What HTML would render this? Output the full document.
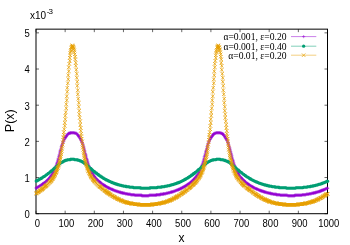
<!DOCTYPE html>
<html><head><meta charset="utf-8"><title>P(x)</title>
<style>html,body{margin:0;padding:0;background:#fff}body{width:350px;height:245px;overflow:hidden;font-family:"Liberation Sans",sans-serif}</style></head>
<body>
<svg width="350" height="245" viewBox="0 0 350 245" style="display:block;will-change:transform">
<rect width="350" height="245" fill="#fff"/>
<defs><clipPath id="c"><rect x="36.0" y="29.15" width="291.5" height="184.54999999999998"/></clipPath></defs>
<path d="M36 213.7v-3M36 29.15v3M65.15 213.7v-3M65.15 29.15v3M94.3 213.7v-3M94.3 29.15v3M123.45 213.7v-3M123.45 29.15v3M152.6 213.7v-3M152.6 29.15v3M181.75 213.7v-3M181.75 29.15v3M210.9 213.7v-3M210.9 29.15v3M240.05 213.7v-3M240.05 29.15v3M269.2 213.7v-3M269.2 29.15v3M298.35 213.7v-3M298.35 29.15v3M327.5 213.7v-3M327.5 29.15v3M36.0 213.7h3M327.5 213.7h-3M36.0 177.53h3M327.5 177.53h-3M36.0 141.36h3M327.5 141.36h-3M36.0 105.19h3M327.5 105.19h-3M36.0 69.02h3M327.5 69.02h-3M36.0 32.85h3M327.5 32.85h-3" stroke="#000" stroke-width="0.6" fill="none"/>
<rect x="36.0" y="29.15" width="291.5" height="184.54999999999998" fill="none" stroke="#000" stroke-width="1"/>
<g>
<path d="M36.25 188.25L36.25 187.75L36.75 187.75L37.25 187.25L37.75 187.25L38.25 186.75L38.75 186.75L39.25 186.25L39.75 185.75L40.25 185.75L40.75 185.25L41.25 185.25L41.75 184.75L42.25 184.25L42.75 184.25L42.75 183.75L43.25 183.75L43.75 183.25L44.25 183.25L44.25 182.75L44.75 182.75L45.25 182.25L45.75 181.75L46.25 181.25L46.75 180.75L47.25 180.75L47.25 180.25L47.75 179.75L48.25 179.25L48.75 179.25L48.75 178.75L49.25 178.25L49.75 177.75L49.75 177.25L50.25 177.25L50.75 176.75L50.75 176.25L51.25 175.75L51.25 175.25L51.75 175.25L52.25 174.75L52.25 174.25L52.75 173.75L52.75 173.25L53.25 172.75L53.25 172.25L53.75 171.75L54.25 170.75L54.25 170.25L54.75 169.75L54.75 168.75L55.25 168.25L55.75 167.25L55.75 166.75L56.25 165.75L56.25 165.25L56.75 164.25L56.75 163.25L57.25 162.25L57.75 161.25L57.75 160.25L58.25 159.25L58.25 158.25L58.75 156.75L59.25 155.75L59.25 154.75L59.75 153.75L59.75 152.25L60.25 151.25L60.25 150.25L60.75 149.25L61.25 148.25L61.25 146.75L61.75 146.25L61.75 145.25L62.25 144.25L62.75 143.25L62.75 142.75L63.25 141.75L63.25 141.25L63.75 140.75L63.75 139.75L64.25 139.25L64.75 138.75L64.75 138.25L65.25 137.75L65.25 137.25L65.75 136.75L66.25 136.75L66.25 136.25L66.75 135.75L66.75 135.25L67.25 134.75L67.75 134.25L68.25 133.75L68.75 133.75L68.75 133.25L69.25 133.25L69.75 133.25L70.25 133.25L70.25 132.75L70.75 132.75L71.25 132.75L71.75 132.75L72.25 132.75L72.75 132.75L73.25 132.75L73.75 132.75L74.25 132.75L74.75 133.25L75.25 133.25L75.75 133.25L76.25 133.25L76.75 133.75L77.25 134.25L77.75 134.75L77.75 135.25L78.25 135.75L78.75 135.75L78.75 136.25L79.25 136.75L79.25 137.25L79.75 137.75L80.25 138.25L80.25 138.75L80.75 139.25L80.75 139.75L81.25 140.25L81.25 140.75L81.75 141.75L82.25 142.25L82.25 143.25L82.75 143.75L82.75 144.75L83.25 145.75L83.75 146.75L83.75 147.75L84.25 148.75L84.25 149.75L84.75 150.75L84.75 151.75L85.25 153.25L85.75 154.25L85.75 155.25L86.25 156.25L86.25 157.75L86.75 158.75L87.25 159.75L87.25 160.75L87.75 161.75L87.75 162.75L88.25 163.75L88.25 164.75L88.75 165.75L89.25 166.25L89.25 167.25L89.75 167.75L89.75 168.75L90.25 169.25L90.75 170.25L90.75 170.75L91.25 171.25L91.25 171.75L91.75 172.25L91.75 172.75L92.25 173.25L92.75 173.75L92.75 174.25L93.25 174.75L93.25 175.25L93.75 175.75L94.25 176.25L94.25 176.75L94.75 176.75L94.75 177.25L95.25 177.75L95.75 178.25L96.25 178.75L96.75 179.25L96.75 179.75L97.25 179.75L97.75 180.25L98.25 180.75L98.75 181.25L99.25 181.75L99.75 181.75L99.75 182.25L100.25 182.25L100.25 182.75L100.75 182.75L101.25 183.25L101.75 183.75L102.25 184.25L102.75 184.25L103.25 184.75L103.75 184.75L103.75 185.25L104.25 185.25L104.75 185.75L105.25 185.75L105.25 186.25L105.75 186.25L106.25 186.75L106.75 186.75L107.25 187.25L107.75 187.25L108.25 187.75L108.75 187.75L108.75 188.25L109.25 188.25L109.75 188.25L110.25 188.75L110.75 188.75L111.25 189.25L111.75 189.25L112.25 189.25L112.25 189.75L112.75 189.75L113.25 189.75L113.75 190.25L114.25 190.25L114.75 190.75L115.25 190.75L115.75 190.75L116.25 191.25L116.75 191.25L117.25 191.25L117.75 191.75L118.25 191.75L118.75 191.75L119.25 192.25L119.75 192.25L120.25 192.25L120.75 192.25L120.75 192.75L121.25 192.75L121.75 192.75L122.25 192.75L122.75 192.75L122.75 193.25L123.25 193.25L123.75 193.25L124.25 193.25L124.75 193.25L125.25 193.75L125.75 193.75L126.25 193.75L126.75 193.75L127.25 193.75L127.75 194.25L128.25 194.25L128.75 194.25L129.25 194.25L129.75 194.25L130.25 194.25L130.75 194.75L131.25 194.75L131.75 194.75L132.25 194.75L132.75 194.75L133.25 194.75L133.75 194.75L134.25 194.75L134.75 195.25L135.25 195.25L135.75 195.25L136.25 195.25L136.75 195.25L137.25 195.25L137.75 195.25L138.25 195.25L138.75 195.25L139.25 195.25L139.75 195.25L140.25 195.25L140.75 195.25L141.25 195.25L141.75 195.25L141.75 195.75L142.25 195.75L142.75 195.75L143.25 195.75L143.75 195.75L144.25 195.75L144.75 195.75L145.25 195.75L145.75 195.75L146.25 195.75L146.75 195.75L147.25 195.75L147.75 195.75L148.25 195.75L148.75 195.75L149.25 195.25L149.75 195.25L150.25 195.25L150.75 195.25L151.25 195.25L151.75 195.25L152.25 195.25L152.75 195.25L153.25 195.25L153.75 195.25L154.25 195.25L154.75 195.25L155.25 195.25L155.75 195.25L156.25 195.25L156.25 194.75L156.75 194.75L157.25 194.75L157.75 194.75L158.25 194.75L158.75 194.75L159.25 194.75L159.75 194.75L160.25 194.75L160.25 194.25L160.75 194.25L161.25 194.25L161.75 194.25L162.25 194.25L162.75 194.25L163.25 194.25L163.25 193.75L163.75 193.75L164.25 193.75L164.75 193.75L165.25 193.75L165.75 193.75L166.25 193.25L166.75 193.25L167.25 193.25L167.75 193.25L168.25 192.75L168.75 192.75L169.25 192.75L169.75 192.75L170.25 192.25L170.75 192.25L171.25 192.25L171.75 192.25L171.75 191.75L172.25 191.75L172.75 191.75L173.25 191.75L173.75 191.25L174.25 191.25L174.75 191.25L175.25 190.75L175.75 190.75L176.25 190.25L176.75 190.25L177.25 190.25L177.75 189.75L178.25 189.75L178.75 189.75L178.75 189.25L179.25 189.25L179.75 189.25L180.25 188.75L180.75 188.75L180.75 188.25L181.25 188.25L181.75 188.25L182.25 187.75L182.75 187.75L182.75 187.25L183.25 187.25L183.75 186.75L184.25 186.75L184.75 186.75L184.75 186.25L185.25 186.25L185.75 185.75L186.25 185.75L186.25 185.25L186.75 185.25L187.25 184.75L187.75 184.75L187.75 184.25L188.25 184.25L188.75 183.75L189.25 183.75L189.25 183.25L189.75 183.25L190.25 182.75L190.75 182.25L191.25 182.25L191.25 181.75L191.75 181.75L191.75 181.25L192.25 181.25L192.75 180.75L193.25 180.25L193.25 179.75L193.75 179.75L193.75 179.25L194.25 179.25L194.75 178.75L194.75 178.25L195.25 178.25L195.25 177.75L195.75 177.25L196.25 177.25L196.25 176.75L196.75 176.25L196.75 175.75L197.25 175.25L197.75 174.75L198.25 174.25L198.25 173.75L198.75 173.25L198.75 172.75L199.25 172.25L199.75 171.75L199.75 170.75L200.25 170.25L200.25 169.75L200.75 168.75L200.75 168.25L201.25 167.25L201.75 166.75L201.75 165.75L202.25 165.25L202.25 164.25L202.75 163.25L203.25 162.25L203.25 161.25L203.75 160.25L203.75 159.25L204.25 158.25L204.25 156.75L204.75 155.75L205.25 154.75L205.25 153.75L205.75 152.25L205.75 151.25L206.25 150.25L206.75 149.25L206.75 148.25L207.25 146.75L207.25 146.25L207.75 145.25L207.75 144.25L208.25 143.25L208.75 142.75L208.75 141.75L209.25 141.25L209.25 140.75L209.75 139.75L210.25 139.25L210.25 138.75L210.75 138.25L210.75 137.75L211.25 137.25L211.25 136.75L211.75 136.75L212.25 136.25L212.25 135.75L212.75 135.25L212.75 134.75L213.25 134.75L213.75 134.25L213.75 133.75L214.25 133.75L214.75 133.25L215.25 133.25L215.75 133.25L216.25 132.75L216.75 132.75L217.25 132.75L217.75 132.75L218.25 132.75L218.75 132.75L219.25 132.75L219.75 132.75L220.25 132.75L220.75 133.25L221.25 133.25L221.75 133.25L222.25 133.75L222.75 133.75L222.75 134.25L223.25 134.25L223.25 134.75L223.75 135.25L224.25 135.75L224.75 136.25L224.75 136.75L225.25 137.25L225.25 137.75L225.75 138.25L226.25 138.75L226.25 139.25L226.75 139.75L226.75 140.25L227.25 140.75L227.75 141.75L227.75 142.25L228.25 143.25L228.25 143.75L228.75 144.75L228.75 145.75L229.25 146.75L229.75 147.75L229.75 148.75L230.25 149.75L230.25 150.75L230.75 151.75L231.25 153.25L231.25 154.25L231.75 155.25L231.75 156.25L232.25 157.75L232.25 158.75L232.75 159.75L233.25 160.75L233.25 161.75L233.75 162.75L233.75 163.75L234.25 164.75L234.75 165.75L234.75 166.25L235.25 167.25L235.25 167.75L235.75 168.75L235.75 169.25L236.25 170.25L236.75 170.75L236.75 171.25L237.25 171.75L237.25 172.25L237.75 172.75L238.25 173.25L238.25 173.75L238.75 174.25L238.75 174.75L239.25 175.25L239.25 175.75L239.75 176.25L240.25 176.75L240.75 177.25L240.75 177.75L241.25 177.75L241.75 178.25L241.75 178.75L242.25 178.75L242.25 179.25L242.75 179.75L243.25 180.25L243.75 180.25L243.75 180.75L244.25 180.75L244.25 181.25L244.75 181.25L245.25 181.75L245.75 182.25L246.25 182.75L246.75 183.25L247.25 183.25L247.25 183.75L247.75 183.75L247.75 184.25L248.25 184.25L248.75 184.25L248.75 184.75L249.25 184.75L249.75 185.25L250.25 185.75L250.75 185.75L251.25 186.25L251.75 186.25L252.25 186.75L252.75 186.75L252.75 187.25L253.25 187.25L253.75 187.75L254.25 187.75L254.75 188.25L255.25 188.25L255.75 188.75L256.25 188.75L256.75 188.75L256.75 189.25L257.25 189.25L257.75 189.25L258.25 189.75L258.75 189.75L259.25 190.25L259.75 190.25L260.25 190.25L260.25 190.75L260.75 190.75L261.25 190.75L261.75 190.75L261.75 191.25L262.25 191.25L262.75 191.25L263.25 191.25L263.25 191.75L263.75 191.75L264.25 191.75L264.75 191.75L264.75 192.25L265.25 192.25L265.75 192.25L266.25 192.25L266.75 192.75L267.25 192.75L267.75 192.75L268.25 192.75L268.75 193.25L269.25 193.25L269.75 193.25L270.25 193.25L270.75 193.25L270.75 193.75L271.25 193.75L271.75 193.75L272.25 193.75L272.75 193.75L273.25 194.25L273.75 194.25L274.25 194.25L274.75 194.25L275.25 194.25L275.75 194.25L276.25 194.25L276.25 194.75L276.75 194.75L277.25 194.75L277.75 194.75L278.25 194.75L278.75 194.75L279.25 194.75L279.75 194.75L280.25 195.25L280.75 195.25L281.25 195.25L281.75 195.25L282.25 195.25L282.75 195.25L283.25 195.25L283.75 195.25L284.25 195.25L284.75 195.25L285.25 195.25L285.75 195.25L286.25 195.25L286.75 195.25L287.25 195.25L287.75 195.75L288.25 195.75L288.75 195.75L289.25 195.75L289.75 195.75L290.25 195.75L290.75 195.75L291.25 195.75L291.75 195.75L292.25 195.75L292.75 195.75L293.25 195.75L293.75 195.75L294.25 195.75L294.75 195.75L294.75 195.25L295.25 195.25L295.75 195.25L296.25 195.25L296.75 195.25L297.25 195.25L297.75 195.25L298.25 195.25L298.75 195.25L299.25 195.25L299.75 195.25L300.25 195.25L300.75 195.25L301.25 195.25L301.75 195.25L302.25 194.75L302.75 194.75L303.25 194.75L303.75 194.75L304.25 194.75L304.75 194.75L305.25 194.75L305.75 194.75L306.25 194.25L306.75 194.25L307.25 194.25L307.75 194.25L308.25 194.25L308.75 194.25L309.25 193.75L309.75 193.75L310.25 193.75L310.75 193.75L311.25 193.75L311.75 193.25L312.25 193.25L312.75 193.25L313.25 193.25L313.75 193.25L313.75 192.75L314.25 192.75L314.75 192.75L315.25 192.75L315.75 192.75L315.75 192.25L316.25 192.25L316.75 192.25L317.25 192.25L317.75 191.75L318.25 191.75L318.75 191.75L319.25 191.75L319.25 191.25L319.75 191.25L320.25 191.25L320.75 191.25L320.75 190.75L321.25 190.75L321.75 190.75L321.75 190.25L322.25 190.25L322.75 190.25L323.25 190.25L323.25 189.75L323.75 189.75L324.25 189.75L324.75 189.25L325.25 189.25L325.75 188.75L326.25 188.75L326.75 188.25L327.25 188.25L327.75 188.25" stroke="#9400d3" stroke-width="0.5" fill="none"/>
<path d="M34.65 188.25h3.2M36.25 186.65v3.2M34.65 187.75h3.2M36.25 186.15v3.2M35.15 187.75h3.2M36.75 186.15v3.2M35.65 187.25h3.2M37.25 185.65v3.2M36.15 187.25h3.2M37.75 185.65v3.2M36.65 186.75h3.2M38.25 185.15v3.2M37.15 186.75h3.2M38.75 185.15v3.2M37.65 186.25h3.2M39.25 184.65v3.2M38.15 185.75h3.2M39.75 184.15v3.2M38.65 185.75h3.2M40.25 184.15v3.2M39.15 185.25h3.2M40.75 183.65v3.2M39.65 185.25h3.2M41.25 183.65v3.2M40.15 184.75h3.2M41.75 183.15v3.2M40.65 184.25h3.2M42.25 182.65v3.2M41.15 184.25h3.2M42.75 182.65v3.2M41.15 183.75h3.2M42.75 182.15v3.2M41.65 183.75h3.2M43.25 182.15v3.2M42.15 183.25h3.2M43.75 181.65v3.2M42.65 183.25h3.2M44.25 181.65v3.2M42.65 182.75h3.2M44.25 181.15v3.2M43.15 182.75h3.2M44.75 181.15v3.2M43.65 182.25h3.2M45.25 180.65v3.2M44.15 181.75h3.2M45.75 180.15v3.2M44.65 181.25h3.2M46.25 179.65v3.2M45.15 180.75h3.2M46.75 179.15v3.2M45.65 180.75h3.2M47.25 179.15v3.2M45.65 180.25h3.2M47.25 178.65v3.2M46.15 179.75h3.2M47.75 178.15v3.2M46.65 179.25h3.2M48.25 177.65v3.2M47.15 179.25h3.2M48.75 177.65v3.2M47.15 178.75h3.2M48.75 177.15v3.2M47.65 178.25h3.2M49.25 176.65v3.2M48.15 177.75h3.2M49.75 176.15v3.2M48.15 177.25h3.2M49.75 175.65v3.2M48.65 177.25h3.2M50.25 175.65v3.2M49.15 176.75h3.2M50.75 175.15v3.2M49.15 176.25h3.2M50.75 174.65v3.2M49.65 175.75h3.2M51.25 174.15v3.2M49.65 175.25h3.2M51.25 173.65v3.2M50.15 175.25h3.2M51.75 173.65v3.2M50.65 174.75h3.2M52.25 173.15v3.2M50.65 174.25h3.2M52.25 172.65v3.2M51.15 173.75h3.2M52.75 172.15v3.2M51.15 173.25h3.2M52.75 171.65v3.2M51.65 172.75h3.2M53.25 171.15v3.2M51.65 172.25h3.2M53.25 170.65v3.2M52.15 171.75h3.2M53.75 170.15v3.2M52.65 170.75h3.2M54.25 169.15v3.2M52.65 170.25h3.2M54.25 168.65v3.2M53.15 169.75h3.2M54.75 168.15v3.2M53.15 168.75h3.2M54.75 167.15v3.2M53.65 168.25h3.2M55.25 166.65v3.2M54.15 167.25h3.2M55.75 165.65v3.2M54.15 166.75h3.2M55.75 165.15v3.2M54.65 165.75h3.2M56.25 164.15v3.2M54.65 165.25h3.2M56.25 163.65v3.2M55.15 164.25h3.2M56.75 162.65v3.2M55.15 163.25h3.2M56.75 161.65v3.2M55.65 162.25h3.2M57.25 160.65v3.2M56.15 161.25h3.2M57.75 159.65v3.2M56.15 160.25h3.2M57.75 158.65v3.2M56.65 159.25h3.2M58.25 157.65v3.2M56.65 158.25h3.2M58.25 156.65v3.2M57.15 156.75h3.2M58.75 155.15v3.2M57.65 155.75h3.2M59.25 154.15v3.2M57.65 154.75h3.2M59.25 153.15v3.2M58.15 153.75h3.2M59.75 152.15v3.2M58.15 152.25h3.2M59.75 150.65v3.2M58.65 151.25h3.2M60.25 149.65v3.2M58.65 150.25h3.2M60.25 148.65v3.2M59.15 149.25h3.2M60.75 147.65v3.2M59.65 148.25h3.2M61.25 146.65v3.2M59.65 146.75h3.2M61.25 145.15v3.2M60.15 146.25h3.2M61.75 144.65v3.2M60.15 145.25h3.2M61.75 143.65v3.2M60.65 144.25h3.2M62.25 142.65v3.2M61.15 143.25h3.2M62.75 141.65v3.2M61.15 142.75h3.2M62.75 141.15v3.2M61.65 141.75h3.2M63.25 140.15v3.2M61.65 141.25h3.2M63.25 139.65v3.2M62.15 140.75h3.2M63.75 139.15v3.2M62.15 139.75h3.2M63.75 138.15v3.2M62.65 139.25h3.2M64.25 137.65v3.2M63.15 138.75h3.2M64.75 137.15v3.2M63.15 138.25h3.2M64.75 136.65v3.2M63.65 137.75h3.2M65.25 136.15v3.2M63.65 137.25h3.2M65.25 135.65v3.2M64.15 136.75h3.2M65.75 135.15v3.2M64.65 136.75h3.2M66.25 135.15v3.2M64.65 136.25h3.2M66.25 134.65v3.2M65.15 135.75h3.2M66.75 134.15v3.2M65.15 135.25h3.2M66.75 133.65v3.2M65.65 134.75h3.2M67.25 133.15v3.2M66.15 134.25h3.2M67.75 132.65v3.2M66.65 133.75h3.2M68.25 132.15v3.2M67.15 133.75h3.2M68.75 132.15v3.2M67.15 133.25h3.2M68.75 131.65v3.2M67.65 133.25h3.2M69.25 131.65v3.2M68.15 133.25h3.2M69.75 131.65v3.2M68.65 133.25h3.2M70.25 131.65v3.2M68.65 132.75h3.2M70.25 131.15v3.2M69.15 132.75h3.2M70.75 131.15v3.2M69.65 132.75h3.2M71.25 131.15v3.2M70.15 132.75h3.2M71.75 131.15v3.2M70.65 132.75h3.2M72.25 131.15v3.2M71.15 132.75h3.2M72.75 131.15v3.2M71.65 132.75h3.2M73.25 131.15v3.2M72.15 132.75h3.2M73.75 131.15v3.2M72.65 132.75h3.2M74.25 131.15v3.2M73.15 133.25h3.2M74.75 131.65v3.2M73.65 133.25h3.2M75.25 131.65v3.2M74.15 133.25h3.2M75.75 131.65v3.2M74.65 133.25h3.2M76.25 131.65v3.2M75.15 133.75h3.2M76.75 132.15v3.2M75.65 134.25h3.2M77.25 132.65v3.2M76.15 134.75h3.2M77.75 133.15v3.2M76.15 135.25h3.2M77.75 133.65v3.2M76.65 135.75h3.2M78.25 134.15v3.2M77.15 135.75h3.2M78.75 134.15v3.2M77.15 136.25h3.2M78.75 134.65v3.2M77.65 136.75h3.2M79.25 135.15v3.2M77.65 137.25h3.2M79.25 135.65v3.2M78.15 137.75h3.2M79.75 136.15v3.2M78.65 138.25h3.2M80.25 136.65v3.2M78.65 138.75h3.2M80.25 137.15v3.2M79.15 139.25h3.2M80.75 137.65v3.2M79.15 139.75h3.2M80.75 138.15v3.2M79.65 140.25h3.2M81.25 138.65v3.2M79.65 140.75h3.2M81.25 139.15v3.2M80.15 141.75h3.2M81.75 140.15v3.2M80.65 142.25h3.2M82.25 140.65v3.2M80.65 143.25h3.2M82.25 141.65v3.2M81.15 143.75h3.2M82.75 142.15v3.2M81.15 144.75h3.2M82.75 143.15v3.2M81.65 145.75h3.2M83.25 144.15v3.2M82.15 146.75h3.2M83.75 145.15v3.2M82.15 147.75h3.2M83.75 146.15v3.2M82.65 148.75h3.2M84.25 147.15v3.2M82.65 149.75h3.2M84.25 148.15v3.2M83.15 150.75h3.2M84.75 149.15v3.2M83.15 151.75h3.2M84.75 150.15v3.2M83.65 153.25h3.2M85.25 151.65v3.2M84.15 154.25h3.2M85.75 152.65v3.2M84.15 155.25h3.2M85.75 153.65v3.2M84.65 156.25h3.2M86.25 154.65v3.2M84.65 157.75h3.2M86.25 156.15v3.2M85.15 158.75h3.2M86.75 157.15v3.2M85.65 159.75h3.2M87.25 158.15v3.2M85.65 160.75h3.2M87.25 159.15v3.2M86.15 161.75h3.2M87.75 160.15v3.2M86.15 162.75h3.2M87.75 161.15v3.2M86.65 163.75h3.2M88.25 162.15v3.2M86.65 164.75h3.2M88.25 163.15v3.2M87.15 165.75h3.2M88.75 164.15v3.2M87.65 166.25h3.2M89.25 164.65v3.2M87.65 167.25h3.2M89.25 165.65v3.2M88.15 167.75h3.2M89.75 166.15v3.2M88.15 168.75h3.2M89.75 167.15v3.2M88.65 169.25h3.2M90.25 167.65v3.2M89.15 170.25h3.2M90.75 168.65v3.2M89.15 170.75h3.2M90.75 169.15v3.2M89.65 171.25h3.2M91.25 169.65v3.2M89.65 171.75h3.2M91.25 170.15v3.2M90.15 172.25h3.2M91.75 170.65v3.2M90.15 172.75h3.2M91.75 171.15v3.2M90.65 173.25h3.2M92.25 171.65v3.2M91.15 173.75h3.2M92.75 172.15v3.2M91.15 174.25h3.2M92.75 172.65v3.2M91.65 174.75h3.2M93.25 173.15v3.2M91.65 175.25h3.2M93.25 173.65v3.2M92.15 175.75h3.2M93.75 174.15v3.2M92.65 176.25h3.2M94.25 174.65v3.2M92.65 176.75h3.2M94.25 175.15v3.2M93.15 176.75h3.2M94.75 175.15v3.2M93.15 177.25h3.2M94.75 175.65v3.2M93.65 177.75h3.2M95.25 176.15v3.2M94.15 178.25h3.2M95.75 176.65v3.2M94.65 178.75h3.2M96.25 177.15v3.2M95.15 179.25h3.2M96.75 177.65v3.2M95.15 179.75h3.2M96.75 178.15v3.2M95.65 179.75h3.2M97.25 178.15v3.2M96.15 180.25h3.2M97.75 178.65v3.2M96.65 180.75h3.2M98.25 179.15v3.2M97.15 181.25h3.2M98.75 179.65v3.2M97.65 181.75h3.2M99.25 180.15v3.2M98.15 181.75h3.2M99.75 180.15v3.2M98.15 182.25h3.2M99.75 180.65v3.2M98.65 182.25h3.2M100.25 180.65v3.2M98.65 182.75h3.2M100.25 181.15v3.2M99.15 182.75h3.2M100.75 181.15v3.2M99.65 183.25h3.2M101.25 181.65v3.2M100.15 183.75h3.2M101.75 182.15v3.2M100.65 184.25h3.2M102.25 182.65v3.2M101.15 184.25h3.2M102.75 182.65v3.2M101.65 184.75h3.2M103.25 183.15v3.2M102.15 184.75h3.2M103.75 183.15v3.2M102.15 185.25h3.2M103.75 183.65v3.2M102.65 185.25h3.2M104.25 183.65v3.2M103.15 185.75h3.2M104.75 184.15v3.2M103.65 185.75h3.2M105.25 184.15v3.2M103.65 186.25h3.2M105.25 184.65v3.2M104.15 186.25h3.2M105.75 184.65v3.2M104.65 186.75h3.2M106.25 185.15v3.2M105.15 186.75h3.2M106.75 185.15v3.2M105.65 187.25h3.2M107.25 185.65v3.2M106.15 187.25h3.2M107.75 185.65v3.2M106.65 187.75h3.2M108.25 186.15v3.2M107.15 187.75h3.2M108.75 186.15v3.2M107.15 188.25h3.2M108.75 186.65v3.2M107.65 188.25h3.2M109.25 186.65v3.2M108.15 188.25h3.2M109.75 186.65v3.2M108.65 188.75h3.2M110.25 187.15v3.2M109.15 188.75h3.2M110.75 187.15v3.2M109.65 189.25h3.2M111.25 187.65v3.2M110.15 189.25h3.2M111.75 187.65v3.2M110.65 189.25h3.2M112.25 187.65v3.2M110.65 189.75h3.2M112.25 188.15v3.2M111.15 189.75h3.2M112.75 188.15v3.2M111.65 189.75h3.2M113.25 188.15v3.2M112.15 190.25h3.2M113.75 188.65v3.2M112.65 190.25h3.2M114.25 188.65v3.2M113.15 190.75h3.2M114.75 189.15v3.2M113.65 190.75h3.2M115.25 189.15v3.2M114.15 190.75h3.2M115.75 189.15v3.2M114.65 191.25h3.2M116.25 189.65v3.2M115.15 191.25h3.2M116.75 189.65v3.2M115.65 191.25h3.2M117.25 189.65v3.2M116.15 191.75h3.2M117.75 190.15v3.2M116.65 191.75h3.2M118.25 190.15v3.2M117.15 191.75h3.2M118.75 190.15v3.2M117.65 192.25h3.2M119.25 190.65v3.2M118.15 192.25h3.2M119.75 190.65v3.2M118.65 192.25h3.2M120.25 190.65v3.2M119.15 192.25h3.2M120.75 190.65v3.2M119.15 192.75h3.2M120.75 191.15v3.2M119.65 192.75h3.2M121.25 191.15v3.2M120.15 192.75h3.2M121.75 191.15v3.2M120.65 192.75h3.2M122.25 191.15v3.2M121.15 192.75h3.2M122.75 191.15v3.2M121.15 193.25h3.2M122.75 191.65v3.2M121.65 193.25h3.2M123.25 191.65v3.2M122.15 193.25h3.2M123.75 191.65v3.2M122.65 193.25h3.2M124.25 191.65v3.2M123.15 193.25h3.2M124.75 191.65v3.2M123.65 193.75h3.2M125.25 192.15v3.2M124.15 193.75h3.2M125.75 192.15v3.2M124.65 193.75h3.2M126.25 192.15v3.2M125.15 193.75h3.2M126.75 192.15v3.2M125.65 193.75h3.2M127.25 192.15v3.2M126.15 194.25h3.2M127.75 192.65v3.2M126.65 194.25h3.2M128.25 192.65v3.2M127.15 194.25h3.2M128.75 192.65v3.2M127.65 194.25h3.2M129.25 192.65v3.2M128.15 194.25h3.2M129.75 192.65v3.2M128.65 194.25h3.2M130.25 192.65v3.2M129.15 194.75h3.2M130.75 193.15v3.2M129.65 194.75h3.2M131.25 193.15v3.2M130.15 194.75h3.2M131.75 193.15v3.2M130.65 194.75h3.2M132.25 193.15v3.2M131.15 194.75h3.2M132.75 193.15v3.2M131.65 194.75h3.2M133.25 193.15v3.2M132.15 194.75h3.2M133.75 193.15v3.2M132.65 194.75h3.2M134.25 193.15v3.2M133.15 195.25h3.2M134.75 193.65v3.2M133.65 195.25h3.2M135.25 193.65v3.2M134.15 195.25h3.2M135.75 193.65v3.2M134.65 195.25h3.2M136.25 193.65v3.2M135.15 195.25h3.2M136.75 193.65v3.2M135.65 195.25h3.2M137.25 193.65v3.2M136.15 195.25h3.2M137.75 193.65v3.2M136.65 195.25h3.2M138.25 193.65v3.2M137.15 195.25h3.2M138.75 193.65v3.2M137.65 195.25h3.2M139.25 193.65v3.2M138.15 195.25h3.2M139.75 193.65v3.2M138.65 195.25h3.2M140.25 193.65v3.2M139.15 195.25h3.2M140.75 193.65v3.2M139.65 195.25h3.2M141.25 193.65v3.2M140.15 195.25h3.2M141.75 193.65v3.2M140.15 195.75h3.2M141.75 194.15v3.2M140.65 195.75h3.2M142.25 194.15v3.2M141.15 195.75h3.2M142.75 194.15v3.2M141.65 195.75h3.2M143.25 194.15v3.2M142.15 195.75h3.2M143.75 194.15v3.2M142.65 195.75h3.2M144.25 194.15v3.2M143.15 195.75h3.2M144.75 194.15v3.2M143.65 195.75h3.2M145.25 194.15v3.2M144.15 195.75h3.2M145.75 194.15v3.2M144.65 195.75h3.2M146.25 194.15v3.2M145.15 195.75h3.2M146.75 194.15v3.2M145.65 195.75h3.2M147.25 194.15v3.2M146.15 195.75h3.2M147.75 194.15v3.2M146.65 195.75h3.2M148.25 194.15v3.2M147.15 195.75h3.2M148.75 194.15v3.2M147.65 195.25h3.2M149.25 193.65v3.2M148.15 195.25h3.2M149.75 193.65v3.2M148.65 195.25h3.2M150.25 193.65v3.2M149.15 195.25h3.2M150.75 193.65v3.2M149.65 195.25h3.2M151.25 193.65v3.2M150.15 195.25h3.2M151.75 193.65v3.2M150.65 195.25h3.2M152.25 193.65v3.2M151.15 195.25h3.2M152.75 193.65v3.2M151.65 195.25h3.2M153.25 193.65v3.2M152.15 195.25h3.2M153.75 193.65v3.2M152.65 195.25h3.2M154.25 193.65v3.2M153.15 195.25h3.2M154.75 193.65v3.2M153.65 195.25h3.2M155.25 193.65v3.2M154.15 195.25h3.2M155.75 193.65v3.2M154.65 195.25h3.2M156.25 193.65v3.2M154.65 194.75h3.2M156.25 193.15v3.2M155.15 194.75h3.2M156.75 193.15v3.2M155.65 194.75h3.2M157.25 193.15v3.2M156.15 194.75h3.2M157.75 193.15v3.2M156.65 194.75h3.2M158.25 193.15v3.2M157.15 194.75h3.2M158.75 193.15v3.2M157.65 194.75h3.2M159.25 193.15v3.2M158.15 194.75h3.2M159.75 193.15v3.2M158.65 194.75h3.2M160.25 193.15v3.2M158.65 194.25h3.2M160.25 192.65v3.2M159.15 194.25h3.2M160.75 192.65v3.2M159.65 194.25h3.2M161.25 192.65v3.2M160.15 194.25h3.2M161.75 192.65v3.2M160.65 194.25h3.2M162.25 192.65v3.2M161.15 194.25h3.2M162.75 192.65v3.2M161.65 194.25h3.2M163.25 192.65v3.2M161.65 193.75h3.2M163.25 192.15v3.2M162.15 193.75h3.2M163.75 192.15v3.2M162.65 193.75h3.2M164.25 192.15v3.2M163.15 193.75h3.2M164.75 192.15v3.2M163.65 193.75h3.2M165.25 192.15v3.2M164.15 193.75h3.2M165.75 192.15v3.2M164.65 193.25h3.2M166.25 191.65v3.2M165.15 193.25h3.2M166.75 191.65v3.2M165.65 193.25h3.2M167.25 191.65v3.2M166.15 193.25h3.2M167.75 191.65v3.2M166.65 192.75h3.2M168.25 191.15v3.2M167.15 192.75h3.2M168.75 191.15v3.2M167.65 192.75h3.2M169.25 191.15v3.2M168.15 192.75h3.2M169.75 191.15v3.2M168.65 192.25h3.2M170.25 190.65v3.2M169.15 192.25h3.2M170.75 190.65v3.2M169.65 192.25h3.2M171.25 190.65v3.2M170.15 192.25h3.2M171.75 190.65v3.2M170.15 191.75h3.2M171.75 190.15v3.2M170.65 191.75h3.2M172.25 190.15v3.2M171.15 191.75h3.2M172.75 190.15v3.2M171.65 191.75h3.2M173.25 190.15v3.2M172.15 191.25h3.2M173.75 189.65v3.2M172.65 191.25h3.2M174.25 189.65v3.2M173.15 191.25h3.2M174.75 189.65v3.2M173.65 190.75h3.2M175.25 189.15v3.2M174.15 190.75h3.2M175.75 189.15v3.2M174.65 190.25h3.2M176.25 188.65v3.2M175.15 190.25h3.2M176.75 188.65v3.2M175.65 190.25h3.2M177.25 188.65v3.2M176.15 189.75h3.2M177.75 188.15v3.2M176.65 189.75h3.2M178.25 188.15v3.2M177.15 189.75h3.2M178.75 188.15v3.2M177.15 189.25h3.2M178.75 187.65v3.2M177.65 189.25h3.2M179.25 187.65v3.2M178.15 189.25h3.2M179.75 187.65v3.2M178.65 188.75h3.2M180.25 187.15v3.2M179.15 188.75h3.2M180.75 187.15v3.2M179.15 188.25h3.2M180.75 186.65v3.2M179.65 188.25h3.2M181.25 186.65v3.2M180.15 188.25h3.2M181.75 186.65v3.2M180.65 187.75h3.2M182.25 186.15v3.2M181.15 187.75h3.2M182.75 186.15v3.2M181.15 187.25h3.2M182.75 185.65v3.2M181.65 187.25h3.2M183.25 185.65v3.2M182.15 186.75h3.2M183.75 185.15v3.2M182.65 186.75h3.2M184.25 185.15v3.2M183.15 186.75h3.2M184.75 185.15v3.2M183.15 186.25h3.2M184.75 184.65v3.2M183.65 186.25h3.2M185.25 184.65v3.2M184.15 185.75h3.2M185.75 184.15v3.2M184.65 185.75h3.2M186.25 184.15v3.2M184.65 185.25h3.2M186.25 183.65v3.2M185.15 185.25h3.2M186.75 183.65v3.2M185.65 184.75h3.2M187.25 183.15v3.2M186.15 184.75h3.2M187.75 183.15v3.2M186.15 184.25h3.2M187.75 182.65v3.2M186.65 184.25h3.2M188.25 182.65v3.2M187.15 183.75h3.2M188.75 182.15v3.2M187.65 183.75h3.2M189.25 182.15v3.2M187.65 183.25h3.2M189.25 181.65v3.2M188.15 183.25h3.2M189.75 181.65v3.2M188.65 182.75h3.2M190.25 181.15v3.2M189.15 182.25h3.2M190.75 180.65v3.2M189.65 182.25h3.2M191.25 180.65v3.2M189.65 181.75h3.2M191.25 180.15v3.2M190.15 181.75h3.2M191.75 180.15v3.2M190.15 181.25h3.2M191.75 179.65v3.2M190.65 181.25h3.2M192.25 179.65v3.2M191.15 180.75h3.2M192.75 179.15v3.2M191.65 180.25h3.2M193.25 178.65v3.2M191.65 179.75h3.2M193.25 178.15v3.2M192.15 179.75h3.2M193.75 178.15v3.2M192.15 179.25h3.2M193.75 177.65v3.2M192.65 179.25h3.2M194.25 177.65v3.2M193.15 178.75h3.2M194.75 177.15v3.2M193.15 178.25h3.2M194.75 176.65v3.2M193.65 178.25h3.2M195.25 176.65v3.2M193.65 177.75h3.2M195.25 176.15v3.2M194.15 177.25h3.2M195.75 175.65v3.2M194.65 177.25h3.2M196.25 175.65v3.2M194.65 176.75h3.2M196.25 175.15v3.2M195.15 176.25h3.2M196.75 174.65v3.2M195.15 175.75h3.2M196.75 174.15v3.2M195.65 175.25h3.2M197.25 173.65v3.2M196.15 174.75h3.2M197.75 173.15v3.2M196.65 174.25h3.2M198.25 172.65v3.2M196.65 173.75h3.2M198.25 172.15v3.2M197.15 173.25h3.2M198.75 171.65v3.2M197.15 172.75h3.2M198.75 171.15v3.2M197.65 172.25h3.2M199.25 170.65v3.2M198.15 171.75h3.2M199.75 170.15v3.2M198.15 170.75h3.2M199.75 169.15v3.2M198.65 170.25h3.2M200.25 168.65v3.2M198.65 169.75h3.2M200.25 168.15v3.2M199.15 168.75h3.2M200.75 167.15v3.2M199.15 168.25h3.2M200.75 166.65v3.2M199.65 167.25h3.2M201.25 165.65v3.2M200.15 166.75h3.2M201.75 165.15v3.2M200.15 165.75h3.2M201.75 164.15v3.2M200.65 165.25h3.2M202.25 163.65v3.2M200.65 164.25h3.2M202.25 162.65v3.2M201.15 163.25h3.2M202.75 161.65v3.2M201.65 162.25h3.2M203.25 160.65v3.2M201.65 161.25h3.2M203.25 159.65v3.2M202.15 160.25h3.2M203.75 158.65v3.2M202.15 159.25h3.2M203.75 157.65v3.2M202.65 158.25h3.2M204.25 156.65v3.2M202.65 156.75h3.2M204.25 155.15v3.2M203.15 155.75h3.2M204.75 154.15v3.2M203.65 154.75h3.2M205.25 153.15v3.2M203.65 153.75h3.2M205.25 152.15v3.2M204.15 152.25h3.2M205.75 150.65v3.2M204.15 151.25h3.2M205.75 149.65v3.2M204.65 150.25h3.2M206.25 148.65v3.2M205.15 149.25h3.2M206.75 147.65v3.2M205.15 148.25h3.2M206.75 146.65v3.2M205.65 146.75h3.2M207.25 145.15v3.2M205.65 146.25h3.2M207.25 144.65v3.2M206.15 145.25h3.2M207.75 143.65v3.2M206.15 144.25h3.2M207.75 142.65v3.2M206.65 143.25h3.2M208.25 141.65v3.2M207.15 142.75h3.2M208.75 141.15v3.2M207.15 141.75h3.2M208.75 140.15v3.2M207.65 141.25h3.2M209.25 139.65v3.2M207.65 140.75h3.2M209.25 139.15v3.2M208.15 139.75h3.2M209.75 138.15v3.2M208.65 139.25h3.2M210.25 137.65v3.2M208.65 138.75h3.2M210.25 137.15v3.2M209.15 138.25h3.2M210.75 136.65v3.2M209.15 137.75h3.2M210.75 136.15v3.2M209.65 137.25h3.2M211.25 135.65v3.2M209.65 136.75h3.2M211.25 135.15v3.2M210.15 136.75h3.2M211.75 135.15v3.2M210.65 136.25h3.2M212.25 134.65v3.2M210.65 135.75h3.2M212.25 134.15v3.2M211.15 135.25h3.2M212.75 133.65v3.2M211.15 134.75h3.2M212.75 133.15v3.2M211.65 134.75h3.2M213.25 133.15v3.2M212.15 134.25h3.2M213.75 132.65v3.2M212.15 133.75h3.2M213.75 132.15v3.2M212.65 133.75h3.2M214.25 132.15v3.2M213.15 133.25h3.2M214.75 131.65v3.2M213.65 133.25h3.2M215.25 131.65v3.2M214.15 133.25h3.2M215.75 131.65v3.2M214.65 132.75h3.2M216.25 131.15v3.2M215.15 132.75h3.2M216.75 131.15v3.2M215.65 132.75h3.2M217.25 131.15v3.2M216.15 132.75h3.2M217.75 131.15v3.2M216.65 132.75h3.2M218.25 131.15v3.2M217.15 132.75h3.2M218.75 131.15v3.2M217.65 132.75h3.2M219.25 131.15v3.2M218.15 132.75h3.2M219.75 131.15v3.2M218.65 132.75h3.2M220.25 131.15v3.2M219.15 133.25h3.2M220.75 131.65v3.2M219.65 133.25h3.2M221.25 131.65v3.2M220.15 133.25h3.2M221.75 131.65v3.2M220.65 133.75h3.2M222.25 132.15v3.2M221.15 133.75h3.2M222.75 132.15v3.2M221.15 134.25h3.2M222.75 132.65v3.2M221.65 134.25h3.2M223.25 132.65v3.2M221.65 134.75h3.2M223.25 133.15v3.2M222.15 135.25h3.2M223.75 133.65v3.2M222.65 135.75h3.2M224.25 134.15v3.2M223.15 136.25h3.2M224.75 134.65v3.2M223.15 136.75h3.2M224.75 135.15v3.2M223.65 137.25h3.2M225.25 135.65v3.2M223.65 137.75h3.2M225.25 136.15v3.2M224.15 138.25h3.2M225.75 136.65v3.2M224.65 138.75h3.2M226.25 137.15v3.2M224.65 139.25h3.2M226.25 137.65v3.2M225.15 139.75h3.2M226.75 138.15v3.2M225.15 140.25h3.2M226.75 138.65v3.2M225.65 140.75h3.2M227.25 139.15v3.2M226.15 141.75h3.2M227.75 140.15v3.2M226.15 142.25h3.2M227.75 140.65v3.2M226.65 143.25h3.2M228.25 141.65v3.2M226.65 143.75h3.2M228.25 142.15v3.2M227.15 144.75h3.2M228.75 143.15v3.2M227.15 145.75h3.2M228.75 144.15v3.2M227.65 146.75h3.2M229.25 145.15v3.2M228.15 147.75h3.2M229.75 146.15v3.2M228.15 148.75h3.2M229.75 147.15v3.2M228.65 149.75h3.2M230.25 148.15v3.2M228.65 150.75h3.2M230.25 149.15v3.2M229.15 151.75h3.2M230.75 150.15v3.2M229.65 153.25h3.2M231.25 151.65v3.2M229.65 154.25h3.2M231.25 152.65v3.2M230.15 155.25h3.2M231.75 153.65v3.2M230.15 156.25h3.2M231.75 154.65v3.2M230.65 157.75h3.2M232.25 156.15v3.2M230.65 158.75h3.2M232.25 157.15v3.2M231.15 159.75h3.2M232.75 158.15v3.2M231.65 160.75h3.2M233.25 159.15v3.2M231.65 161.75h3.2M233.25 160.15v3.2M232.15 162.75h3.2M233.75 161.15v3.2M232.15 163.75h3.2M233.75 162.15v3.2M232.65 164.75h3.2M234.25 163.15v3.2M233.15 165.75h3.2M234.75 164.15v3.2M233.15 166.25h3.2M234.75 164.65v3.2M233.65 167.25h3.2M235.25 165.65v3.2M233.65 167.75h3.2M235.25 166.15v3.2M234.15 168.75h3.2M235.75 167.15v3.2M234.15 169.25h3.2M235.75 167.65v3.2M234.65 170.25h3.2M236.25 168.65v3.2M235.15 170.75h3.2M236.75 169.15v3.2M235.15 171.25h3.2M236.75 169.65v3.2M235.65 171.75h3.2M237.25 170.15v3.2M235.65 172.25h3.2M237.25 170.65v3.2M236.15 172.75h3.2M237.75 171.15v3.2M236.65 173.25h3.2M238.25 171.65v3.2M236.65 173.75h3.2M238.25 172.15v3.2M237.15 174.25h3.2M238.75 172.65v3.2M237.15 174.75h3.2M238.75 173.15v3.2M237.65 175.25h3.2M239.25 173.65v3.2M237.65 175.75h3.2M239.25 174.15v3.2M238.15 176.25h3.2M239.75 174.65v3.2M238.65 176.75h3.2M240.25 175.15v3.2M239.15 177.25h3.2M240.75 175.65v3.2M239.15 177.75h3.2M240.75 176.15v3.2M239.65 177.75h3.2M241.25 176.15v3.2M240.15 178.25h3.2M241.75 176.65v3.2M240.15 178.75h3.2M241.75 177.15v3.2M240.65 178.75h3.2M242.25 177.15v3.2M240.65 179.25h3.2M242.25 177.65v3.2M241.15 179.75h3.2M242.75 178.15v3.2M241.65 180.25h3.2M243.25 178.65v3.2M242.15 180.25h3.2M243.75 178.65v3.2M242.15 180.75h3.2M243.75 179.15v3.2M242.65 180.75h3.2M244.25 179.15v3.2M242.65 181.25h3.2M244.25 179.65v3.2M243.15 181.25h3.2M244.75 179.65v3.2M243.65 181.75h3.2M245.25 180.15v3.2M244.15 182.25h3.2M245.75 180.65v3.2M244.65 182.75h3.2M246.25 181.15v3.2M245.15 183.25h3.2M246.75 181.65v3.2M245.65 183.25h3.2M247.25 181.65v3.2M245.65 183.75h3.2M247.25 182.15v3.2M246.15 183.75h3.2M247.75 182.15v3.2M246.15 184.25h3.2M247.75 182.65v3.2M246.65 184.25h3.2M248.25 182.65v3.2M247.15 184.25h3.2M248.75 182.65v3.2M247.15 184.75h3.2M248.75 183.15v3.2M247.65 184.75h3.2M249.25 183.15v3.2M248.15 185.25h3.2M249.75 183.65v3.2M248.65 185.75h3.2M250.25 184.15v3.2M249.15 185.75h3.2M250.75 184.15v3.2M249.65 186.25h3.2M251.25 184.65v3.2M250.15 186.25h3.2M251.75 184.65v3.2M250.65 186.75h3.2M252.25 185.15v3.2M251.15 186.75h3.2M252.75 185.15v3.2M251.15 187.25h3.2M252.75 185.65v3.2M251.65 187.25h3.2M253.25 185.65v3.2M252.15 187.75h3.2M253.75 186.15v3.2M252.65 187.75h3.2M254.25 186.15v3.2M253.15 188.25h3.2M254.75 186.65v3.2M253.65 188.25h3.2M255.25 186.65v3.2M254.15 188.75h3.2M255.75 187.15v3.2M254.65 188.75h3.2M256.25 187.15v3.2M255.15 188.75h3.2M256.75 187.15v3.2M255.15 189.25h3.2M256.75 187.65v3.2M255.65 189.25h3.2M257.25 187.65v3.2M256.15 189.25h3.2M257.75 187.65v3.2M256.65 189.75h3.2M258.25 188.15v3.2M257.15 189.75h3.2M258.75 188.15v3.2M257.65 190.25h3.2M259.25 188.65v3.2M258.15 190.25h3.2M259.75 188.65v3.2M258.65 190.25h3.2M260.25 188.65v3.2M258.65 190.75h3.2M260.25 189.15v3.2M259.15 190.75h3.2M260.75 189.15v3.2M259.65 190.75h3.2M261.25 189.15v3.2M260.15 190.75h3.2M261.75 189.15v3.2M260.15 191.25h3.2M261.75 189.65v3.2M260.65 191.25h3.2M262.25 189.65v3.2M261.15 191.25h3.2M262.75 189.65v3.2M261.65 191.25h3.2M263.25 189.65v3.2M261.65 191.75h3.2M263.25 190.15v3.2M262.15 191.75h3.2M263.75 190.15v3.2M262.65 191.75h3.2M264.25 190.15v3.2M263.15 191.75h3.2M264.75 190.15v3.2M263.15 192.25h3.2M264.75 190.65v3.2M263.65 192.25h3.2M265.25 190.65v3.2M264.15 192.25h3.2M265.75 190.65v3.2M264.65 192.25h3.2M266.25 190.65v3.2M265.15 192.75h3.2M266.75 191.15v3.2M265.65 192.75h3.2M267.25 191.15v3.2M266.15 192.75h3.2M267.75 191.15v3.2M266.65 192.75h3.2M268.25 191.15v3.2M267.15 193.25h3.2M268.75 191.65v3.2M267.65 193.25h3.2M269.25 191.65v3.2M268.15 193.25h3.2M269.75 191.65v3.2M268.65 193.25h3.2M270.25 191.65v3.2M269.15 193.25h3.2M270.75 191.65v3.2M269.15 193.75h3.2M270.75 192.15v3.2M269.65 193.75h3.2M271.25 192.15v3.2M270.15 193.75h3.2M271.75 192.15v3.2M270.65 193.75h3.2M272.25 192.15v3.2M271.15 193.75h3.2M272.75 192.15v3.2M271.65 194.25h3.2M273.25 192.65v3.2M272.15 194.25h3.2M273.75 192.65v3.2M272.65 194.25h3.2M274.25 192.65v3.2M273.15 194.25h3.2M274.75 192.65v3.2M273.65 194.25h3.2M275.25 192.65v3.2M274.15 194.25h3.2M275.75 192.65v3.2M274.65 194.25h3.2M276.25 192.65v3.2M274.65 194.75h3.2M276.25 193.15v3.2M275.15 194.75h3.2M276.75 193.15v3.2M275.65 194.75h3.2M277.25 193.15v3.2M276.15 194.75h3.2M277.75 193.15v3.2M276.65 194.75h3.2M278.25 193.15v3.2M277.15 194.75h3.2M278.75 193.15v3.2M277.65 194.75h3.2M279.25 193.15v3.2M278.15 194.75h3.2M279.75 193.15v3.2M278.65 195.25h3.2M280.25 193.65v3.2M279.15 195.25h3.2M280.75 193.65v3.2M279.65 195.25h3.2M281.25 193.65v3.2M280.15 195.25h3.2M281.75 193.65v3.2M280.65 195.25h3.2M282.25 193.65v3.2M281.15 195.25h3.2M282.75 193.65v3.2M281.65 195.25h3.2M283.25 193.65v3.2M282.15 195.25h3.2M283.75 193.65v3.2M282.65 195.25h3.2M284.25 193.65v3.2M283.15 195.25h3.2M284.75 193.65v3.2M283.65 195.25h3.2M285.25 193.65v3.2M284.15 195.25h3.2M285.75 193.65v3.2M284.65 195.25h3.2M286.25 193.65v3.2M285.15 195.25h3.2M286.75 193.65v3.2M285.65 195.25h3.2M287.25 193.65v3.2M286.15 195.75h3.2M287.75 194.15v3.2M286.65 195.75h3.2M288.25 194.15v3.2M287.15 195.75h3.2M288.75 194.15v3.2M287.65 195.75h3.2M289.25 194.15v3.2M288.15 195.75h3.2M289.75 194.15v3.2M288.65 195.75h3.2M290.25 194.15v3.2M289.15 195.75h3.2M290.75 194.15v3.2M289.65 195.75h3.2M291.25 194.15v3.2M290.15 195.75h3.2M291.75 194.15v3.2M290.65 195.75h3.2M292.25 194.15v3.2M291.15 195.75h3.2M292.75 194.15v3.2M291.65 195.75h3.2M293.25 194.15v3.2M292.15 195.75h3.2M293.75 194.15v3.2M292.65 195.75h3.2M294.25 194.15v3.2M293.15 195.75h3.2M294.75 194.15v3.2M293.15 195.25h3.2M294.75 193.65v3.2M293.65 195.25h3.2M295.25 193.65v3.2M294.15 195.25h3.2M295.75 193.65v3.2M294.65 195.25h3.2M296.25 193.65v3.2M295.15 195.25h3.2M296.75 193.65v3.2M295.65 195.25h3.2M297.25 193.65v3.2M296.15 195.25h3.2M297.75 193.65v3.2M296.65 195.25h3.2M298.25 193.65v3.2M297.15 195.25h3.2M298.75 193.65v3.2M297.65 195.25h3.2M299.25 193.65v3.2M298.15 195.25h3.2M299.75 193.65v3.2M298.65 195.25h3.2M300.25 193.65v3.2M299.15 195.25h3.2M300.75 193.65v3.2M299.65 195.25h3.2M301.25 193.65v3.2M300.15 195.25h3.2M301.75 193.65v3.2M300.65 194.75h3.2M302.25 193.15v3.2M301.15 194.75h3.2M302.75 193.15v3.2M301.65 194.75h3.2M303.25 193.15v3.2M302.15 194.75h3.2M303.75 193.15v3.2M302.65 194.75h3.2M304.25 193.15v3.2M303.15 194.75h3.2M304.75 193.15v3.2M303.65 194.75h3.2M305.25 193.15v3.2M304.15 194.75h3.2M305.75 193.15v3.2M304.65 194.25h3.2M306.25 192.65v3.2M305.15 194.25h3.2M306.75 192.65v3.2M305.65 194.25h3.2M307.25 192.65v3.2M306.15 194.25h3.2M307.75 192.65v3.2M306.65 194.25h3.2M308.25 192.65v3.2M307.15 194.25h3.2M308.75 192.65v3.2M307.65 193.75h3.2M309.25 192.15v3.2M308.15 193.75h3.2M309.75 192.15v3.2M308.65 193.75h3.2M310.25 192.15v3.2M309.15 193.75h3.2M310.75 192.15v3.2M309.65 193.75h3.2M311.25 192.15v3.2M310.15 193.25h3.2M311.75 191.65v3.2M310.65 193.25h3.2M312.25 191.65v3.2M311.15 193.25h3.2M312.75 191.65v3.2M311.65 193.25h3.2M313.25 191.65v3.2M312.15 193.25h3.2M313.75 191.65v3.2M312.15 192.75h3.2M313.75 191.15v3.2M312.65 192.75h3.2M314.25 191.15v3.2M313.15 192.75h3.2M314.75 191.15v3.2M313.65 192.75h3.2M315.25 191.15v3.2M314.15 192.75h3.2M315.75 191.15v3.2M314.15 192.25h3.2M315.75 190.65v3.2M314.65 192.25h3.2M316.25 190.65v3.2M315.15 192.25h3.2M316.75 190.65v3.2M315.65 192.25h3.2M317.25 190.65v3.2M316.15 191.75h3.2M317.75 190.15v3.2M316.65 191.75h3.2M318.25 190.15v3.2M317.15 191.75h3.2M318.75 190.15v3.2M317.65 191.75h3.2M319.25 190.15v3.2M317.65 191.25h3.2M319.25 189.65v3.2M318.15 191.25h3.2M319.75 189.65v3.2M318.65 191.25h3.2M320.25 189.65v3.2M319.15 191.25h3.2M320.75 189.65v3.2M319.15 190.75h3.2M320.75 189.15v3.2M319.65 190.75h3.2M321.25 189.15v3.2M320.15 190.75h3.2M321.75 189.15v3.2M320.15 190.25h3.2M321.75 188.65v3.2M320.65 190.25h3.2M322.25 188.65v3.2M321.15 190.25h3.2M322.75 188.65v3.2M321.65 190.25h3.2M323.25 188.65v3.2M321.65 189.75h3.2M323.25 188.15v3.2M322.15 189.75h3.2M323.75 188.15v3.2M322.65 189.75h3.2M324.25 188.15v3.2M323.15 189.25h3.2M324.75 187.65v3.2M323.65 189.25h3.2M325.25 187.65v3.2M324.15 188.75h3.2M325.75 187.15v3.2M324.65 188.75h3.2M326.25 187.15v3.2M325.15 188.25h3.2M326.75 186.65v3.2M325.65 188.25h3.2M327.25 186.65v3.2M326.15 188.25h3.2M327.75 186.65v3.2" stroke="#9400d3" stroke-width="0.5" fill="none"/>
<path d="M36.25 181.25L36.25 180.75L36.75 180.75L37.25 180.75L37.25 180.25L37.75 180.25L38.25 180.25L38.25 179.75L38.75 179.75L39.25 179.25L39.75 179.25L40.25 178.75L40.75 178.75L40.75 178.25L41.25 178.25L41.75 178.25L41.75 177.75L42.25 177.75L42.75 177.25L43.25 176.75L43.75 176.75L44.25 176.25L44.75 176.25L45.25 175.75L45.75 175.25L46.25 174.75L46.75 174.75L47.25 174.25L47.75 173.75L48.25 173.25L48.75 173.25L49.25 172.75L49.75 172.25L50.25 171.75L50.75 171.75L50.75 171.25L51.25 171.25L51.25 170.75L51.75 170.75L52.25 170.25L52.75 169.75L53.25 169.25L53.75 168.75L54.25 168.75L54.25 168.25L54.75 168.25L54.75 167.75L55.25 167.75L55.75 167.25L56.25 166.75L56.75 166.25L57.25 165.75L57.75 165.75L57.75 165.25L58.25 165.25L58.25 164.75L58.75 164.75L59.25 164.25L59.75 163.75L60.25 163.25L60.75 162.75L61.25 162.75L61.75 162.25L62.25 162.25L62.75 161.75L63.25 161.75L63.25 161.25L63.75 161.25L64.25 160.75L64.75 160.75L65.25 160.75L65.25 160.25L65.75 160.25L66.25 160.25L66.75 160.25L67.25 159.75L67.75 159.75L68.25 159.75L68.75 159.75L69.25 159.75L69.75 159.75L70.25 159.75L70.25 159.25L70.75 159.25L71.25 159.25L71.75 159.25L72.25 159.25L72.75 159.25L73.25 159.25L73.75 159.25L74.25 159.25L74.75 159.75L75.25 159.75L75.75 159.75L76.25 159.75L76.75 159.75L77.25 159.75L77.75 159.75L77.75 160.25L78.25 160.25L78.75 160.25L79.25 160.25L79.75 160.75L80.25 160.75L80.75 160.75L80.75 161.25L81.25 161.25L81.75 161.25L82.25 161.75L82.75 161.75L82.75 162.25L83.25 162.25L83.75 162.25L83.75 162.75L84.25 162.75L84.25 163.25L84.75 163.25L84.75 163.75L85.25 163.75L85.75 164.25L86.25 164.75L86.75 165.25L87.25 165.25L87.25 165.75L87.75 165.75L87.75 166.25L88.25 166.25L88.25 166.75L88.75 166.75L89.25 167.25L89.75 167.75L90.25 168.25L90.75 168.25L90.75 168.75L91.25 168.75L91.25 169.25L91.75 169.25L91.75 169.75L92.25 169.75L92.75 170.25L93.25 170.75L93.75 171.25L94.25 171.25L94.25 171.75L94.75 171.75L94.75 172.25L95.25 172.25L95.75 172.75L96.25 172.75L96.25 173.25L96.75 173.25L96.75 173.75L97.25 173.75L97.75 174.25L98.25 174.25L98.25 174.75L98.75 174.75L98.75 175.25L99.25 175.25L99.75 175.75L100.25 175.75L100.25 176.25L100.75 176.25L101.25 176.75L101.75 176.75L101.75 177.25L102.25 177.25L102.75 177.75L103.25 177.75L103.25 178.25L103.75 178.25L104.25 178.75L104.75 178.75L105.25 179.25L105.75 179.25L105.75 179.75L106.25 179.75L106.75 179.75L106.75 180.25L107.25 180.25L107.75 180.25L108.25 180.75L108.75 180.75L108.75 181.25L109.25 181.25L109.75 181.25L110.25 181.75L110.75 181.75L111.25 182.25L111.75 182.25L112.25 182.25L112.25 182.75L112.75 182.75L113.25 182.75L113.75 183.25L114.25 183.25L114.75 183.25L114.75 183.75L115.25 183.75L115.75 183.75L116.25 183.75L116.25 184.25L116.75 184.25L117.25 184.25L117.75 184.25L117.75 184.75L118.25 184.75L118.75 184.75L119.25 184.75L119.75 185.25L120.25 185.25L120.75 185.25L121.25 185.25L121.75 185.75L122.25 185.75L122.75 185.75L123.25 185.75L123.75 186.25L124.25 186.25L124.75 186.25L125.25 186.25L125.75 186.25L126.25 186.25L126.25 186.75L126.75 186.75L127.25 186.75L127.75 186.75L128.25 186.75L128.75 186.75L129.25 186.75L129.75 187.25L130.25 187.25L130.75 187.25L131.25 187.25L131.75 187.25L132.25 187.25L132.75 187.25L133.25 187.25L133.75 187.75L134.25 187.75L134.75 187.75L135.25 187.75L135.75 187.75L136.25 187.75L136.75 187.75L137.25 187.75L137.75 187.75L138.25 187.75L138.75 187.75L139.25 187.75L139.75 187.75L140.25 187.75L140.75 187.75L140.75 188.25L141.25 188.25L141.75 188.25L142.25 188.25L142.75 188.25L143.25 188.25L143.75 188.25L144.25 188.25L144.75 188.25L145.25 188.25L145.75 188.25L146.25 188.25L146.75 188.25L147.25 188.25L147.75 188.25L148.25 188.25L148.75 188.25L149.25 188.25L149.75 188.25L149.75 187.75L150.25 187.75L150.75 187.75L151.25 187.75L151.75 187.75L152.25 187.75L152.75 187.75L153.25 187.75L153.75 187.75L154.25 187.75L154.75 187.75L155.25 187.75L155.75 187.75L156.25 187.75L156.75 187.75L157.25 187.25L157.75 187.25L158.25 187.25L158.75 187.25L159.25 187.25L159.75 187.25L160.25 187.25L160.75 187.25L161.25 187.25L161.25 186.75L161.75 186.75L162.25 186.75L162.75 186.75L163.25 186.75L163.75 186.75L164.25 186.75L164.75 186.25L165.25 186.25L165.75 186.25L166.25 186.25L166.75 186.25L167.25 185.75L167.75 185.75L168.25 185.75L168.75 185.75L169.25 185.75L169.75 185.25L170.25 185.25L170.75 185.25L171.25 184.75L171.75 184.75L172.25 184.75L172.75 184.75L173.25 184.25L173.75 184.25L174.25 184.25L174.75 183.75L175.25 183.75L175.75 183.75L176.25 183.25L176.75 183.25L177.25 183.25L177.25 182.75L177.75 182.75L178.25 182.75L178.75 182.75L178.75 182.25L179.25 182.25L179.75 182.25L180.25 181.75L180.75 181.75L181.25 181.25L181.75 181.25L182.25 180.75L182.75 180.75L183.25 180.25L183.75 180.25L184.25 179.75L184.75 179.75L184.75 179.25L185.25 179.25L185.75 179.25L185.75 178.75L186.25 178.75L186.75 178.25L187.25 178.25L187.75 177.75L188.25 177.75L188.25 177.25L188.75 177.25L189.25 176.75L189.75 176.75L189.75 176.25L190.25 176.25L190.75 175.75L191.25 175.75L191.25 175.25L191.75 175.25L191.75 174.75L192.25 174.75L192.75 174.75L192.75 174.25L193.25 174.25L193.25 173.75L193.75 173.75L193.75 173.25L194.25 173.25L194.75 173.25L194.75 172.75L195.25 172.75L195.25 172.25L195.75 172.25L196.25 171.75L196.75 171.25L197.25 170.75L197.75 170.25L198.25 170.25L198.25 169.75L198.75 169.75L198.75 169.25L199.25 169.25L199.75 168.75L200.25 168.25L200.75 167.75L201.25 167.25L201.75 167.25L201.75 166.75L202.25 166.75L202.25 166.25L202.75 166.25L203.25 165.75L203.75 165.25L204.25 164.75L204.75 164.25L205.25 164.25L205.25 163.75L205.75 163.75L205.75 163.25L206.25 163.25L206.75 162.75L207.25 162.75L207.25 162.25L207.75 162.25L208.25 161.75L208.75 161.75L209.25 161.25L209.75 161.25L210.25 160.75L210.75 160.75L211.25 160.25L211.75 160.25L212.25 160.25L212.75 160.25L212.75 159.75L213.25 159.75L213.75 159.75L214.25 159.75L214.75 159.75L215.25 159.75L215.75 159.75L216.25 159.25L216.75 159.25L217.25 159.25L217.75 159.25L218.25 159.25L218.75 159.25L219.25 159.25L219.75 159.25L220.25 159.25L220.75 159.75L221.25 159.75L221.75 159.75L222.25 159.75L222.75 159.75L223.25 159.75L223.75 160.25L224.25 160.25L224.75 160.25L225.25 160.25L225.25 160.75L225.75 160.75L226.25 160.75L226.75 161.25L227.25 161.25L227.75 161.25L227.75 161.75L228.25 161.75L228.75 162.25L229.25 162.25L229.75 162.75L230.25 163.25L230.75 163.75L231.25 163.75L231.25 164.25L231.75 164.25L231.75 164.75L232.25 164.75L232.25 165.25L232.75 165.25L233.25 165.75L233.75 166.25L234.25 166.75L234.75 166.75L234.75 167.25L235.25 167.25L235.25 167.75L235.75 167.75L235.75 168.25L236.25 168.25L236.75 168.75L237.25 169.25L237.75 169.75L238.25 169.75L238.25 170.25L238.75 170.25L238.75 170.75L239.25 170.75L239.25 171.25L239.75 171.25L240.25 171.75L240.75 172.25L241.25 172.25L241.75 172.75L242.25 173.25L242.75 173.75L243.25 174.25L243.75 174.25L244.25 174.75L244.75 175.25L245.25 175.25L245.25 175.75L245.75 175.75L246.25 176.25L246.75 176.75L247.25 176.75L247.75 177.25L248.25 177.25L248.75 177.75L249.25 178.25L249.75 178.25L249.75 178.75L250.25 178.75L250.75 178.75L250.75 179.25L251.25 179.25L251.75 179.75L252.25 179.75L252.75 180.25L253.25 180.25L253.75 180.75L254.25 180.75L254.75 181.25L255.25 181.25L255.75 181.75L256.25 181.75L256.75 181.75L256.75 182.25L257.25 182.25L257.75 182.25L258.25 182.75L258.75 182.75L259.25 183.25L259.75 183.25L260.25 183.25L260.75 183.75L261.25 183.75L261.75 183.75L262.25 184.25L262.75 184.25L263.25 184.25L263.75 184.75L264.25 184.75L264.75 184.75L265.25 184.75L265.25 185.25L265.75 185.25L266.25 185.25L266.75 185.25L267.25 185.25L267.25 185.75L267.75 185.75L268.25 185.75L268.75 185.75L269.25 185.75L269.25 186.25L269.75 186.25L270.25 186.25L270.75 186.25L271.25 186.25L271.75 186.25L272.25 186.75L272.75 186.75L273.25 186.75L273.75 186.75L274.25 186.75L274.75 186.75L275.25 186.75L275.25 187.25L275.75 187.25L276.25 187.25L276.75 187.25L277.25 187.25L277.75 187.25L278.25 187.25L278.75 187.25L279.25 187.25L279.25 187.75L279.75 187.75L280.25 187.75L280.75 187.75L281.25 187.75L281.75 187.75L282.25 187.75L282.75 187.75L283.25 187.75L283.75 187.75L284.25 187.75L284.75 187.75L285.25 187.75L285.75 187.75L286.25 187.75L286.75 188.25L287.25 188.25L287.75 188.25L288.25 188.25L288.75 188.25L289.25 188.25L289.75 188.25L290.25 188.25L290.75 188.25L291.25 188.25L291.75 188.25L292.25 188.25L292.75 188.25L293.25 188.25L293.75 188.25L294.25 188.25L294.75 188.25L295.25 188.25L295.75 187.75L296.25 187.75L296.75 187.75L297.25 187.75L297.75 187.75L298.25 187.75L298.75 187.75L299.25 187.75L299.75 187.75L300.25 187.75L300.75 187.75L301.25 187.75L301.75 187.75L302.25 187.75L302.75 187.75L303.25 187.25L303.75 187.25L304.25 187.25L304.75 187.25L305.25 187.25L305.75 187.25L306.25 187.25L306.75 187.25L307.25 186.75L307.75 186.75L308.25 186.75L308.75 186.75L309.25 186.75L309.75 186.75L310.25 186.75L310.25 186.25L310.75 186.25L311.25 186.25L311.75 186.25L312.25 186.25L312.75 186.25L312.75 185.75L313.25 185.75L313.75 185.75L314.25 185.75L314.75 185.75L315.25 185.25L315.75 185.25L316.25 185.25L316.75 185.25L317.25 184.75L317.75 184.75L318.25 184.75L318.75 184.25L319.25 184.25L319.75 184.25L320.25 184.25L320.75 183.75L321.25 183.75L321.75 183.75L321.75 183.25L322.25 183.25L322.75 183.25L323.25 182.75L323.75 182.75L324.25 182.75L324.75 182.25L325.25 182.25L325.75 181.75L326.25 181.75L326.75 181.75L326.75 181.25L327.25 181.25L327.75 181.25" stroke="#009e73" stroke-width="0.5" fill="none"/>
<path d="M34.65 181.25a1.6 1.6 0 1 0 3.2 0a1.6 1.6 0 1 0 -3.2 0zM34.65 180.75a1.6 1.6 0 1 0 3.2 0a1.6 1.6 0 1 0 -3.2 0zM35.15 180.75a1.6 1.6 0 1 0 3.2 0a1.6 1.6 0 1 0 -3.2 0zM35.65 180.75a1.6 1.6 0 1 0 3.2 0a1.6 1.6 0 1 0 -3.2 0zM35.65 180.25a1.6 1.6 0 1 0 3.2 0a1.6 1.6 0 1 0 -3.2 0zM36.15 180.25a1.6 1.6 0 1 0 3.2 0a1.6 1.6 0 1 0 -3.2 0zM36.65 180.25a1.6 1.6 0 1 0 3.2 0a1.6 1.6 0 1 0 -3.2 0zM36.65 179.75a1.6 1.6 0 1 0 3.2 0a1.6 1.6 0 1 0 -3.2 0zM37.15 179.75a1.6 1.6 0 1 0 3.2 0a1.6 1.6 0 1 0 -3.2 0zM37.65 179.25a1.6 1.6 0 1 0 3.2 0a1.6 1.6 0 1 0 -3.2 0zM38.15 179.25a1.6 1.6 0 1 0 3.2 0a1.6 1.6 0 1 0 -3.2 0zM38.65 178.75a1.6 1.6 0 1 0 3.2 0a1.6 1.6 0 1 0 -3.2 0zM39.15 178.75a1.6 1.6 0 1 0 3.2 0a1.6 1.6 0 1 0 -3.2 0zM39.15 178.25a1.6 1.6 0 1 0 3.2 0a1.6 1.6 0 1 0 -3.2 0zM39.65 178.25a1.6 1.6 0 1 0 3.2 0a1.6 1.6 0 1 0 -3.2 0zM40.15 178.25a1.6 1.6 0 1 0 3.2 0a1.6 1.6 0 1 0 -3.2 0zM40.15 177.75a1.6 1.6 0 1 0 3.2 0a1.6 1.6 0 1 0 -3.2 0zM40.65 177.75a1.6 1.6 0 1 0 3.2 0a1.6 1.6 0 1 0 -3.2 0zM41.15 177.25a1.6 1.6 0 1 0 3.2 0a1.6 1.6 0 1 0 -3.2 0zM41.65 176.75a1.6 1.6 0 1 0 3.2 0a1.6 1.6 0 1 0 -3.2 0zM42.15 176.75a1.6 1.6 0 1 0 3.2 0a1.6 1.6 0 1 0 -3.2 0zM42.65 176.25a1.6 1.6 0 1 0 3.2 0a1.6 1.6 0 1 0 -3.2 0zM43.15 176.25a1.6 1.6 0 1 0 3.2 0a1.6 1.6 0 1 0 -3.2 0zM43.65 175.75a1.6 1.6 0 1 0 3.2 0a1.6 1.6 0 1 0 -3.2 0zM44.15 175.25a1.6 1.6 0 1 0 3.2 0a1.6 1.6 0 1 0 -3.2 0zM44.65 174.75a1.6 1.6 0 1 0 3.2 0a1.6 1.6 0 1 0 -3.2 0zM45.15 174.75a1.6 1.6 0 1 0 3.2 0a1.6 1.6 0 1 0 -3.2 0zM45.65 174.25a1.6 1.6 0 1 0 3.2 0a1.6 1.6 0 1 0 -3.2 0zM46.15 173.75a1.6 1.6 0 1 0 3.2 0a1.6 1.6 0 1 0 -3.2 0zM46.65 173.25a1.6 1.6 0 1 0 3.2 0a1.6 1.6 0 1 0 -3.2 0zM47.15 173.25a1.6 1.6 0 1 0 3.2 0a1.6 1.6 0 1 0 -3.2 0zM47.65 172.75a1.6 1.6 0 1 0 3.2 0a1.6 1.6 0 1 0 -3.2 0zM48.15 172.25a1.6 1.6 0 1 0 3.2 0a1.6 1.6 0 1 0 -3.2 0zM48.65 171.75a1.6 1.6 0 1 0 3.2 0a1.6 1.6 0 1 0 -3.2 0zM49.15 171.75a1.6 1.6 0 1 0 3.2 0a1.6 1.6 0 1 0 -3.2 0zM49.15 171.25a1.6 1.6 0 1 0 3.2 0a1.6 1.6 0 1 0 -3.2 0zM49.65 171.25a1.6 1.6 0 1 0 3.2 0a1.6 1.6 0 1 0 -3.2 0zM49.65 170.75a1.6 1.6 0 1 0 3.2 0a1.6 1.6 0 1 0 -3.2 0zM50.15 170.75a1.6 1.6 0 1 0 3.2 0a1.6 1.6 0 1 0 -3.2 0zM50.65 170.25a1.6 1.6 0 1 0 3.2 0a1.6 1.6 0 1 0 -3.2 0zM51.15 169.75a1.6 1.6 0 1 0 3.2 0a1.6 1.6 0 1 0 -3.2 0zM51.65 169.25a1.6 1.6 0 1 0 3.2 0a1.6 1.6 0 1 0 -3.2 0zM52.15 168.75a1.6 1.6 0 1 0 3.2 0a1.6 1.6 0 1 0 -3.2 0zM52.65 168.75a1.6 1.6 0 1 0 3.2 0a1.6 1.6 0 1 0 -3.2 0zM52.65 168.25a1.6 1.6 0 1 0 3.2 0a1.6 1.6 0 1 0 -3.2 0zM53.15 168.25a1.6 1.6 0 1 0 3.2 0a1.6 1.6 0 1 0 -3.2 0zM53.15 167.75a1.6 1.6 0 1 0 3.2 0a1.6 1.6 0 1 0 -3.2 0zM53.65 167.75a1.6 1.6 0 1 0 3.2 0a1.6 1.6 0 1 0 -3.2 0zM54.15 167.25a1.6 1.6 0 1 0 3.2 0a1.6 1.6 0 1 0 -3.2 0zM54.65 166.75a1.6 1.6 0 1 0 3.2 0a1.6 1.6 0 1 0 -3.2 0zM55.15 166.25a1.6 1.6 0 1 0 3.2 0a1.6 1.6 0 1 0 -3.2 0zM55.65 165.75a1.6 1.6 0 1 0 3.2 0a1.6 1.6 0 1 0 -3.2 0zM56.15 165.75a1.6 1.6 0 1 0 3.2 0a1.6 1.6 0 1 0 -3.2 0zM56.15 165.25a1.6 1.6 0 1 0 3.2 0a1.6 1.6 0 1 0 -3.2 0zM56.65 165.25a1.6 1.6 0 1 0 3.2 0a1.6 1.6 0 1 0 -3.2 0zM56.65 164.75a1.6 1.6 0 1 0 3.2 0a1.6 1.6 0 1 0 -3.2 0zM57.15 164.75a1.6 1.6 0 1 0 3.2 0a1.6 1.6 0 1 0 -3.2 0zM57.65 164.25a1.6 1.6 0 1 0 3.2 0a1.6 1.6 0 1 0 -3.2 0zM58.15 163.75a1.6 1.6 0 1 0 3.2 0a1.6 1.6 0 1 0 -3.2 0zM58.65 163.25a1.6 1.6 0 1 0 3.2 0a1.6 1.6 0 1 0 -3.2 0zM59.15 162.75a1.6 1.6 0 1 0 3.2 0a1.6 1.6 0 1 0 -3.2 0zM59.65 162.75a1.6 1.6 0 1 0 3.2 0a1.6 1.6 0 1 0 -3.2 0zM60.15 162.25a1.6 1.6 0 1 0 3.2 0a1.6 1.6 0 1 0 -3.2 0zM60.65 162.25a1.6 1.6 0 1 0 3.2 0a1.6 1.6 0 1 0 -3.2 0zM61.15 161.75a1.6 1.6 0 1 0 3.2 0a1.6 1.6 0 1 0 -3.2 0zM61.65 161.75a1.6 1.6 0 1 0 3.2 0a1.6 1.6 0 1 0 -3.2 0zM61.65 161.25a1.6 1.6 0 1 0 3.2 0a1.6 1.6 0 1 0 -3.2 0zM62.15 161.25a1.6 1.6 0 1 0 3.2 0a1.6 1.6 0 1 0 -3.2 0zM62.65 160.75a1.6 1.6 0 1 0 3.2 0a1.6 1.6 0 1 0 -3.2 0zM63.15 160.75a1.6 1.6 0 1 0 3.2 0a1.6 1.6 0 1 0 -3.2 0zM63.65 160.75a1.6 1.6 0 1 0 3.2 0a1.6 1.6 0 1 0 -3.2 0zM63.65 160.25a1.6 1.6 0 1 0 3.2 0a1.6 1.6 0 1 0 -3.2 0zM64.15 160.25a1.6 1.6 0 1 0 3.2 0a1.6 1.6 0 1 0 -3.2 0zM64.65 160.25a1.6 1.6 0 1 0 3.2 0a1.6 1.6 0 1 0 -3.2 0zM65.15 160.25a1.6 1.6 0 1 0 3.2 0a1.6 1.6 0 1 0 -3.2 0zM65.65 159.75a1.6 1.6 0 1 0 3.2 0a1.6 1.6 0 1 0 -3.2 0zM66.15 159.75a1.6 1.6 0 1 0 3.2 0a1.6 1.6 0 1 0 -3.2 0zM66.65 159.75a1.6 1.6 0 1 0 3.2 0a1.6 1.6 0 1 0 -3.2 0zM67.15 159.75a1.6 1.6 0 1 0 3.2 0a1.6 1.6 0 1 0 -3.2 0zM67.65 159.75a1.6 1.6 0 1 0 3.2 0a1.6 1.6 0 1 0 -3.2 0zM68.15 159.75a1.6 1.6 0 1 0 3.2 0a1.6 1.6 0 1 0 -3.2 0zM68.65 159.75a1.6 1.6 0 1 0 3.2 0a1.6 1.6 0 1 0 -3.2 0zM68.65 159.25a1.6 1.6 0 1 0 3.2 0a1.6 1.6 0 1 0 -3.2 0zM69.15 159.25a1.6 1.6 0 1 0 3.2 0a1.6 1.6 0 1 0 -3.2 0zM69.65 159.25a1.6 1.6 0 1 0 3.2 0a1.6 1.6 0 1 0 -3.2 0zM70.15 159.25a1.6 1.6 0 1 0 3.2 0a1.6 1.6 0 1 0 -3.2 0zM70.65 159.25a1.6 1.6 0 1 0 3.2 0a1.6 1.6 0 1 0 -3.2 0zM71.15 159.25a1.6 1.6 0 1 0 3.2 0a1.6 1.6 0 1 0 -3.2 0zM71.65 159.25a1.6 1.6 0 1 0 3.2 0a1.6 1.6 0 1 0 -3.2 0zM72.15 159.25a1.6 1.6 0 1 0 3.2 0a1.6 1.6 0 1 0 -3.2 0zM72.65 159.25a1.6 1.6 0 1 0 3.2 0a1.6 1.6 0 1 0 -3.2 0zM73.15 159.75a1.6 1.6 0 1 0 3.2 0a1.6 1.6 0 1 0 -3.2 0zM73.65 159.75a1.6 1.6 0 1 0 3.2 0a1.6 1.6 0 1 0 -3.2 0zM74.15 159.75a1.6 1.6 0 1 0 3.2 0a1.6 1.6 0 1 0 -3.2 0zM74.65 159.75a1.6 1.6 0 1 0 3.2 0a1.6 1.6 0 1 0 -3.2 0zM75.15 159.75a1.6 1.6 0 1 0 3.2 0a1.6 1.6 0 1 0 -3.2 0zM75.65 159.75a1.6 1.6 0 1 0 3.2 0a1.6 1.6 0 1 0 -3.2 0zM76.15 159.75a1.6 1.6 0 1 0 3.2 0a1.6 1.6 0 1 0 -3.2 0zM76.15 160.25a1.6 1.6 0 1 0 3.2 0a1.6 1.6 0 1 0 -3.2 0zM76.65 160.25a1.6 1.6 0 1 0 3.2 0a1.6 1.6 0 1 0 -3.2 0zM77.15 160.25a1.6 1.6 0 1 0 3.2 0a1.6 1.6 0 1 0 -3.2 0zM77.65 160.25a1.6 1.6 0 1 0 3.2 0a1.6 1.6 0 1 0 -3.2 0zM78.15 160.75a1.6 1.6 0 1 0 3.2 0a1.6 1.6 0 1 0 -3.2 0zM78.65 160.75a1.6 1.6 0 1 0 3.2 0a1.6 1.6 0 1 0 -3.2 0zM79.15 160.75a1.6 1.6 0 1 0 3.2 0a1.6 1.6 0 1 0 -3.2 0zM79.15 161.25a1.6 1.6 0 1 0 3.2 0a1.6 1.6 0 1 0 -3.2 0zM79.65 161.25a1.6 1.6 0 1 0 3.2 0a1.6 1.6 0 1 0 -3.2 0zM80.15 161.25a1.6 1.6 0 1 0 3.2 0a1.6 1.6 0 1 0 -3.2 0zM80.65 161.75a1.6 1.6 0 1 0 3.2 0a1.6 1.6 0 1 0 -3.2 0zM81.15 161.75a1.6 1.6 0 1 0 3.2 0a1.6 1.6 0 1 0 -3.2 0zM81.15 162.25a1.6 1.6 0 1 0 3.2 0a1.6 1.6 0 1 0 -3.2 0zM81.65 162.25a1.6 1.6 0 1 0 3.2 0a1.6 1.6 0 1 0 -3.2 0zM82.15 162.25a1.6 1.6 0 1 0 3.2 0a1.6 1.6 0 1 0 -3.2 0zM82.15 162.75a1.6 1.6 0 1 0 3.2 0a1.6 1.6 0 1 0 -3.2 0zM82.65 162.75a1.6 1.6 0 1 0 3.2 0a1.6 1.6 0 1 0 -3.2 0zM82.65 163.25a1.6 1.6 0 1 0 3.2 0a1.6 1.6 0 1 0 -3.2 0zM83.15 163.25a1.6 1.6 0 1 0 3.2 0a1.6 1.6 0 1 0 -3.2 0zM83.15 163.75a1.6 1.6 0 1 0 3.2 0a1.6 1.6 0 1 0 -3.2 0zM83.65 163.75a1.6 1.6 0 1 0 3.2 0a1.6 1.6 0 1 0 -3.2 0zM84.15 164.25a1.6 1.6 0 1 0 3.2 0a1.6 1.6 0 1 0 -3.2 0zM84.65 164.75a1.6 1.6 0 1 0 3.2 0a1.6 1.6 0 1 0 -3.2 0zM85.15 165.25a1.6 1.6 0 1 0 3.2 0a1.6 1.6 0 1 0 -3.2 0zM85.65 165.25a1.6 1.6 0 1 0 3.2 0a1.6 1.6 0 1 0 -3.2 0zM85.65 165.75a1.6 1.6 0 1 0 3.2 0a1.6 1.6 0 1 0 -3.2 0zM86.15 165.75a1.6 1.6 0 1 0 3.2 0a1.6 1.6 0 1 0 -3.2 0zM86.15 166.25a1.6 1.6 0 1 0 3.2 0a1.6 1.6 0 1 0 -3.2 0zM86.65 166.25a1.6 1.6 0 1 0 3.2 0a1.6 1.6 0 1 0 -3.2 0zM86.65 166.75a1.6 1.6 0 1 0 3.2 0a1.6 1.6 0 1 0 -3.2 0zM87.15 166.75a1.6 1.6 0 1 0 3.2 0a1.6 1.6 0 1 0 -3.2 0zM87.65 167.25a1.6 1.6 0 1 0 3.2 0a1.6 1.6 0 1 0 -3.2 0zM88.15 167.75a1.6 1.6 0 1 0 3.2 0a1.6 1.6 0 1 0 -3.2 0zM88.65 168.25a1.6 1.6 0 1 0 3.2 0a1.6 1.6 0 1 0 -3.2 0zM89.15 168.25a1.6 1.6 0 1 0 3.2 0a1.6 1.6 0 1 0 -3.2 0zM89.15 168.75a1.6 1.6 0 1 0 3.2 0a1.6 1.6 0 1 0 -3.2 0zM89.65 168.75a1.6 1.6 0 1 0 3.2 0a1.6 1.6 0 1 0 -3.2 0zM89.65 169.25a1.6 1.6 0 1 0 3.2 0a1.6 1.6 0 1 0 -3.2 0zM90.15 169.25a1.6 1.6 0 1 0 3.2 0a1.6 1.6 0 1 0 -3.2 0zM90.15 169.75a1.6 1.6 0 1 0 3.2 0a1.6 1.6 0 1 0 -3.2 0zM90.65 169.75a1.6 1.6 0 1 0 3.2 0a1.6 1.6 0 1 0 -3.2 0zM91.15 170.25a1.6 1.6 0 1 0 3.2 0a1.6 1.6 0 1 0 -3.2 0zM91.65 170.75a1.6 1.6 0 1 0 3.2 0a1.6 1.6 0 1 0 -3.2 0zM92.15 171.25a1.6 1.6 0 1 0 3.2 0a1.6 1.6 0 1 0 -3.2 0zM92.65 171.25a1.6 1.6 0 1 0 3.2 0a1.6 1.6 0 1 0 -3.2 0zM92.65 171.75a1.6 1.6 0 1 0 3.2 0a1.6 1.6 0 1 0 -3.2 0zM93.15 171.75a1.6 1.6 0 1 0 3.2 0a1.6 1.6 0 1 0 -3.2 0zM93.15 172.25a1.6 1.6 0 1 0 3.2 0a1.6 1.6 0 1 0 -3.2 0zM93.65 172.25a1.6 1.6 0 1 0 3.2 0a1.6 1.6 0 1 0 -3.2 0zM94.15 172.75a1.6 1.6 0 1 0 3.2 0a1.6 1.6 0 1 0 -3.2 0zM94.65 172.75a1.6 1.6 0 1 0 3.2 0a1.6 1.6 0 1 0 -3.2 0zM94.65 173.25a1.6 1.6 0 1 0 3.2 0a1.6 1.6 0 1 0 -3.2 0zM95.15 173.25a1.6 1.6 0 1 0 3.2 0a1.6 1.6 0 1 0 -3.2 0zM95.15 173.75a1.6 1.6 0 1 0 3.2 0a1.6 1.6 0 1 0 -3.2 0zM95.65 173.75a1.6 1.6 0 1 0 3.2 0a1.6 1.6 0 1 0 -3.2 0zM96.15 174.25a1.6 1.6 0 1 0 3.2 0a1.6 1.6 0 1 0 -3.2 0zM96.65 174.25a1.6 1.6 0 1 0 3.2 0a1.6 1.6 0 1 0 -3.2 0zM96.65 174.75a1.6 1.6 0 1 0 3.2 0a1.6 1.6 0 1 0 -3.2 0zM97.15 174.75a1.6 1.6 0 1 0 3.2 0a1.6 1.6 0 1 0 -3.2 0zM97.15 175.25a1.6 1.6 0 1 0 3.2 0a1.6 1.6 0 1 0 -3.2 0zM97.65 175.25a1.6 1.6 0 1 0 3.2 0a1.6 1.6 0 1 0 -3.2 0zM98.15 175.75a1.6 1.6 0 1 0 3.2 0a1.6 1.6 0 1 0 -3.2 0zM98.65 175.75a1.6 1.6 0 1 0 3.2 0a1.6 1.6 0 1 0 -3.2 0zM98.65 176.25a1.6 1.6 0 1 0 3.2 0a1.6 1.6 0 1 0 -3.2 0zM99.15 176.25a1.6 1.6 0 1 0 3.2 0a1.6 1.6 0 1 0 -3.2 0zM99.65 176.75a1.6 1.6 0 1 0 3.2 0a1.6 1.6 0 1 0 -3.2 0zM100.15 176.75a1.6 1.6 0 1 0 3.2 0a1.6 1.6 0 1 0 -3.2 0zM100.15 177.25a1.6 1.6 0 1 0 3.2 0a1.6 1.6 0 1 0 -3.2 0zM100.65 177.25a1.6 1.6 0 1 0 3.2 0a1.6 1.6 0 1 0 -3.2 0zM101.15 177.75a1.6 1.6 0 1 0 3.2 0a1.6 1.6 0 1 0 -3.2 0zM101.65 177.75a1.6 1.6 0 1 0 3.2 0a1.6 1.6 0 1 0 -3.2 0zM101.65 178.25a1.6 1.6 0 1 0 3.2 0a1.6 1.6 0 1 0 -3.2 0zM102.15 178.25a1.6 1.6 0 1 0 3.2 0a1.6 1.6 0 1 0 -3.2 0zM102.65 178.75a1.6 1.6 0 1 0 3.2 0a1.6 1.6 0 1 0 -3.2 0zM103.15 178.75a1.6 1.6 0 1 0 3.2 0a1.6 1.6 0 1 0 -3.2 0zM103.65 179.25a1.6 1.6 0 1 0 3.2 0a1.6 1.6 0 1 0 -3.2 0zM104.15 179.25a1.6 1.6 0 1 0 3.2 0a1.6 1.6 0 1 0 -3.2 0zM104.15 179.75a1.6 1.6 0 1 0 3.2 0a1.6 1.6 0 1 0 -3.2 0zM104.65 179.75a1.6 1.6 0 1 0 3.2 0a1.6 1.6 0 1 0 -3.2 0zM105.15 179.75a1.6 1.6 0 1 0 3.2 0a1.6 1.6 0 1 0 -3.2 0zM105.15 180.25a1.6 1.6 0 1 0 3.2 0a1.6 1.6 0 1 0 -3.2 0zM105.65 180.25a1.6 1.6 0 1 0 3.2 0a1.6 1.6 0 1 0 -3.2 0zM106.15 180.25a1.6 1.6 0 1 0 3.2 0a1.6 1.6 0 1 0 -3.2 0zM106.65 180.75a1.6 1.6 0 1 0 3.2 0a1.6 1.6 0 1 0 -3.2 0zM107.15 180.75a1.6 1.6 0 1 0 3.2 0a1.6 1.6 0 1 0 -3.2 0zM107.15 181.25a1.6 1.6 0 1 0 3.2 0a1.6 1.6 0 1 0 -3.2 0zM107.65 181.25a1.6 1.6 0 1 0 3.2 0a1.6 1.6 0 1 0 -3.2 0zM108.15 181.25a1.6 1.6 0 1 0 3.2 0a1.6 1.6 0 1 0 -3.2 0zM108.65 181.75a1.6 1.6 0 1 0 3.2 0a1.6 1.6 0 1 0 -3.2 0zM109.15 181.75a1.6 1.6 0 1 0 3.2 0a1.6 1.6 0 1 0 -3.2 0zM109.65 182.25a1.6 1.6 0 1 0 3.2 0a1.6 1.6 0 1 0 -3.2 0zM110.15 182.25a1.6 1.6 0 1 0 3.2 0a1.6 1.6 0 1 0 -3.2 0zM110.65 182.25a1.6 1.6 0 1 0 3.2 0a1.6 1.6 0 1 0 -3.2 0zM110.65 182.75a1.6 1.6 0 1 0 3.2 0a1.6 1.6 0 1 0 -3.2 0zM111.15 182.75a1.6 1.6 0 1 0 3.2 0a1.6 1.6 0 1 0 -3.2 0zM111.65 182.75a1.6 1.6 0 1 0 3.2 0a1.6 1.6 0 1 0 -3.2 0zM112.15 183.25a1.6 1.6 0 1 0 3.2 0a1.6 1.6 0 1 0 -3.2 0zM112.65 183.25a1.6 1.6 0 1 0 3.2 0a1.6 1.6 0 1 0 -3.2 0zM113.15 183.25a1.6 1.6 0 1 0 3.2 0a1.6 1.6 0 1 0 -3.2 0zM113.15 183.75a1.6 1.6 0 1 0 3.2 0a1.6 1.6 0 1 0 -3.2 0zM113.65 183.75a1.6 1.6 0 1 0 3.2 0a1.6 1.6 0 1 0 -3.2 0zM114.15 183.75a1.6 1.6 0 1 0 3.2 0a1.6 1.6 0 1 0 -3.2 0zM114.65 183.75a1.6 1.6 0 1 0 3.2 0a1.6 1.6 0 1 0 -3.2 0zM114.65 184.25a1.6 1.6 0 1 0 3.2 0a1.6 1.6 0 1 0 -3.2 0zM115.15 184.25a1.6 1.6 0 1 0 3.2 0a1.6 1.6 0 1 0 -3.2 0zM115.65 184.25a1.6 1.6 0 1 0 3.2 0a1.6 1.6 0 1 0 -3.2 0zM116.15 184.25a1.6 1.6 0 1 0 3.2 0a1.6 1.6 0 1 0 -3.2 0zM116.15 184.75a1.6 1.6 0 1 0 3.2 0a1.6 1.6 0 1 0 -3.2 0zM116.65 184.75a1.6 1.6 0 1 0 3.2 0a1.6 1.6 0 1 0 -3.2 0zM117.15 184.75a1.6 1.6 0 1 0 3.2 0a1.6 1.6 0 1 0 -3.2 0zM117.65 184.75a1.6 1.6 0 1 0 3.2 0a1.6 1.6 0 1 0 -3.2 0zM118.15 185.25a1.6 1.6 0 1 0 3.2 0a1.6 1.6 0 1 0 -3.2 0zM118.65 185.25a1.6 1.6 0 1 0 3.2 0a1.6 1.6 0 1 0 -3.2 0zM119.15 185.25a1.6 1.6 0 1 0 3.2 0a1.6 1.6 0 1 0 -3.2 0zM119.65 185.25a1.6 1.6 0 1 0 3.2 0a1.6 1.6 0 1 0 -3.2 0zM120.15 185.75a1.6 1.6 0 1 0 3.2 0a1.6 1.6 0 1 0 -3.2 0zM120.65 185.75a1.6 1.6 0 1 0 3.2 0a1.6 1.6 0 1 0 -3.2 0zM121.15 185.75a1.6 1.6 0 1 0 3.2 0a1.6 1.6 0 1 0 -3.2 0zM121.65 185.75a1.6 1.6 0 1 0 3.2 0a1.6 1.6 0 1 0 -3.2 0zM122.15 186.25a1.6 1.6 0 1 0 3.2 0a1.6 1.6 0 1 0 -3.2 0zM122.65 186.25a1.6 1.6 0 1 0 3.2 0a1.6 1.6 0 1 0 -3.2 0zM123.15 186.25a1.6 1.6 0 1 0 3.2 0a1.6 1.6 0 1 0 -3.2 0zM123.65 186.25a1.6 1.6 0 1 0 3.2 0a1.6 1.6 0 1 0 -3.2 0zM124.15 186.25a1.6 1.6 0 1 0 3.2 0a1.6 1.6 0 1 0 -3.2 0zM124.65 186.25a1.6 1.6 0 1 0 3.2 0a1.6 1.6 0 1 0 -3.2 0zM124.65 186.75a1.6 1.6 0 1 0 3.2 0a1.6 1.6 0 1 0 -3.2 0zM125.15 186.75a1.6 1.6 0 1 0 3.2 0a1.6 1.6 0 1 0 -3.2 0zM125.65 186.75a1.6 1.6 0 1 0 3.2 0a1.6 1.6 0 1 0 -3.2 0zM126.15 186.75a1.6 1.6 0 1 0 3.2 0a1.6 1.6 0 1 0 -3.2 0zM126.65 186.75a1.6 1.6 0 1 0 3.2 0a1.6 1.6 0 1 0 -3.2 0zM127.15 186.75a1.6 1.6 0 1 0 3.2 0a1.6 1.6 0 1 0 -3.2 0zM127.65 186.75a1.6 1.6 0 1 0 3.2 0a1.6 1.6 0 1 0 -3.2 0zM128.15 187.25a1.6 1.6 0 1 0 3.2 0a1.6 1.6 0 1 0 -3.2 0zM128.65 187.25a1.6 1.6 0 1 0 3.2 0a1.6 1.6 0 1 0 -3.2 0zM129.15 187.25a1.6 1.6 0 1 0 3.2 0a1.6 1.6 0 1 0 -3.2 0zM129.65 187.25a1.6 1.6 0 1 0 3.2 0a1.6 1.6 0 1 0 -3.2 0zM130.15 187.25a1.6 1.6 0 1 0 3.2 0a1.6 1.6 0 1 0 -3.2 0zM130.65 187.25a1.6 1.6 0 1 0 3.2 0a1.6 1.6 0 1 0 -3.2 0zM131.15 187.25a1.6 1.6 0 1 0 3.2 0a1.6 1.6 0 1 0 -3.2 0zM131.65 187.25a1.6 1.6 0 1 0 3.2 0a1.6 1.6 0 1 0 -3.2 0zM132.15 187.75a1.6 1.6 0 1 0 3.2 0a1.6 1.6 0 1 0 -3.2 0zM132.65 187.75a1.6 1.6 0 1 0 3.2 0a1.6 1.6 0 1 0 -3.2 0zM133.15 187.75a1.6 1.6 0 1 0 3.2 0a1.6 1.6 0 1 0 -3.2 0zM133.65 187.75a1.6 1.6 0 1 0 3.2 0a1.6 1.6 0 1 0 -3.2 0zM134.15 187.75a1.6 1.6 0 1 0 3.2 0a1.6 1.6 0 1 0 -3.2 0zM134.65 187.75a1.6 1.6 0 1 0 3.2 0a1.6 1.6 0 1 0 -3.2 0zM135.15 187.75a1.6 1.6 0 1 0 3.2 0a1.6 1.6 0 1 0 -3.2 0zM135.65 187.75a1.6 1.6 0 1 0 3.2 0a1.6 1.6 0 1 0 -3.2 0zM136.15 187.75a1.6 1.6 0 1 0 3.2 0a1.6 1.6 0 1 0 -3.2 0zM136.65 187.75a1.6 1.6 0 1 0 3.2 0a1.6 1.6 0 1 0 -3.2 0zM137.15 187.75a1.6 1.6 0 1 0 3.2 0a1.6 1.6 0 1 0 -3.2 0zM137.65 187.75a1.6 1.6 0 1 0 3.2 0a1.6 1.6 0 1 0 -3.2 0zM138.15 187.75a1.6 1.6 0 1 0 3.2 0a1.6 1.6 0 1 0 -3.2 0zM138.65 187.75a1.6 1.6 0 1 0 3.2 0a1.6 1.6 0 1 0 -3.2 0zM139.15 187.75a1.6 1.6 0 1 0 3.2 0a1.6 1.6 0 1 0 -3.2 0zM139.15 188.25a1.6 1.6 0 1 0 3.2 0a1.6 1.6 0 1 0 -3.2 0zM139.65 188.25a1.6 1.6 0 1 0 3.2 0a1.6 1.6 0 1 0 -3.2 0zM140.15 188.25a1.6 1.6 0 1 0 3.2 0a1.6 1.6 0 1 0 -3.2 0zM140.65 188.25a1.6 1.6 0 1 0 3.2 0a1.6 1.6 0 1 0 -3.2 0zM141.15 188.25a1.6 1.6 0 1 0 3.2 0a1.6 1.6 0 1 0 -3.2 0zM141.65 188.25a1.6 1.6 0 1 0 3.2 0a1.6 1.6 0 1 0 -3.2 0zM142.15 188.25a1.6 1.6 0 1 0 3.2 0a1.6 1.6 0 1 0 -3.2 0zM142.65 188.25a1.6 1.6 0 1 0 3.2 0a1.6 1.6 0 1 0 -3.2 0zM143.15 188.25a1.6 1.6 0 1 0 3.2 0a1.6 1.6 0 1 0 -3.2 0zM143.65 188.25a1.6 1.6 0 1 0 3.2 0a1.6 1.6 0 1 0 -3.2 0zM144.15 188.25a1.6 1.6 0 1 0 3.2 0a1.6 1.6 0 1 0 -3.2 0zM144.65 188.25a1.6 1.6 0 1 0 3.2 0a1.6 1.6 0 1 0 -3.2 0zM145.15 188.25a1.6 1.6 0 1 0 3.2 0a1.6 1.6 0 1 0 -3.2 0zM145.65 188.25a1.6 1.6 0 1 0 3.2 0a1.6 1.6 0 1 0 -3.2 0zM146.15 188.25a1.6 1.6 0 1 0 3.2 0a1.6 1.6 0 1 0 -3.2 0zM146.65 188.25a1.6 1.6 0 1 0 3.2 0a1.6 1.6 0 1 0 -3.2 0zM147.15 188.25a1.6 1.6 0 1 0 3.2 0a1.6 1.6 0 1 0 -3.2 0zM147.65 188.25a1.6 1.6 0 1 0 3.2 0a1.6 1.6 0 1 0 -3.2 0zM148.15 188.25a1.6 1.6 0 1 0 3.2 0a1.6 1.6 0 1 0 -3.2 0zM148.15 187.75a1.6 1.6 0 1 0 3.2 0a1.6 1.6 0 1 0 -3.2 0zM148.65 187.75a1.6 1.6 0 1 0 3.2 0a1.6 1.6 0 1 0 -3.2 0zM149.15 187.75a1.6 1.6 0 1 0 3.2 0a1.6 1.6 0 1 0 -3.2 0zM149.65 187.75a1.6 1.6 0 1 0 3.2 0a1.6 1.6 0 1 0 -3.2 0zM150.15 187.75a1.6 1.6 0 1 0 3.2 0a1.6 1.6 0 1 0 -3.2 0zM150.65 187.75a1.6 1.6 0 1 0 3.2 0a1.6 1.6 0 1 0 -3.2 0zM151.15 187.75a1.6 1.6 0 1 0 3.2 0a1.6 1.6 0 1 0 -3.2 0zM151.65 187.75a1.6 1.6 0 1 0 3.2 0a1.6 1.6 0 1 0 -3.2 0zM152.15 187.75a1.6 1.6 0 1 0 3.2 0a1.6 1.6 0 1 0 -3.2 0zM152.65 187.75a1.6 1.6 0 1 0 3.2 0a1.6 1.6 0 1 0 -3.2 0zM153.15 187.75a1.6 1.6 0 1 0 3.2 0a1.6 1.6 0 1 0 -3.2 0zM153.65 187.75a1.6 1.6 0 1 0 3.2 0a1.6 1.6 0 1 0 -3.2 0zM154.15 187.75a1.6 1.6 0 1 0 3.2 0a1.6 1.6 0 1 0 -3.2 0zM154.65 187.75a1.6 1.6 0 1 0 3.2 0a1.6 1.6 0 1 0 -3.2 0zM155.15 187.75a1.6 1.6 0 1 0 3.2 0a1.6 1.6 0 1 0 -3.2 0zM155.65 187.25a1.6 1.6 0 1 0 3.2 0a1.6 1.6 0 1 0 -3.2 0zM156.15 187.25a1.6 1.6 0 1 0 3.2 0a1.6 1.6 0 1 0 -3.2 0zM156.65 187.25a1.6 1.6 0 1 0 3.2 0a1.6 1.6 0 1 0 -3.2 0zM157.15 187.25a1.6 1.6 0 1 0 3.2 0a1.6 1.6 0 1 0 -3.2 0zM157.65 187.25a1.6 1.6 0 1 0 3.2 0a1.6 1.6 0 1 0 -3.2 0zM158.15 187.25a1.6 1.6 0 1 0 3.2 0a1.6 1.6 0 1 0 -3.2 0zM158.65 187.25a1.6 1.6 0 1 0 3.2 0a1.6 1.6 0 1 0 -3.2 0zM159.15 187.25a1.6 1.6 0 1 0 3.2 0a1.6 1.6 0 1 0 -3.2 0zM159.65 187.25a1.6 1.6 0 1 0 3.2 0a1.6 1.6 0 1 0 -3.2 0zM159.65 186.75a1.6 1.6 0 1 0 3.2 0a1.6 1.6 0 1 0 -3.2 0zM160.15 186.75a1.6 1.6 0 1 0 3.2 0a1.6 1.6 0 1 0 -3.2 0zM160.65 186.75a1.6 1.6 0 1 0 3.2 0a1.6 1.6 0 1 0 -3.2 0zM161.15 186.75a1.6 1.6 0 1 0 3.2 0a1.6 1.6 0 1 0 -3.2 0zM161.65 186.75a1.6 1.6 0 1 0 3.2 0a1.6 1.6 0 1 0 -3.2 0zM162.15 186.75a1.6 1.6 0 1 0 3.2 0a1.6 1.6 0 1 0 -3.2 0zM162.65 186.75a1.6 1.6 0 1 0 3.2 0a1.6 1.6 0 1 0 -3.2 0zM163.15 186.25a1.6 1.6 0 1 0 3.2 0a1.6 1.6 0 1 0 -3.2 0zM163.65 186.25a1.6 1.6 0 1 0 3.2 0a1.6 1.6 0 1 0 -3.2 0zM164.15 186.25a1.6 1.6 0 1 0 3.2 0a1.6 1.6 0 1 0 -3.2 0zM164.65 186.25a1.6 1.6 0 1 0 3.2 0a1.6 1.6 0 1 0 -3.2 0zM165.15 186.25a1.6 1.6 0 1 0 3.2 0a1.6 1.6 0 1 0 -3.2 0zM165.65 185.75a1.6 1.6 0 1 0 3.2 0a1.6 1.6 0 1 0 -3.2 0zM166.15 185.75a1.6 1.6 0 1 0 3.2 0a1.6 1.6 0 1 0 -3.2 0zM166.65 185.75a1.6 1.6 0 1 0 3.2 0a1.6 1.6 0 1 0 -3.2 0zM167.15 185.75a1.6 1.6 0 1 0 3.2 0a1.6 1.6 0 1 0 -3.2 0zM167.65 185.75a1.6 1.6 0 1 0 3.2 0a1.6 1.6 0 1 0 -3.2 0zM168.15 185.25a1.6 1.6 0 1 0 3.2 0a1.6 1.6 0 1 0 -3.2 0zM168.65 185.25a1.6 1.6 0 1 0 3.2 0a1.6 1.6 0 1 0 -3.2 0zM169.15 185.25a1.6 1.6 0 1 0 3.2 0a1.6 1.6 0 1 0 -3.2 0zM169.65 184.75a1.6 1.6 0 1 0 3.2 0a1.6 1.6 0 1 0 -3.2 0zM170.15 184.75a1.6 1.6 0 1 0 3.2 0a1.6 1.6 0 1 0 -3.2 0zM170.65 184.75a1.6 1.6 0 1 0 3.2 0a1.6 1.6 0 1 0 -3.2 0zM171.15 184.75a1.6 1.6 0 1 0 3.2 0a1.6 1.6 0 1 0 -3.2 0zM171.65 184.25a1.6 1.6 0 1 0 3.2 0a1.6 1.6 0 1 0 -3.2 0zM172.15 184.25a1.6 1.6 0 1 0 3.2 0a1.6 1.6 0 1 0 -3.2 0zM172.65 184.25a1.6 1.6 0 1 0 3.2 0a1.6 1.6 0 1 0 -3.2 0zM173.15 183.75a1.6 1.6 0 1 0 3.2 0a1.6 1.6 0 1 0 -3.2 0zM173.65 183.75a1.6 1.6 0 1 0 3.2 0a1.6 1.6 0 1 0 -3.2 0zM174.15 183.75a1.6 1.6 0 1 0 3.2 0a1.6 1.6 0 1 0 -3.2 0zM174.65 183.25a1.6 1.6 0 1 0 3.2 0a1.6 1.6 0 1 0 -3.2 0zM175.15 183.25a1.6 1.6 0 1 0 3.2 0a1.6 1.6 0 1 0 -3.2 0zM175.65 183.25a1.6 1.6 0 1 0 3.2 0a1.6 1.6 0 1 0 -3.2 0zM175.65 182.75a1.6 1.6 0 1 0 3.2 0a1.6 1.6 0 1 0 -3.2 0zM176.15 182.75a1.6 1.6 0 1 0 3.2 0a1.6 1.6 0 1 0 -3.2 0zM176.65 182.75a1.6 1.6 0 1 0 3.2 0a1.6 1.6 0 1 0 -3.2 0zM177.15 182.75a1.6 1.6 0 1 0 3.2 0a1.6 1.6 0 1 0 -3.2 0zM177.15 182.25a1.6 1.6 0 1 0 3.2 0a1.6 1.6 0 1 0 -3.2 0zM177.65 182.25a1.6 1.6 0 1 0 3.2 0a1.6 1.6 0 1 0 -3.2 0zM178.15 182.25a1.6 1.6 0 1 0 3.2 0a1.6 1.6 0 1 0 -3.2 0zM178.65 181.75a1.6 1.6 0 1 0 3.2 0a1.6 1.6 0 1 0 -3.2 0zM179.15 181.75a1.6 1.6 0 1 0 3.2 0a1.6 1.6 0 1 0 -3.2 0zM179.65 181.25a1.6 1.6 0 1 0 3.2 0a1.6 1.6 0 1 0 -3.2 0zM180.15 181.25a1.6 1.6 0 1 0 3.2 0a1.6 1.6 0 1 0 -3.2 0zM180.65 180.75a1.6 1.6 0 1 0 3.2 0a1.6 1.6 0 1 0 -3.2 0zM181.15 180.75a1.6 1.6 0 1 0 3.2 0a1.6 1.6 0 1 0 -3.2 0zM181.65 180.25a1.6 1.6 0 1 0 3.2 0a1.6 1.6 0 1 0 -3.2 0zM182.15 180.25a1.6 1.6 0 1 0 3.2 0a1.6 1.6 0 1 0 -3.2 0zM182.65 179.75a1.6 1.6 0 1 0 3.2 0a1.6 1.6 0 1 0 -3.2 0zM183.15 179.75a1.6 1.6 0 1 0 3.2 0a1.6 1.6 0 1 0 -3.2 0zM183.15 179.25a1.6 1.6 0 1 0 3.2 0a1.6 1.6 0 1 0 -3.2 0zM183.65 179.25a1.6 1.6 0 1 0 3.2 0a1.6 1.6 0 1 0 -3.2 0zM184.15 179.25a1.6 1.6 0 1 0 3.2 0a1.6 1.6 0 1 0 -3.2 0zM184.15 178.75a1.6 1.6 0 1 0 3.2 0a1.6 1.6 0 1 0 -3.2 0zM184.65 178.75a1.6 1.6 0 1 0 3.2 0a1.6 1.6 0 1 0 -3.2 0zM185.15 178.25a1.6 1.6 0 1 0 3.2 0a1.6 1.6 0 1 0 -3.2 0zM185.65 178.25a1.6 1.6 0 1 0 3.2 0a1.6 1.6 0 1 0 -3.2 0zM186.15 177.75a1.6 1.6 0 1 0 3.2 0a1.6 1.6 0 1 0 -3.2 0zM186.65 177.75a1.6 1.6 0 1 0 3.2 0a1.6 1.6 0 1 0 -3.2 0zM186.65 177.25a1.6 1.6 0 1 0 3.2 0a1.6 1.6 0 1 0 -3.2 0zM187.15 177.25a1.6 1.6 0 1 0 3.2 0a1.6 1.6 0 1 0 -3.2 0zM187.65 176.75a1.6 1.6 0 1 0 3.2 0a1.6 1.6 0 1 0 -3.2 0zM188.15 176.75a1.6 1.6 0 1 0 3.2 0a1.6 1.6 0 1 0 -3.2 0zM188.15 176.25a1.6 1.6 0 1 0 3.2 0a1.6 1.6 0 1 0 -3.2 0zM188.65 176.25a1.6 1.6 0 1 0 3.2 0a1.6 1.6 0 1 0 -3.2 0zM189.15 175.75a1.6 1.6 0 1 0 3.2 0a1.6 1.6 0 1 0 -3.2 0zM189.65 175.75a1.6 1.6 0 1 0 3.2 0a1.6 1.6 0 1 0 -3.2 0zM189.65 175.25a1.6 1.6 0 1 0 3.2 0a1.6 1.6 0 1 0 -3.2 0zM190.15 175.25a1.6 1.6 0 1 0 3.2 0a1.6 1.6 0 1 0 -3.2 0zM190.15 174.75a1.6 1.6 0 1 0 3.2 0a1.6 1.6 0 1 0 -3.2 0zM190.65 174.75a1.6 1.6 0 1 0 3.2 0a1.6 1.6 0 1 0 -3.2 0zM191.15 174.75a1.6 1.6 0 1 0 3.2 0a1.6 1.6 0 1 0 -3.2 0zM191.15 174.25a1.6 1.6 0 1 0 3.2 0a1.6 1.6 0 1 0 -3.2 0zM191.65 174.25a1.6 1.6 0 1 0 3.2 0a1.6 1.6 0 1 0 -3.2 0zM191.65 173.75a1.6 1.6 0 1 0 3.2 0a1.6 1.6 0 1 0 -3.2 0zM192.15 173.75a1.6 1.6 0 1 0 3.2 0a1.6 1.6 0 1 0 -3.2 0zM192.15 173.25a1.6 1.6 0 1 0 3.2 0a1.6 1.6 0 1 0 -3.2 0zM192.65 173.25a1.6 1.6 0 1 0 3.2 0a1.6 1.6 0 1 0 -3.2 0zM193.15 173.25a1.6 1.6 0 1 0 3.2 0a1.6 1.6 0 1 0 -3.2 0zM193.15 172.75a1.6 1.6 0 1 0 3.2 0a1.6 1.6 0 1 0 -3.2 0zM193.65 172.75a1.6 1.6 0 1 0 3.2 0a1.6 1.6 0 1 0 -3.2 0zM193.65 172.25a1.6 1.6 0 1 0 3.2 0a1.6 1.6 0 1 0 -3.2 0zM194.15 172.25a1.6 1.6 0 1 0 3.2 0a1.6 1.6 0 1 0 -3.2 0zM194.65 171.75a1.6 1.6 0 1 0 3.2 0a1.6 1.6 0 1 0 -3.2 0zM195.15 171.25a1.6 1.6 0 1 0 3.2 0a1.6 1.6 0 1 0 -3.2 0zM195.65 170.75a1.6 1.6 0 1 0 3.2 0a1.6 1.6 0 1 0 -3.2 0zM196.15 170.25a1.6 1.6 0 1 0 3.2 0a1.6 1.6 0 1 0 -3.2 0zM196.65 170.25a1.6 1.6 0 1 0 3.2 0a1.6 1.6 0 1 0 -3.2 0zM196.65 169.75a1.6 1.6 0 1 0 3.2 0a1.6 1.6 0 1 0 -3.2 0zM197.15 169.75a1.6 1.6 0 1 0 3.2 0a1.6 1.6 0 1 0 -3.2 0zM197.15 169.25a1.6 1.6 0 1 0 3.2 0a1.6 1.6 0 1 0 -3.2 0zM197.65 169.25a1.6 1.6 0 1 0 3.2 0a1.6 1.6 0 1 0 -3.2 0zM198.15 168.75a1.6 1.6 0 1 0 3.2 0a1.6 1.6 0 1 0 -3.2 0zM198.65 168.25a1.6 1.6 0 1 0 3.2 0a1.6 1.6 0 1 0 -3.2 0zM199.15 167.75a1.6 1.6 0 1 0 3.2 0a1.6 1.6 0 1 0 -3.2 0zM199.65 167.25a1.6 1.6 0 1 0 3.2 0a1.6 1.6 0 1 0 -3.2 0zM200.15 167.25a1.6 1.6 0 1 0 3.2 0a1.6 1.6 0 1 0 -3.2 0zM200.15 166.75a1.6 1.6 0 1 0 3.2 0a1.6 1.6 0 1 0 -3.2 0zM200.65 166.75a1.6 1.6 0 1 0 3.2 0a1.6 1.6 0 1 0 -3.2 0zM200.65 166.25a1.6 1.6 0 1 0 3.2 0a1.6 1.6 0 1 0 -3.2 0zM201.15 166.25a1.6 1.6 0 1 0 3.2 0a1.6 1.6 0 1 0 -3.2 0zM201.65 165.75a1.6 1.6 0 1 0 3.2 0a1.6 1.6 0 1 0 -3.2 0zM202.15 165.25a1.6 1.6 0 1 0 3.2 0a1.6 1.6 0 1 0 -3.2 0zM202.65 164.75a1.6 1.6 0 1 0 3.2 0a1.6 1.6 0 1 0 -3.2 0zM203.15 164.25a1.6 1.6 0 1 0 3.2 0a1.6 1.6 0 1 0 -3.2 0zM203.65 164.25a1.6 1.6 0 1 0 3.2 0a1.6 1.6 0 1 0 -3.2 0zM203.65 163.75a1.6 1.6 0 1 0 3.2 0a1.6 1.6 0 1 0 -3.2 0zM204.15 163.75a1.6 1.6 0 1 0 3.2 0a1.6 1.6 0 1 0 -3.2 0zM204.15 163.25a1.6 1.6 0 1 0 3.2 0a1.6 1.6 0 1 0 -3.2 0zM204.65 163.25a1.6 1.6 0 1 0 3.2 0a1.6 1.6 0 1 0 -3.2 0zM205.15 162.75a1.6 1.6 0 1 0 3.2 0a1.6 1.6 0 1 0 -3.2 0zM205.65 162.75a1.6 1.6 0 1 0 3.2 0a1.6 1.6 0 1 0 -3.2 0zM205.65 162.25a1.6 1.6 0 1 0 3.2 0a1.6 1.6 0 1 0 -3.2 0zM206.15 162.25a1.6 1.6 0 1 0 3.2 0a1.6 1.6 0 1 0 -3.2 0zM206.65 161.75a1.6 1.6 0 1 0 3.2 0a1.6 1.6 0 1 0 -3.2 0zM207.15 161.75a1.6 1.6 0 1 0 3.2 0a1.6 1.6 0 1 0 -3.2 0zM207.65 161.25a1.6 1.6 0 1 0 3.2 0a1.6 1.6 0 1 0 -3.2 0zM208.15 161.25a1.6 1.6 0 1 0 3.2 0a1.6 1.6 0 1 0 -3.2 0zM208.65 160.75a1.6 1.6 0 1 0 3.2 0a1.6 1.6 0 1 0 -3.2 0zM209.15 160.75a1.6 1.6 0 1 0 3.2 0a1.6 1.6 0 1 0 -3.2 0zM209.65 160.25a1.6 1.6 0 1 0 3.2 0a1.6 1.6 0 1 0 -3.2 0zM210.15 160.25a1.6 1.6 0 1 0 3.2 0a1.6 1.6 0 1 0 -3.2 0zM210.65 160.25a1.6 1.6 0 1 0 3.2 0a1.6 1.6 0 1 0 -3.2 0zM211.15 160.25a1.6 1.6 0 1 0 3.2 0a1.6 1.6 0 1 0 -3.2 0zM211.15 159.75a1.6 1.6 0 1 0 3.2 0a1.6 1.6 0 1 0 -3.2 0zM211.65 159.75a1.6 1.6 0 1 0 3.2 0a1.6 1.6 0 1 0 -3.2 0zM212.15 159.75a1.6 1.6 0 1 0 3.2 0a1.6 1.6 0 1 0 -3.2 0zM212.65 159.75a1.6 1.6 0 1 0 3.2 0a1.6 1.6 0 1 0 -3.2 0zM213.15 159.75a1.6 1.6 0 1 0 3.2 0a1.6 1.6 0 1 0 -3.2 0zM213.65 159.75a1.6 1.6 0 1 0 3.2 0a1.6 1.6 0 1 0 -3.2 0zM214.15 159.75a1.6 1.6 0 1 0 3.2 0a1.6 1.6 0 1 0 -3.2 0zM214.65 159.25a1.6 1.6 0 1 0 3.2 0a1.6 1.6 0 1 0 -3.2 0zM215.15 159.25a1.6 1.6 0 1 0 3.2 0a1.6 1.6 0 1 0 -3.2 0zM215.65 159.25a1.6 1.6 0 1 0 3.2 0a1.6 1.6 0 1 0 -3.2 0zM216.15 159.25a1.6 1.6 0 1 0 3.2 0a1.6 1.6 0 1 0 -3.2 0zM216.65 159.25a1.6 1.6 0 1 0 3.2 0a1.6 1.6 0 1 0 -3.2 0zM217.15 159.25a1.6 1.6 0 1 0 3.2 0a1.6 1.6 0 1 0 -3.2 0zM217.65 159.25a1.6 1.6 0 1 0 3.2 0a1.6 1.6 0 1 0 -3.2 0zM218.15 159.25a1.6 1.6 0 1 0 3.2 0a1.6 1.6 0 1 0 -3.2 0zM218.65 159.25a1.6 1.6 0 1 0 3.2 0a1.6 1.6 0 1 0 -3.2 0zM219.15 159.75a1.6 1.6 0 1 0 3.2 0a1.6 1.6 0 1 0 -3.2 0zM219.65 159.75a1.6 1.6 0 1 0 3.2 0a1.6 1.6 0 1 0 -3.2 0zM220.15 159.75a1.6 1.6 0 1 0 3.2 0a1.6 1.6 0 1 0 -3.2 0zM220.65 159.75a1.6 1.6 0 1 0 3.2 0a1.6 1.6 0 1 0 -3.2 0zM221.15 159.75a1.6 1.6 0 1 0 3.2 0a1.6 1.6 0 1 0 -3.2 0zM221.65 159.75a1.6 1.6 0 1 0 3.2 0a1.6 1.6 0 1 0 -3.2 0zM222.15 160.25a1.6 1.6 0 1 0 3.2 0a1.6 1.6 0 1 0 -3.2 0zM222.65 160.25a1.6 1.6 0 1 0 3.2 0a1.6 1.6 0 1 0 -3.2 0zM223.15 160.25a1.6 1.6 0 1 0 3.2 0a1.6 1.6 0 1 0 -3.2 0zM223.65 160.25a1.6 1.6 0 1 0 3.2 0a1.6 1.6 0 1 0 -3.2 0zM223.65 160.75a1.6 1.6 0 1 0 3.2 0a1.6 1.6 0 1 0 -3.2 0zM224.15 160.75a1.6 1.6 0 1 0 3.2 0a1.6 1.6 0 1 0 -3.2 0zM224.65 160.75a1.6 1.6 0 1 0 3.2 0a1.6 1.6 0 1 0 -3.2 0zM225.15 161.25a1.6 1.6 0 1 0 3.2 0a1.6 1.6 0 1 0 -3.2 0zM225.65 161.25a1.6 1.6 0 1 0 3.2 0a1.6 1.6 0 1 0 -3.2 0zM226.15 161.25a1.6 1.6 0 1 0 3.2 0a1.6 1.6 0 1 0 -3.2 0zM226.15 161.75a1.6 1.6 0 1 0 3.2 0a1.6 1.6 0 1 0 -3.2 0zM226.65 161.75a1.6 1.6 0 1 0 3.2 0a1.6 1.6 0 1 0 -3.2 0zM227.15 162.25a1.6 1.6 0 1 0 3.2 0a1.6 1.6 0 1 0 -3.2 0zM227.65 162.25a1.6 1.6 0 1 0 3.2 0a1.6 1.6 0 1 0 -3.2 0zM228.15 162.75a1.6 1.6 0 1 0 3.2 0a1.6 1.6 0 1 0 -3.2 0zM228.65 163.25a1.6 1.6 0 1 0 3.2 0a1.6 1.6 0 1 0 -3.2 0zM229.15 163.75a1.6 1.6 0 1 0 3.2 0a1.6 1.6 0 1 0 -3.2 0zM229.65 163.75a1.6 1.6 0 1 0 3.2 0a1.6 1.6 0 1 0 -3.2 0zM229.65 164.25a1.6 1.6 0 1 0 3.2 0a1.6 1.6 0 1 0 -3.2 0zM230.15 164.25a1.6 1.6 0 1 0 3.2 0a1.6 1.6 0 1 0 -3.2 0zM230.15 164.75a1.6 1.6 0 1 0 3.2 0a1.6 1.6 0 1 0 -3.2 0zM230.65 164.75a1.6 1.6 0 1 0 3.2 0a1.6 1.6 0 1 0 -3.2 0zM230.65 165.25a1.6 1.6 0 1 0 3.2 0a1.6 1.6 0 1 0 -3.2 0zM231.15 165.25a1.6 1.6 0 1 0 3.2 0a1.6 1.6 0 1 0 -3.2 0zM231.65 165.75a1.6 1.6 0 1 0 3.2 0a1.6 1.6 0 1 0 -3.2 0zM232.15 166.25a1.6 1.6 0 1 0 3.2 0a1.6 1.6 0 1 0 -3.2 0zM232.65 166.75a1.6 1.6 0 1 0 3.2 0a1.6 1.6 0 1 0 -3.2 0zM233.15 166.75a1.6 1.6 0 1 0 3.2 0a1.6 1.6 0 1 0 -3.2 0zM233.15 167.25a1.6 1.6 0 1 0 3.2 0a1.6 1.6 0 1 0 -3.2 0zM233.65 167.25a1.6 1.6 0 1 0 3.2 0a1.6 1.6 0 1 0 -3.2 0zM233.65 167.75a1.6 1.6 0 1 0 3.2 0a1.6 1.6 0 1 0 -3.2 0zM234.15 167.75a1.6 1.6 0 1 0 3.2 0a1.6 1.6 0 1 0 -3.2 0zM234.15 168.25a1.6 1.6 0 1 0 3.2 0a1.6 1.6 0 1 0 -3.2 0zM234.65 168.25a1.6 1.6 0 1 0 3.2 0a1.6 1.6 0 1 0 -3.2 0zM235.15 168.75a1.6 1.6 0 1 0 3.2 0a1.6 1.6 0 1 0 -3.2 0zM235.65 169.25a1.6 1.6 0 1 0 3.2 0a1.6 1.6 0 1 0 -3.2 0zM236.15 169.75a1.6 1.6 0 1 0 3.2 0a1.6 1.6 0 1 0 -3.2 0zM236.65 169.75a1.6 1.6 0 1 0 3.2 0a1.6 1.6 0 1 0 -3.2 0zM236.65 170.25a1.6 1.6 0 1 0 3.2 0a1.6 1.6 0 1 0 -3.2 0zM237.15 170.25a1.6 1.6 0 1 0 3.2 0a1.6 1.6 0 1 0 -3.2 0zM237.15 170.75a1.6 1.6 0 1 0 3.2 0a1.6 1.6 0 1 0 -3.2 0zM237.65 170.75a1.6 1.6 0 1 0 3.2 0a1.6 1.6 0 1 0 -3.2 0zM237.65 171.25a1.6 1.6 0 1 0 3.2 0a1.6 1.6 0 1 0 -3.2 0zM238.15 171.25a1.6 1.6 0 1 0 3.2 0a1.6 1.6 0 1 0 -3.2 0zM238.65 171.75a1.6 1.6 0 1 0 3.2 0a1.6 1.6 0 1 0 -3.2 0zM239.15 172.25a1.6 1.6 0 1 0 3.2 0a1.6 1.6 0 1 0 -3.2 0zM239.65 172.25a1.6 1.6 0 1 0 3.2 0a1.6 1.6 0 1 0 -3.2 0zM240.15 172.75a1.6 1.6 0 1 0 3.2 0a1.6 1.6 0 1 0 -3.2 0zM240.65 173.25a1.6 1.6 0 1 0 3.2 0a1.6 1.6 0 1 0 -3.2 0zM241.15 173.75a1.6 1.6 0 1 0 3.2 0a1.6 1.6 0 1 0 -3.2 0zM241.65 174.25a1.6 1.6 0 1 0 3.2 0a1.6 1.6 0 1 0 -3.2 0zM242.15 174.25a1.6 1.6 0 1 0 3.2 0a1.6 1.6 0 1 0 -3.2 0zM242.65 174.75a1.6 1.6 0 1 0 3.2 0a1.6 1.6 0 1 0 -3.2 0zM243.15 175.25a1.6 1.6 0 1 0 3.2 0a1.6 1.6 0 1 0 -3.2 0zM243.65 175.25a1.6 1.6 0 1 0 3.2 0a1.6 1.6 0 1 0 -3.2 0zM243.65 175.75a1.6 1.6 0 1 0 3.2 0a1.6 1.6 0 1 0 -3.2 0zM244.15 175.75a1.6 1.6 0 1 0 3.2 0a1.6 1.6 0 1 0 -3.2 0zM244.65 176.25a1.6 1.6 0 1 0 3.2 0a1.6 1.6 0 1 0 -3.2 0zM245.15 176.75a1.6 1.6 0 1 0 3.2 0a1.6 1.6 0 1 0 -3.2 0zM245.65 176.75a1.6 1.6 0 1 0 3.2 0a1.6 1.6 0 1 0 -3.2 0zM246.15 177.25a1.6 1.6 0 1 0 3.2 0a1.6 1.6 0 1 0 -3.2 0zM246.65 177.25a1.6 1.6 0 1 0 3.2 0a1.6 1.6 0 1 0 -3.2 0zM247.15 177.75a1.6 1.6 0 1 0 3.2 0a1.6 1.6 0 1 0 -3.2 0zM247.65 178.25a1.6 1.6 0 1 0 3.2 0a1.6 1.6 0 1 0 -3.2 0zM248.15 178.25a1.6 1.6 0 1 0 3.2 0a1.6 1.6 0 1 0 -3.2 0zM248.15 178.75a1.6 1.6 0 1 0 3.2 0a1.6 1.6 0 1 0 -3.2 0zM248.65 178.75a1.6 1.6 0 1 0 3.2 0a1.6 1.6 0 1 0 -3.2 0zM249.15 178.75a1.6 1.6 0 1 0 3.2 0a1.6 1.6 0 1 0 -3.2 0zM249.15 179.25a1.6 1.6 0 1 0 3.2 0a1.6 1.6 0 1 0 -3.2 0zM249.65 179.25a1.6 1.6 0 1 0 3.2 0a1.6 1.6 0 1 0 -3.2 0zM250.15 179.75a1.6 1.6 0 1 0 3.2 0a1.6 1.6 0 1 0 -3.2 0zM250.65 179.75a1.6 1.6 0 1 0 3.2 0a1.6 1.6 0 1 0 -3.2 0zM251.15 180.25a1.6 1.6 0 1 0 3.2 0a1.6 1.6 0 1 0 -3.2 0zM251.65 180.25a1.6 1.6 0 1 0 3.2 0a1.6 1.6 0 1 0 -3.2 0zM252.15 180.75a1.6 1.6 0 1 0 3.2 0a1.6 1.6 0 1 0 -3.2 0zM252.65 180.75a1.6 1.6 0 1 0 3.2 0a1.6 1.6 0 1 0 -3.2 0zM253.15 181.25a1.6 1.6 0 1 0 3.2 0a1.6 1.6 0 1 0 -3.2 0zM253.65 181.25a1.6 1.6 0 1 0 3.2 0a1.6 1.6 0 1 0 -3.2 0zM254.15 181.75a1.6 1.6 0 1 0 3.2 0a1.6 1.6 0 1 0 -3.2 0zM254.65 181.75a1.6 1.6 0 1 0 3.2 0a1.6 1.6 0 1 0 -3.2 0zM255.15 181.75a1.6 1.6 0 1 0 3.2 0a1.6 1.6 0 1 0 -3.2 0zM255.15 182.25a1.6 1.6 0 1 0 3.2 0a1.6 1.6 0 1 0 -3.2 0zM255.65 182.25a1.6 1.6 0 1 0 3.2 0a1.6 1.6 0 1 0 -3.2 0zM256.15 182.25a1.6 1.6 0 1 0 3.2 0a1.6 1.6 0 1 0 -3.2 0zM256.65 182.75a1.6 1.6 0 1 0 3.2 0a1.6 1.6 0 1 0 -3.2 0zM257.15 182.75a1.6 1.6 0 1 0 3.2 0a1.6 1.6 0 1 0 -3.2 0zM257.65 183.25a1.6 1.6 0 1 0 3.2 0a1.6 1.6 0 1 0 -3.2 0zM258.15 183.25a1.6 1.6 0 1 0 3.2 0a1.6 1.6 0 1 0 -3.2 0zM258.65 183.25a1.6 1.6 0 1 0 3.2 0a1.6 1.6 0 1 0 -3.2 0zM259.15 183.75a1.6 1.6 0 1 0 3.2 0a1.6 1.6 0 1 0 -3.2 0zM259.65 183.75a1.6 1.6 0 1 0 3.2 0a1.6 1.6 0 1 0 -3.2 0zM260.15 183.75a1.6 1.6 0 1 0 3.2 0a1.6 1.6 0 1 0 -3.2 0zM260.65 184.25a1.6 1.6 0 1 0 3.2 0a1.6 1.6 0 1 0 -3.2 0zM261.15 184.25a1.6 1.6 0 1 0 3.2 0a1.6 1.6 0 1 0 -3.2 0zM261.65 184.25a1.6 1.6 0 1 0 3.2 0a1.6 1.6 0 1 0 -3.2 0zM262.15 184.75a1.6 1.6 0 1 0 3.2 0a1.6 1.6 0 1 0 -3.2 0zM262.65 184.75a1.6 1.6 0 1 0 3.2 0a1.6 1.6 0 1 0 -3.2 0zM263.15 184.75a1.6 1.6 0 1 0 3.2 0a1.6 1.6 0 1 0 -3.2 0zM263.65 184.75a1.6 1.6 0 1 0 3.2 0a1.6 1.6 0 1 0 -3.2 0zM263.65 185.25a1.6 1.6 0 1 0 3.2 0a1.6 1.6 0 1 0 -3.2 0zM264.15 185.25a1.6 1.6 0 1 0 3.2 0a1.6 1.6 0 1 0 -3.2 0zM264.65 185.25a1.6 1.6 0 1 0 3.2 0a1.6 1.6 0 1 0 -3.2 0zM265.15 185.25a1.6 1.6 0 1 0 3.2 0a1.6 1.6 0 1 0 -3.2 0zM265.65 185.25a1.6 1.6 0 1 0 3.2 0a1.6 1.6 0 1 0 -3.2 0zM265.65 185.75a1.6 1.6 0 1 0 3.2 0a1.6 1.6 0 1 0 -3.2 0zM266.15 185.75a1.6 1.6 0 1 0 3.2 0a1.6 1.6 0 1 0 -3.2 0zM266.65 185.75a1.6 1.6 0 1 0 3.2 0a1.6 1.6 0 1 0 -3.2 0zM267.15 185.75a1.6 1.6 0 1 0 3.2 0a1.6 1.6 0 1 0 -3.2 0zM267.65 185.75a1.6 1.6 0 1 0 3.2 0a1.6 1.6 0 1 0 -3.2 0zM267.65 186.25a1.6 1.6 0 1 0 3.2 0a1.6 1.6 0 1 0 -3.2 0zM268.15 186.25a1.6 1.6 0 1 0 3.2 0a1.6 1.6 0 1 0 -3.2 0zM268.65 186.25a1.6 1.6 0 1 0 3.2 0a1.6 1.6 0 1 0 -3.2 0zM269.15 186.25a1.6 1.6 0 1 0 3.2 0a1.6 1.6 0 1 0 -3.2 0zM269.65 186.25a1.6 1.6 0 1 0 3.2 0a1.6 1.6 0 1 0 -3.2 0zM270.15 186.25a1.6 1.6 0 1 0 3.2 0a1.6 1.6 0 1 0 -3.2 0zM270.65 186.75a1.6 1.6 0 1 0 3.2 0a1.6 1.6 0 1 0 -3.2 0zM271.15 186.75a1.6 1.6 0 1 0 3.2 0a1.6 1.6 0 1 0 -3.2 0zM271.65 186.75a1.6 1.6 0 1 0 3.2 0a1.6 1.6 0 1 0 -3.2 0zM272.15 186.75a1.6 1.6 0 1 0 3.2 0a1.6 1.6 0 1 0 -3.2 0zM272.65 186.75a1.6 1.6 0 1 0 3.2 0a1.6 1.6 0 1 0 -3.2 0zM273.15 186.75a1.6 1.6 0 1 0 3.2 0a1.6 1.6 0 1 0 -3.2 0zM273.65 186.75a1.6 1.6 0 1 0 3.2 0a1.6 1.6 0 1 0 -3.2 0zM273.65 187.25a1.6 1.6 0 1 0 3.2 0a1.6 1.6 0 1 0 -3.2 0zM274.15 187.25a1.6 1.6 0 1 0 3.2 0a1.6 1.6 0 1 0 -3.2 0zM274.65 187.25a1.6 1.6 0 1 0 3.2 0a1.6 1.6 0 1 0 -3.2 0zM275.15 187.25a1.6 1.6 0 1 0 3.2 0a1.6 1.6 0 1 0 -3.2 0zM275.65 187.25a1.6 1.6 0 1 0 3.2 0a1.6 1.6 0 1 0 -3.2 0zM276.15 187.25a1.6 1.6 0 1 0 3.2 0a1.6 1.6 0 1 0 -3.2 0zM276.65 187.25a1.6 1.6 0 1 0 3.2 0a1.6 1.6 0 1 0 -3.2 0zM277.15 187.25a1.6 1.6 0 1 0 3.2 0a1.6 1.6 0 1 0 -3.2 0zM277.65 187.25a1.6 1.6 0 1 0 3.2 0a1.6 1.6 0 1 0 -3.2 0zM277.65 187.75a1.6 1.6 0 1 0 3.2 0a1.6 1.6 0 1 0 -3.2 0zM278.15 187.75a1.6 1.6 0 1 0 3.2 0a1.6 1.6 0 1 0 -3.2 0zM278.65 187.75a1.6 1.6 0 1 0 3.2 0a1.6 1.6 0 1 0 -3.2 0zM279.15 187.75a1.6 1.6 0 1 0 3.2 0a1.6 1.6 0 1 0 -3.2 0zM279.65 187.75a1.6 1.6 0 1 0 3.2 0a1.6 1.6 0 1 0 -3.2 0zM280.15 187.75a1.6 1.6 0 1 0 3.2 0a1.6 1.6 0 1 0 -3.2 0zM280.65 187.75a1.6 1.6 0 1 0 3.2 0a1.6 1.6 0 1 0 -3.2 0zM281.15 187.75a1.6 1.6 0 1 0 3.2 0a1.6 1.6 0 1 0 -3.2 0zM281.65 187.75a1.6 1.6 0 1 0 3.2 0a1.6 1.6 0 1 0 -3.2 0zM282.15 187.75a1.6 1.6 0 1 0 3.2 0a1.6 1.6 0 1 0 -3.2 0zM282.65 187.75a1.6 1.6 0 1 0 3.2 0a1.6 1.6 0 1 0 -3.2 0zM283.15 187.75a1.6 1.6 0 1 0 3.2 0a1.6 1.6 0 1 0 -3.2 0zM283.65 187.75a1.6 1.6 0 1 0 3.2 0a1.6 1.6 0 1 0 -3.2 0zM284.15 187.75a1.6 1.6 0 1 0 3.2 0a1.6 1.6 0 1 0 -3.2 0zM284.65 187.75a1.6 1.6 0 1 0 3.2 0a1.6 1.6 0 1 0 -3.2 0zM285.15 188.25a1.6 1.6 0 1 0 3.2 0a1.6 1.6 0 1 0 -3.2 0zM285.65 188.25a1.6 1.6 0 1 0 3.2 0a1.6 1.6 0 1 0 -3.2 0zM286.15 188.25a1.6 1.6 0 1 0 3.2 0a1.6 1.6 0 1 0 -3.2 0zM286.65 188.25a1.6 1.6 0 1 0 3.2 0a1.6 1.6 0 1 0 -3.2 0zM287.15 188.25a1.6 1.6 0 1 0 3.2 0a1.6 1.6 0 1 0 -3.2 0zM287.65 188.25a1.6 1.6 0 1 0 3.2 0a1.6 1.6 0 1 0 -3.2 0zM288.15 188.25a1.6 1.6 0 1 0 3.2 0a1.6 1.6 0 1 0 -3.2 0zM288.65 188.25a1.6 1.6 0 1 0 3.2 0a1.6 1.6 0 1 0 -3.2 0zM289.15 188.25a1.6 1.6 0 1 0 3.2 0a1.6 1.6 0 1 0 -3.2 0zM289.65 188.25a1.6 1.6 0 1 0 3.2 0a1.6 1.6 0 1 0 -3.2 0zM290.15 188.25a1.6 1.6 0 1 0 3.2 0a1.6 1.6 0 1 0 -3.2 0zM290.65 188.25a1.6 1.6 0 1 0 3.2 0a1.6 1.6 0 1 0 -3.2 0zM291.15 188.25a1.6 1.6 0 1 0 3.2 0a1.6 1.6 0 1 0 -3.2 0zM291.65 188.25a1.6 1.6 0 1 0 3.2 0a1.6 1.6 0 1 0 -3.2 0zM292.15 188.25a1.6 1.6 0 1 0 3.2 0a1.6 1.6 0 1 0 -3.2 0zM292.65 188.25a1.6 1.6 0 1 0 3.2 0a1.6 1.6 0 1 0 -3.2 0zM293.15 188.25a1.6 1.6 0 1 0 3.2 0a1.6 1.6 0 1 0 -3.2 0zM293.65 188.25a1.6 1.6 0 1 0 3.2 0a1.6 1.6 0 1 0 -3.2 0zM294.15 187.75a1.6 1.6 0 1 0 3.2 0a1.6 1.6 0 1 0 -3.2 0zM294.65 187.75a1.6 1.6 0 1 0 3.2 0a1.6 1.6 0 1 0 -3.2 0zM295.15 187.75a1.6 1.6 0 1 0 3.2 0a1.6 1.6 0 1 0 -3.2 0zM295.65 187.75a1.6 1.6 0 1 0 3.2 0a1.6 1.6 0 1 0 -3.2 0zM296.15 187.75a1.6 1.6 0 1 0 3.2 0a1.6 1.6 0 1 0 -3.2 0zM296.65 187.75a1.6 1.6 0 1 0 3.2 0a1.6 1.6 0 1 0 -3.2 0zM297.15 187.75a1.6 1.6 0 1 0 3.2 0a1.6 1.6 0 1 0 -3.2 0zM297.65 187.75a1.6 1.6 0 1 0 3.2 0a1.6 1.6 0 1 0 -3.2 0zM298.15 187.75a1.6 1.6 0 1 0 3.2 0a1.6 1.6 0 1 0 -3.2 0zM298.65 187.75a1.6 1.6 0 1 0 3.2 0a1.6 1.6 0 1 0 -3.2 0zM299.15 187.75a1.6 1.6 0 1 0 3.2 0a1.6 1.6 0 1 0 -3.2 0zM299.65 187.75a1.6 1.6 0 1 0 3.2 0a1.6 1.6 0 1 0 -3.2 0zM300.15 187.75a1.6 1.6 0 1 0 3.2 0a1.6 1.6 0 1 0 -3.2 0zM300.65 187.75a1.6 1.6 0 1 0 3.2 0a1.6 1.6 0 1 0 -3.2 0zM301.15 187.75a1.6 1.6 0 1 0 3.2 0a1.6 1.6 0 1 0 -3.2 0zM301.65 187.25a1.6 1.6 0 1 0 3.2 0a1.6 1.6 0 1 0 -3.2 0zM302.15 187.25a1.6 1.6 0 1 0 3.2 0a1.6 1.6 0 1 0 -3.2 0zM302.65 187.25a1.6 1.6 0 1 0 3.2 0a1.6 1.6 0 1 0 -3.2 0zM303.15 187.25a1.6 1.6 0 1 0 3.2 0a1.6 1.6 0 1 0 -3.2 0zM303.65 187.25a1.6 1.6 0 1 0 3.2 0a1.6 1.6 0 1 0 -3.2 0zM304.15 187.25a1.6 1.6 0 1 0 3.2 0a1.6 1.6 0 1 0 -3.2 0zM304.65 187.25a1.6 1.6 0 1 0 3.2 0a1.6 1.6 0 1 0 -3.2 0zM305.15 187.25a1.6 1.6 0 1 0 3.2 0a1.6 1.6 0 1 0 -3.2 0zM305.65 186.75a1.6 1.6 0 1 0 3.2 0a1.6 1.6 0 1 0 -3.2 0zM306.15 186.75a1.6 1.6 0 1 0 3.2 0a1.6 1.6 0 1 0 -3.2 0zM306.65 186.75a1.6 1.6 0 1 0 3.2 0a1.6 1.6 0 1 0 -3.2 0zM307.15 186.75a1.6 1.6 0 1 0 3.2 0a1.6 1.6 0 1 0 -3.2 0zM307.65 186.75a1.6 1.6 0 1 0 3.2 0a1.6 1.6 0 1 0 -3.2 0zM308.15 186.75a1.6 1.6 0 1 0 3.2 0a1.6 1.6 0 1 0 -3.2 0zM308.65 186.75a1.6 1.6 0 1 0 3.2 0a1.6 1.6 0 1 0 -3.2 0zM308.65 186.25a1.6 1.6 0 1 0 3.2 0a1.6 1.6 0 1 0 -3.2 0zM309.15 186.25a1.6 1.6 0 1 0 3.2 0a1.6 1.6 0 1 0 -3.2 0zM309.65 186.25a1.6 1.6 0 1 0 3.2 0a1.6 1.6 0 1 0 -3.2 0zM310.15 186.25a1.6 1.6 0 1 0 3.2 0a1.6 1.6 0 1 0 -3.2 0zM310.65 186.25a1.6 1.6 0 1 0 3.2 0a1.6 1.6 0 1 0 -3.2 0zM311.15 186.25a1.6 1.6 0 1 0 3.2 0a1.6 1.6 0 1 0 -3.2 0zM311.15 185.75a1.6 1.6 0 1 0 3.2 0a1.6 1.6 0 1 0 -3.2 0zM311.65 185.75a1.6 1.6 0 1 0 3.2 0a1.6 1.6 0 1 0 -3.2 0zM312.15 185.75a1.6 1.6 0 1 0 3.2 0a1.6 1.6 0 1 0 -3.2 0zM312.65 185.75a1.6 1.6 0 1 0 3.2 0a1.6 1.6 0 1 0 -3.2 0zM313.15 185.75a1.6 1.6 0 1 0 3.2 0a1.6 1.6 0 1 0 -3.2 0zM313.65 185.25a1.6 1.6 0 1 0 3.2 0a1.6 1.6 0 1 0 -3.2 0zM314.15 185.25a1.6 1.6 0 1 0 3.2 0a1.6 1.6 0 1 0 -3.2 0zM314.65 185.25a1.6 1.6 0 1 0 3.2 0a1.6 1.6 0 1 0 -3.2 0zM315.15 185.25a1.6 1.6 0 1 0 3.2 0a1.6 1.6 0 1 0 -3.2 0zM315.65 184.75a1.6 1.6 0 1 0 3.2 0a1.6 1.6 0 1 0 -3.2 0zM316.15 184.75a1.6 1.6 0 1 0 3.2 0a1.6 1.6 0 1 0 -3.2 0zM316.65 184.75a1.6 1.6 0 1 0 3.2 0a1.6 1.6 0 1 0 -3.2 0zM317.15 184.25a1.6 1.6 0 1 0 3.2 0a1.6 1.6 0 1 0 -3.2 0zM317.65 184.25a1.6 1.6 0 1 0 3.2 0a1.6 1.6 0 1 0 -3.2 0zM318.15 184.25a1.6 1.6 0 1 0 3.2 0a1.6 1.6 0 1 0 -3.2 0zM318.65 184.25a1.6 1.6 0 1 0 3.2 0a1.6 1.6 0 1 0 -3.2 0zM319.15 183.75a1.6 1.6 0 1 0 3.2 0a1.6 1.6 0 1 0 -3.2 0zM319.65 183.75a1.6 1.6 0 1 0 3.2 0a1.6 1.6 0 1 0 -3.2 0zM320.15 183.75a1.6 1.6 0 1 0 3.2 0a1.6 1.6 0 1 0 -3.2 0zM320.15 183.25a1.6 1.6 0 1 0 3.2 0a1.6 1.6 0 1 0 -3.2 0zM320.65 183.25a1.6 1.6 0 1 0 3.2 0a1.6 1.6 0 1 0 -3.2 0zM321.15 183.25a1.6 1.6 0 1 0 3.2 0a1.6 1.6 0 1 0 -3.2 0zM321.65 182.75a1.6 1.6 0 1 0 3.2 0a1.6 1.6 0 1 0 -3.2 0zM322.15 182.75a1.6 1.6 0 1 0 3.2 0a1.6 1.6 0 1 0 -3.2 0zM322.65 182.75a1.6 1.6 0 1 0 3.2 0a1.6 1.6 0 1 0 -3.2 0zM323.15 182.25a1.6 1.6 0 1 0 3.2 0a1.6 1.6 0 1 0 -3.2 0zM323.65 182.25a1.6 1.6 0 1 0 3.2 0a1.6 1.6 0 1 0 -3.2 0zM324.15 181.75a1.6 1.6 0 1 0 3.2 0a1.6 1.6 0 1 0 -3.2 0zM324.65 181.75a1.6 1.6 0 1 0 3.2 0a1.6 1.6 0 1 0 -3.2 0zM325.15 181.75a1.6 1.6 0 1 0 3.2 0a1.6 1.6 0 1 0 -3.2 0zM325.15 181.25a1.6 1.6 0 1 0 3.2 0a1.6 1.6 0 1 0 -3.2 0zM325.65 181.25a1.6 1.6 0 1 0 3.2 0a1.6 1.6 0 1 0 -3.2 0zM326.15 181.25a1.6 1.6 0 1 0 3.2 0a1.6 1.6 0 1 0 -3.2 0z" fill="#009e73" stroke="none"/>
<path d="M36.25 193.75L36.25 193.25L36.75 193.25L37.25 192.75L37.75 192.25L38.25 192.25L38.25 191.75L38.75 191.75L39.25 191.25L39.75 190.75L40.25 190.75L40.25 190.25L40.75 190.25L41.25 189.75L41.75 189.75L41.75 189.25L42.25 189.25L42.25 188.75L42.75 188.75L42.75 188.25L43.25 188.25L43.75 187.75L44.25 187.25L44.75 186.75L45.25 186.75L45.25 186.25L45.75 186.25L45.75 185.75L46.25 185.75L46.25 185.25L46.75 185.25L47.25 184.75L47.75 184.25L48.25 183.75L48.75 183.25L49.25 182.75L49.75 182.25L49.75 181.75L50.25 181.75L50.75 181.25L50.75 180.75L51.25 180.75L51.25 180.25L51.75 179.75L52.25 179.25L52.25 178.75L52.75 178.75L52.75 178.25L53.25 177.75L53.25 177.25L53.75 176.75L54.25 176.25L54.25 175.75L54.75 175.25L54.75 174.75L55.25 174.25L55.75 173.25L55.75 172.75L56.25 172.25L56.25 171.75L56.75 170.75L56.75 170.25L57.25 169.25L57.75 168.25L57.75 167.75L58.25 166.75L58.25 165.75L58.75 164.75L59.25 163.75L59.25 162.25L59.75 161.25L59.75 159.75L60.25 158.75L60.25 157.25L60.75 155.75L61.25 154.25L61.25 152.25L61.75 150.75L61.75 148.75L62.25 146.75L62.75 144.75L62.75 142.25L63.25 139.75L63.25 137.25L63.75 134.75L63.75 132.25L64.25 129.25L64.75 125.75L64.75 122.75L65.25 119.25L65.25 115.75L65.75 112.25L66.25 108.25L66.25 104.25L66.75 100.25L66.75 96.25L67.25 91.75L67.25 87.75L67.75 83.25L68.25 79.25L68.25 75.25L68.75 71.25L68.75 67.25L69.25 63.75L69.75 60.75L69.75 57.75L70.25 55.25L70.25 52.75L70.75 51.25L70.75 49.75L71.25 48.25L71.75 47.25L71.75 46.75L72.25 46.25L72.25 45.25L72.75 45.75L73.25 46.75L73.25 47.25L73.75 47.75L73.75 49.25L74.25 50.25L74.25 52.25L74.75 54.25L75.25 56.75L75.25 59.25L75.75 62.75L75.75 65.75L76.25 69.75L76.75 73.75L76.75 77.75L77.25 81.75L77.25 85.75L77.75 90.25L77.75 94.25L78.25 98.75L78.75 102.75L78.75 106.75L79.25 110.75L79.25 114.25L79.75 117.75L80.25 121.25L80.25 124.75L80.75 127.75L80.75 130.75L81.25 133.75L81.25 136.25L81.75 138.75L82.25 141.25L82.25 143.75L82.75 145.75L82.75 147.75L83.25 149.75L83.75 151.75L83.75 153.25L84.25 155.25L84.25 156.75L84.75 158.25L84.75 159.25L85.25 160.75L85.75 161.75L85.75 163.25L86.25 164.25L86.25 165.25L86.75 166.25L87.25 167.25L87.25 168.25L87.75 168.75L87.75 169.75L88.25 170.75L88.25 171.25L88.75 171.75L89.25 172.75L89.25 173.25L89.75 173.75L89.75 174.25L90.25 175.25L90.75 175.75L90.75 176.25L91.25 176.75L91.25 177.25L91.75 177.75L92.25 178.25L92.75 178.75L92.75 179.25L93.25 179.75L93.25 180.25L93.75 180.25L94.25 180.75L94.25 181.25L94.75 181.25L94.75 181.75L95.25 182.25L95.75 182.75L96.25 183.25L96.75 183.75L97.25 184.25L97.75 184.75L98.25 185.25L98.75 185.75L99.25 186.25L99.75 186.25L99.75 186.75L100.25 186.75L100.25 187.25L100.75 187.25L101.25 187.75L101.75 188.25L102.25 188.75L102.75 189.25L103.25 189.25L103.75 189.75L104.25 190.25L104.75 190.25L104.75 190.75L105.25 190.75L105.25 191.25L105.75 191.25L106.25 191.75L106.75 191.75L106.75 192.25L107.25 192.25L107.25 192.75L107.75 192.75L108.25 192.75L108.25 193.25L108.75 193.25L108.75 193.75L109.25 193.75L109.75 194.25L110.25 194.25L110.25 194.75L110.75 194.75L111.25 195.25L111.75 195.75L112.25 195.75L112.75 196.25L113.25 196.25L113.75 196.75L114.25 196.75L114.25 197.25L114.75 197.25L115.25 197.75L115.75 197.75L116.25 198.25L116.75 198.25L117.25 198.75L117.75 198.75L117.75 199.25L118.25 199.25L118.75 199.25L119.25 199.75L119.75 199.75L120.25 200.25L120.75 200.25L121.25 200.25L121.25 200.75L121.75 200.75L122.25 200.75L122.75 201.25L123.25 201.25L123.75 201.75L124.25 201.75L124.75 201.75L125.25 201.75L125.25 202.25L125.75 202.25L126.25 202.25L126.75 202.25L126.75 202.75L127.25 202.75L127.75 202.75L128.25 202.75L128.75 202.75L128.75 203.25L129.25 203.25L129.75 203.25L130.25 203.25L130.75 203.25L131.25 203.25L131.25 203.75L131.75 203.75L132.25 203.75L132.75 203.75L133.25 203.75L133.75 203.75L134.25 204.25L134.75 204.25L135.25 204.25L135.75 204.25L136.25 204.25L136.75 204.25L137.25 204.25L137.75 204.25L138.25 204.25L138.75 204.75L139.25 204.75L139.75 204.75L140.25 204.75L140.75 204.75L141.25 204.75L141.75 204.75L142.25 204.75L142.75 204.75L143.25 204.75L143.75 204.75L144.25 204.75L144.75 204.75L145.25 204.75L145.75 204.75L146.25 204.75L146.75 204.75L147.25 204.75L147.75 204.75L148.25 204.75L148.75 204.75L149.25 204.75L149.75 204.75L150.25 204.75L150.75 204.75L151.25 204.75L151.75 204.75L152.25 204.75L152.25 204.25L152.75 204.25L153.25 204.25L153.75 204.25L154.25 204.25L154.75 204.25L155.25 204.25L155.75 204.25L156.25 204.25L156.75 203.75L157.25 203.75L157.75 203.75L158.25 203.75L158.75 203.75L159.25 203.75L159.75 203.25L160.25 203.25L160.75 203.25L161.25 203.25L161.75 203.25L161.75 202.75L162.25 202.75L162.75 202.75L163.25 202.75L163.75 202.75L163.75 202.25L164.25 202.25L164.75 202.25L165.25 202.25L165.75 201.75L166.25 201.75L166.75 201.75L167.25 201.25L167.75 201.25L168.25 201.25L168.75 200.75L169.25 200.75L169.75 200.75L169.75 200.25L170.25 200.25L170.75 200.25L170.75 199.75L171.25 199.75L171.75 199.75L172.25 199.25L172.75 199.25L173.25 198.75L173.75 198.75L173.75 198.25L174.25 198.25L174.75 198.25L175.25 197.75L175.75 197.75L175.75 197.25L176.25 197.25L176.75 197.25L176.75 196.75L177.25 196.75L177.25 196.25L177.75 196.25L178.25 195.75L178.75 195.75L179.25 195.25L179.75 195.25L180.25 194.75L180.75 194.25L181.25 194.25L181.25 193.75L181.75 193.75L182.25 193.25L182.75 193.25L182.75 192.75L183.25 192.75L183.25 192.25L183.75 192.25L184.25 191.75L184.75 191.75L184.75 191.25L185.25 191.25L185.75 190.75L186.25 190.25L186.75 190.25L186.75 189.75L187.25 189.75L187.75 189.25L188.25 188.75L188.75 188.25L189.25 188.25L189.25 187.75L189.75 187.75L189.75 187.25L190.25 187.25L190.25 186.75L190.75 186.75L191.25 186.25L191.75 185.75L192.25 185.25L192.75 185.25L192.75 184.75L193.25 184.75L193.25 184.25L193.75 184.25L193.75 183.75L194.25 183.25L194.75 183.25L194.75 182.75L195.25 182.75L195.25 182.25L195.75 181.75L196.25 181.75L196.25 181.25L196.75 180.75L197.25 180.25L197.25 179.75L197.75 179.25L198.25 178.75L198.75 178.25L198.75 177.75L199.25 177.25L199.75 176.75L199.75 176.25L200.25 175.75L200.25 175.25L200.75 174.75L200.75 174.25L201.25 173.25L201.75 172.75L201.75 172.25L202.25 171.75L202.25 170.75L202.75 170.25L203.25 169.25L203.25 168.25L203.75 167.75L203.75 166.75L204.25 165.75L204.25 164.75L204.75 163.75L205.25 162.25L205.25 161.25L205.75 159.75L205.75 158.75L206.25 157.25L206.75 155.75L206.75 154.25L207.25 152.25L207.25 150.75L207.75 148.75L207.75 146.75L208.25 144.75L208.75 142.25L208.75 139.75L209.25 137.25L209.25 134.75L209.75 132.25L210.25 129.25L210.25 125.75L210.75 122.75L210.75 119.25L211.25 115.75L211.25 112.25L211.75 108.25L212.25 104.25L212.25 100.25L212.75 96.25L212.75 91.75L213.25 87.75L213.75 83.25L213.75 79.25L214.25 75.25L214.25 71.25L214.75 67.25L214.75 63.75L215.25 60.75L215.75 57.75L215.75 55.25L216.25 52.75L216.25 51.25L216.75 49.75L217.25 48.25L217.25 47.25L217.75 46.75L217.75 46.25L218.25 45.25L218.25 45.75L218.75 46.75L219.25 47.25L219.25 47.75L219.75 49.25L219.75 50.25L220.25 52.25L220.75 54.25L220.75 56.75L221.25 59.25L221.25 62.75L221.75 65.75L221.75 69.75L222.25 73.75L222.75 77.75L222.75 81.75L223.25 85.75L223.25 90.25L223.75 94.25L224.25 98.75L224.25 102.75L224.75 106.75L224.75 110.75L225.25 114.25L225.25 117.75L225.75 121.25L226.25 124.75L226.25 127.75L226.75 130.75L226.75 133.75L227.25 136.25L227.75 138.75L227.75 141.25L228.25 143.75L228.25 145.75L228.75 147.75L228.75 149.75L229.25 151.75L229.75 153.25L229.75 155.25L230.25 156.75L230.25 158.25L230.75 159.25L231.25 160.75L231.25 161.75L231.75 163.25L231.75 164.25L232.25 165.25L232.25 166.25L232.75 167.25L233.25 168.25L233.25 168.75L233.75 169.75L233.75 170.75L234.25 171.25L234.75 171.75L234.75 172.75L235.25 173.25L235.25 173.75L235.75 174.25L235.75 175.25L236.25 175.75L236.75 176.25L236.75 176.75L237.25 177.25L237.25 177.75L237.75 177.75L238.25 178.25L238.25 178.75L238.75 179.25L238.75 179.75L239.25 180.25L239.75 180.75L240.25 181.25L240.75 181.75L240.75 182.25L241.25 182.25L241.75 182.75L241.75 183.25L242.25 183.25L242.25 183.75L242.75 183.75L242.75 184.25L243.25 184.75L243.75 184.75L243.75 185.25L244.25 185.25L244.25 185.75L244.75 185.75L245.25 186.25L245.75 186.75L246.25 187.25L246.75 187.75L247.25 187.75L247.25 188.25L247.75 188.25L247.75 188.75L248.25 188.75L248.75 189.25L249.25 189.25L249.25 189.75L249.75 189.75L249.75 190.25L250.25 190.25L250.75 190.75L251.25 191.25L251.75 191.25L252.25 191.75L252.75 192.25L253.25 192.75L253.75 192.75L254.25 193.25L254.75 193.75L255.25 193.75L255.25 194.25L255.75 194.25L256.25 194.75L256.75 194.75L256.75 195.25L257.25 195.25L257.75 195.75L258.25 195.75L258.25 196.25L258.75 196.25L259.25 196.75L259.75 196.75L260.25 197.25L260.75 197.25L261.25 197.75L261.75 197.75L261.75 198.25L262.25 198.25L262.75 198.75L263.25 198.75L263.75 199.25L264.25 199.25L264.75 199.25L264.75 199.75L265.25 199.75L265.75 199.75L265.75 200.25L266.25 200.25L266.75 200.25L267.25 200.75L267.75 200.75L268.25 200.75L268.25 201.25L268.75 201.25L269.25 201.25L269.25 201.75L269.75 201.75L270.25 201.75L270.75 201.75L271.25 202.25L271.75 202.25L272.25 202.25L272.75 202.75L273.25 202.75L273.75 202.75L274.25 202.75L274.75 203.25L275.25 203.25L275.75 203.25L276.25 203.25L276.75 203.25L277.25 203.75L277.75 203.75L278.25 203.75L278.75 203.75L279.25 203.75L279.75 203.75L279.75 204.25L280.25 204.25L280.75 204.25L281.25 204.25L281.75 204.25L282.25 204.25L282.75 204.25L283.25 204.25L283.75 204.25L284.25 204.25L284.25 204.75L284.75 204.75L285.25 204.75L285.75 204.75L286.25 204.75L286.75 204.75L287.25 204.75L287.75 204.75L288.25 204.75L288.75 204.75L289.25 204.75L289.75 204.75L290.25 204.75L290.75 204.75L291.25 204.75L291.75 204.75L292.25 204.75L292.75 204.75L293.25 204.75L293.75 204.75L294.25 204.75L294.75 204.75L295.25 204.75L295.75 204.75L296.25 204.75L296.75 204.75L297.25 204.75L297.75 204.75L298.25 204.25L298.75 204.25L299.25 204.25L299.75 204.25L300.25 204.25L300.75 204.25L301.25 204.25L301.75 204.25L302.25 204.25L302.25 203.75L302.75 203.75L303.25 203.75L303.75 203.75L304.25 203.75L304.75 203.75L305.25 203.75L305.25 203.25L305.75 203.25L306.25 203.25L306.75 203.25L307.25 203.25L307.75 202.75L308.25 202.75L308.75 202.75L309.25 202.75L309.75 202.25L310.25 202.25L310.75 202.25L311.25 202.25L311.25 201.75L311.75 201.75L312.25 201.75L312.75 201.75L312.75 201.25L313.25 201.25L313.75 201.25L314.25 201.25L314.25 200.75L314.75 200.75L315.25 200.75L315.75 200.25L316.25 200.25L316.75 199.75L317.25 199.75L317.75 199.75L317.75 199.25L318.25 199.25L318.75 198.75L319.25 198.75L319.75 198.25L320.25 198.25L320.75 198.25L320.75 197.75L321.25 197.75L321.75 197.25L322.25 197.25L322.75 196.75L323.25 196.25L323.75 196.25L324.25 195.75L324.75 195.75L324.75 195.25L325.25 195.25L325.75 194.75L326.25 194.75L326.25 194.25L326.75 194.25L327.25 193.75L327.75 193.75" stroke="#e69f00" stroke-width="0.5" fill="none"/>
<path d="M34.5 192l3.5 3.5M34.5 195.5l3.5 -3.5M34.5 191.5l3.5 3.5M34.5 195l3.5 -3.5M35 191.5l3.5 3.5M35 195l3.5 -3.5M35.5 191l3.5 3.5M35.5 194.5l3.5 -3.5M36 190.5l3.5 3.5M36 194l3.5 -3.5M36.5 190.5l3.5 3.5M36.5 194l3.5 -3.5M36.5 190l3.5 3.5M36.5 193.5l3.5 -3.5M37 190l3.5 3.5M37 193.5l3.5 -3.5M37.5 189.5l3.5 3.5M37.5 193l3.5 -3.5M38 189l3.5 3.5M38 192.5l3.5 -3.5M38.5 189l3.5 3.5M38.5 192.5l3.5 -3.5M38.5 188.5l3.5 3.5M38.5 192l3.5 -3.5M39 188.5l3.5 3.5M39 192l3.5 -3.5M39.5 188l3.5 3.5M39.5 191.5l3.5 -3.5M40 188l3.5 3.5M40 191.5l3.5 -3.5M40 187.5l3.5 3.5M40 191l3.5 -3.5M40.5 187.5l3.5 3.5M40.5 191l3.5 -3.5M40.5 187l3.5 3.5M40.5 190.5l3.5 -3.5M41 187l3.5 3.5M41 190.5l3.5 -3.5M41 186.5l3.5 3.5M41 190l3.5 -3.5M41.5 186.5l3.5 3.5M41.5 190l3.5 -3.5M42 186l3.5 3.5M42 189.5l3.5 -3.5M42.5 185.5l3.5 3.5M42.5 189l3.5 -3.5M43 185l3.5 3.5M43 188.5l3.5 -3.5M43.5 185l3.5 3.5M43.5 188.5l3.5 -3.5M43.5 184.5l3.5 3.5M43.5 188l3.5 -3.5M44 184.5l3.5 3.5M44 188l3.5 -3.5M44 184l3.5 3.5M44 187.5l3.5 -3.5M44.5 184l3.5 3.5M44.5 187.5l3.5 -3.5M44.5 183.5l3.5 3.5M44.5 187l3.5 -3.5M45 183.5l3.5 3.5M45 187l3.5 -3.5M45.5 183l3.5 3.5M45.5 186.5l3.5 -3.5M46 182.5l3.5 3.5M46 186l3.5 -3.5M46.5 182l3.5 3.5M46.5 185.5l3.5 -3.5M47 181.5l3.5 3.5M47 185l3.5 -3.5M47.5 181l3.5 3.5M47.5 184.5l3.5 -3.5M48 180.5l3.5 3.5M48 184l3.5 -3.5M48 180l3.5 3.5M48 183.5l3.5 -3.5M48.5 180l3.5 3.5M48.5 183.5l3.5 -3.5M49 179.5l3.5 3.5M49 183l3.5 -3.5M49 179l3.5 3.5M49 182.5l3.5 -3.5M49.5 179l3.5 3.5M49.5 182.5l3.5 -3.5M49.5 178.5l3.5 3.5M49.5 182l3.5 -3.5M50 178l3.5 3.5M50 181.5l3.5 -3.5M50.5 177.5l3.5 3.5M50.5 181l3.5 -3.5M50.5 177l3.5 3.5M50.5 180.5l3.5 -3.5M51 177l3.5 3.5M51 180.5l3.5 -3.5M51 176.5l3.5 3.5M51 180l3.5 -3.5M51.5 176l3.5 3.5M51.5 179.5l3.5 -3.5M51.5 175.5l3.5 3.5M51.5 179l3.5 -3.5M52 175l3.5 3.5M52 178.5l3.5 -3.5M52.5 174.5l3.5 3.5M52.5 178l3.5 -3.5M52.5 174l3.5 3.5M52.5 177.5l3.5 -3.5M53 173.5l3.5 3.5M53 177l3.5 -3.5M53 173l3.5 3.5M53 176.5l3.5 -3.5M53.5 172.5l3.5 3.5M53.5 176l3.5 -3.5M54 171.5l3.5 3.5M54 175l3.5 -3.5M54 171l3.5 3.5M54 174.5l3.5 -3.5M54.5 170.5l3.5 3.5M54.5 174l3.5 -3.5M54.5 170l3.5 3.5M54.5 173.5l3.5 -3.5M55 169l3.5 3.5M55 172.5l3.5 -3.5M55 168.5l3.5 3.5M55 172l3.5 -3.5M55.5 167.5l3.5 3.5M55.5 171l3.5 -3.5M56 166.5l3.5 3.5M56 170l3.5 -3.5M56 166l3.5 3.5M56 169.5l3.5 -3.5M56.5 165l3.5 3.5M56.5 168.5l3.5 -3.5M56.5 164l3.5 3.5M56.5 167.5l3.5 -3.5M57 163l3.5 3.5M57 166.5l3.5 -3.5M57.5 162l3.5 3.5M57.5 165.5l3.5 -3.5M57.5 160.5l3.5 3.5M57.5 164l3.5 -3.5M58 159.5l3.5 3.5M58 163l3.5 -3.5M58 158l3.5 3.5M58 161.5l3.5 -3.5M58.5 157l3.5 3.5M58.5 160.5l3.5 -3.5M58.5 155.5l3.5 3.5M58.5 159l3.5 -3.5M59 154l3.5 3.5M59 157.5l3.5 -3.5M59.5 152.5l3.5 3.5M59.5 156l3.5 -3.5M59.5 150.5l3.5 3.5M59.5 154l3.5 -3.5M60 149l3.5 3.5M60 152.5l3.5 -3.5M60 147l3.5 3.5M60 150.5l3.5 -3.5M60.5 145l3.5 3.5M60.5 148.5l3.5 -3.5M61 143l3.5 3.5M61 146.5l3.5 -3.5M61 140.5l3.5 3.5M61 144l3.5 -3.5M61.5 138l3.5 3.5M61.5 141.5l3.5 -3.5M61.5 135.5l3.5 3.5M61.5 139l3.5 -3.5M62 133l3.5 3.5M62 136.5l3.5 -3.5M62 130.5l3.5 3.5M62 134l3.5 -3.5M62.5 127.5l3.5 3.5M62.5 131l3.5 -3.5M63 124l3.5 3.5M63 127.5l3.5 -3.5M63 121l3.5 3.5M63 124.5l3.5 -3.5M63.5 117.5l3.5 3.5M63.5 121l3.5 -3.5M63.5 114l3.5 3.5M63.5 117.5l3.5 -3.5M64 110.5l3.5 3.5M64 114l3.5 -3.5M64.5 106.5l3.5 3.5M64.5 110l3.5 -3.5M64.5 102.5l3.5 3.5M64.5 106l3.5 -3.5M65 98.5l3.5 3.5M65 102l3.5 -3.5M65 94.5l3.5 3.5M65 98l3.5 -3.5M65.5 90l3.5 3.5M65.5 93.5l3.5 -3.5M65.5 86l3.5 3.5M65.5 89.5l3.5 -3.5M66 81.5l3.5 3.5M66 85l3.5 -3.5M66.5 77.5l3.5 3.5M66.5 81l3.5 -3.5M66.5 73.5l3.5 3.5M66.5 77l3.5 -3.5M67 69.5l3.5 3.5M67 73l3.5 -3.5M67 65.5l3.5 3.5M67 69l3.5 -3.5M67.5 62l3.5 3.5M67.5 65.5l3.5 -3.5M68 59l3.5 3.5M68 62.5l3.5 -3.5M68 56l3.5 3.5M68 59.5l3.5 -3.5M68.5 53.5l3.5 3.5M68.5 57l3.5 -3.5M68.5 51l3.5 3.5M68.5 54.5l3.5 -3.5M69 49.5l3.5 3.5M69 53l3.5 -3.5M69 48l3.5 3.5M69 51.5l3.5 -3.5M69.5 46.5l3.5 3.5M69.5 50l3.5 -3.5M70 45.5l3.5 3.5M70 49l3.5 -3.5M70 45l3.5 3.5M70 48.5l3.5 -3.5M70.5 44.5l3.5 3.5M70.5 48l3.5 -3.5M70.5 43.5l3.5 3.5M70.5 47l3.5 -3.5M71 44l3.5 3.5M71 47.5l3.5 -3.5M71.5 45l3.5 3.5M71.5 48.5l3.5 -3.5M71.5 45.5l3.5 3.5M71.5 49l3.5 -3.5M72 46l3.5 3.5M72 49.5l3.5 -3.5M72 47.5l3.5 3.5M72 51l3.5 -3.5M72.5 48.5l3.5 3.5M72.5 52l3.5 -3.5M72.5 50.5l3.5 3.5M72.5 54l3.5 -3.5M73 52.5l3.5 3.5M73 56l3.5 -3.5M73.5 55l3.5 3.5M73.5 58.5l3.5 -3.5M73.5 57.5l3.5 3.5M73.5 61l3.5 -3.5M74 61l3.5 3.5M74 64.5l3.5 -3.5M74 64l3.5 3.5M74 67.5l3.5 -3.5M74.5 68l3.5 3.5M74.5 71.5l3.5 -3.5M75 72l3.5 3.5M75 75.5l3.5 -3.5M75 76l3.5 3.5M75 79.5l3.5 -3.5M75.5 80l3.5 3.5M75.5 83.5l3.5 -3.5M75.5 84l3.5 3.5M75.5 87.5l3.5 -3.5M76 88.5l3.5 3.5M76 92l3.5 -3.5M76 92.5l3.5 3.5M76 96l3.5 -3.5M76.5 97l3.5 3.5M76.5 100.5l3.5 -3.5M77 101l3.5 3.5M77 104.5l3.5 -3.5M77 105l3.5 3.5M77 108.5l3.5 -3.5M77.5 109l3.5 3.5M77.5 112.5l3.5 -3.5M77.5 112.5l3.5 3.5M77.5 116l3.5 -3.5M78 116l3.5 3.5M78 119.5l3.5 -3.5M78.5 119.5l3.5 3.5M78.5 123l3.5 -3.5M78.5 123l3.5 3.5M78.5 126.5l3.5 -3.5M79 126l3.5 3.5M79 129.5l3.5 -3.5M79 129l3.5 3.5M79 132.5l3.5 -3.5M79.5 132l3.5 3.5M79.5 135.5l3.5 -3.5M79.5 134.5l3.5 3.5M79.5 138l3.5 -3.5M80 137l3.5 3.5M80 140.5l3.5 -3.5M80.5 139.5l3.5 3.5M80.5 143l3.5 -3.5M80.5 142l3.5 3.5M80.5 145.5l3.5 -3.5M81 144l3.5 3.5M81 147.5l3.5 -3.5M81 146l3.5 3.5M81 149.5l3.5 -3.5M81.5 148l3.5 3.5M81.5 151.5l3.5 -3.5M82 150l3.5 3.5M82 153.5l3.5 -3.5M82 151.5l3.5 3.5M82 155l3.5 -3.5M82.5 153.5l3.5 3.5M82.5 157l3.5 -3.5M82.5 155l3.5 3.5M82.5 158.5l3.5 -3.5M83 156.5l3.5 3.5M83 160l3.5 -3.5M83 157.5l3.5 3.5M83 161l3.5 -3.5M83.5 159l3.5 3.5M83.5 162.5l3.5 -3.5M84 160l3.5 3.5M84 163.5l3.5 -3.5M84 161.5l3.5 3.5M84 165l3.5 -3.5M84.5 162.5l3.5 3.5M84.5 166l3.5 -3.5M84.5 163.5l3.5 3.5M84.5 167l3.5 -3.5M85 164.5l3.5 3.5M85 168l3.5 -3.5M85.5 165.5l3.5 3.5M85.5 169l3.5 -3.5M85.5 166.5l3.5 3.5M85.5 170l3.5 -3.5M86 167l3.5 3.5M86 170.5l3.5 -3.5M86 168l3.5 3.5M86 171.5l3.5 -3.5M86.5 169l3.5 3.5M86.5 172.5l3.5 -3.5M86.5 169.5l3.5 3.5M86.5 173l3.5 -3.5M87 170l3.5 3.5M87 173.5l3.5 -3.5M87.5 171l3.5 3.5M87.5 174.5l3.5 -3.5M87.5 171.5l3.5 3.5M87.5 175l3.5 -3.5M88 172l3.5 3.5M88 175.5l3.5 -3.5M88 172.5l3.5 3.5M88 176l3.5 -3.5M88.5 173.5l3.5 3.5M88.5 177l3.5 -3.5M89 174l3.5 3.5M89 177.5l3.5 -3.5M89 174.5l3.5 3.5M89 178l3.5 -3.5M89.5 175l3.5 3.5M89.5 178.5l3.5 -3.5M89.5 175.5l3.5 3.5M89.5 179l3.5 -3.5M90 176l3.5 3.5M90 179.5l3.5 -3.5M90.5 176.5l3.5 3.5M90.5 180l3.5 -3.5M91 177l3.5 3.5M91 180.5l3.5 -3.5M91 177.5l3.5 3.5M91 181l3.5 -3.5M91.5 178l3.5 3.5M91.5 181.5l3.5 -3.5M91.5 178.5l3.5 3.5M91.5 182l3.5 -3.5M92 178.5l3.5 3.5M92 182l3.5 -3.5M92.5 179l3.5 3.5M92.5 182.5l3.5 -3.5M92.5 179.5l3.5 3.5M92.5 183l3.5 -3.5M93 179.5l3.5 3.5M93 183l3.5 -3.5M93 180l3.5 3.5M93 183.5l3.5 -3.5M93.5 180.5l3.5 3.5M93.5 184l3.5 -3.5M94 181l3.5 3.5M94 184.5l3.5 -3.5M94.5 181.5l3.5 3.5M94.5 185l3.5 -3.5M95 182l3.5 3.5M95 185.5l3.5 -3.5M95.5 182.5l3.5 3.5M95.5 186l3.5 -3.5M96 183l3.5 3.5M96 186.5l3.5 -3.5M96.5 183.5l3.5 3.5M96.5 187l3.5 -3.5M97 184l3.5 3.5M97 187.5l3.5 -3.5M97.5 184.5l3.5 3.5M97.5 188l3.5 -3.5M98 184.5l3.5 3.5M98 188l3.5 -3.5M98 185l3.5 3.5M98 188.5l3.5 -3.5M98.5 185l3.5 3.5M98.5 188.5l3.5 -3.5M98.5 185.5l3.5 3.5M98.5 189l3.5 -3.5M99 185.5l3.5 3.5M99 189l3.5 -3.5M99.5 186l3.5 3.5M99.5 189.5l3.5 -3.5M100 186.5l3.5 3.5M100 190l3.5 -3.5M100.5 187l3.5 3.5M100.5 190.5l3.5 -3.5M101 187.5l3.5 3.5M101 191l3.5 -3.5M101.5 187.5l3.5 3.5M101.5 191l3.5 -3.5M102 188l3.5 3.5M102 191.5l3.5 -3.5M102.5 188.5l3.5 3.5M102.5 192l3.5 -3.5M103 188.5l3.5 3.5M103 192l3.5 -3.5M103 189l3.5 3.5M103 192.5l3.5 -3.5M103.5 189l3.5 3.5M103.5 192.5l3.5 -3.5M103.5 189.5l3.5 3.5M103.5 193l3.5 -3.5M104 189.5l3.5 3.5M104 193l3.5 -3.5M104.5 190l3.5 3.5M104.5 193.5l3.5 -3.5M105 190l3.5 3.5M105 193.5l3.5 -3.5M105 190.5l3.5 3.5M105 194l3.5 -3.5M105.5 190.5l3.5 3.5M105.5 194l3.5 -3.5M105.5 191l3.5 3.5M105.5 194.5l3.5 -3.5M106 191l3.5 3.5M106 194.5l3.5 -3.5M106.5 191l3.5 3.5M106.5 194.5l3.5 -3.5M106.5 191.5l3.5 3.5M106.5 195l3.5 -3.5M107 191.5l3.5 3.5M107 195l3.5 -3.5M107 192l3.5 3.5M107 195.5l3.5 -3.5M107.5 192l3.5 3.5M107.5 195.5l3.5 -3.5M108 192.5l3.5 3.5M108 196l3.5 -3.5M108.5 192.5l3.5 3.5M108.5 196l3.5 -3.5M108.5 193l3.5 3.5M108.5 196.5l3.5 -3.5M109 193l3.5 3.5M109 196.5l3.5 -3.5M109.5 193.5l3.5 3.5M109.5 197l3.5 -3.5M110 194l3.5 3.5M110 197.5l3.5 -3.5M110.5 194l3.5 3.5M110.5 197.5l3.5 -3.5M111 194.5l3.5 3.5M111 198l3.5 -3.5M111.5 194.5l3.5 3.5M111.5 198l3.5 -3.5M112 195l3.5 3.5M112 198.5l3.5 -3.5M112.5 195l3.5 3.5M112.5 198.5l3.5 -3.5M112.5 195.5l3.5 3.5M112.5 199l3.5 -3.5M113 195.5l3.5 3.5M113 199l3.5 -3.5M113.5 196l3.5 3.5M113.5 199.5l3.5 -3.5M114 196l3.5 3.5M114 199.5l3.5 -3.5M114.5 196.5l3.5 3.5M114.5 200l3.5 -3.5M115 196.5l3.5 3.5M115 200l3.5 -3.5M115.5 197l3.5 3.5M115.5 200.5l3.5 -3.5M116 197l3.5 3.5M116 200.5l3.5 -3.5M116 197.5l3.5 3.5M116 201l3.5 -3.5M116.5 197.5l3.5 3.5M116.5 201l3.5 -3.5M117 197.5l3.5 3.5M117 201l3.5 -3.5M117.5 198l3.5 3.5M117.5 201.5l3.5 -3.5M118 198l3.5 3.5M118 201.5l3.5 -3.5M118.5 198.5l3.5 3.5M118.5 202l3.5 -3.5M119 198.5l3.5 3.5M119 202l3.5 -3.5M119.5 198.5l3.5 3.5M119.5 202l3.5 -3.5M119.5 199l3.5 3.5M119.5 202.5l3.5 -3.5M120 199l3.5 3.5M120 202.5l3.5 -3.5M120.5 199l3.5 3.5M120.5 202.5l3.5 -3.5M121 199.5l3.5 3.5M121 203l3.5 -3.5M121.5 199.5l3.5 3.5M121.5 203l3.5 -3.5M122 200l3.5 3.5M122 203.5l3.5 -3.5M122.5 200l3.5 3.5M122.5 203.5l3.5 -3.5M123 200l3.5 3.5M123 203.5l3.5 -3.5M123.5 200l3.5 3.5M123.5 203.5l3.5 -3.5M123.5 200.5l3.5 3.5M123.5 204l3.5 -3.5M124 200.5l3.5 3.5M124 204l3.5 -3.5M124.5 200.5l3.5 3.5M124.5 204l3.5 -3.5M125 200.5l3.5 3.5M125 204l3.5 -3.5M125 201l3.5 3.5M125 204.5l3.5 -3.5M125.5 201l3.5 3.5M125.5 204.5l3.5 -3.5M126 201l3.5 3.5M126 204.5l3.5 -3.5M126.5 201l3.5 3.5M126.5 204.5l3.5 -3.5M127 201l3.5 3.5M127 204.5l3.5 -3.5M127 201.5l3.5 3.5M127 205l3.5 -3.5M127.5 201.5l3.5 3.5M127.5 205l3.5 -3.5M128 201.5l3.5 3.5M128 205l3.5 -3.5M128.5 201.5l3.5 3.5M128.5 205l3.5 -3.5M129 201.5l3.5 3.5M129 205l3.5 -3.5M129.5 201.5l3.5 3.5M129.5 205l3.5 -3.5M129.5 202l3.5 3.5M129.5 205.5l3.5 -3.5M130 202l3.5 3.5M130 205.5l3.5 -3.5M130.5 202l3.5 3.5M130.5 205.5l3.5 -3.5M131 202l3.5 3.5M131 205.5l3.5 -3.5M131.5 202l3.5 3.5M131.5 205.5l3.5 -3.5M132 202l3.5 3.5M132 205.5l3.5 -3.5M132.5 202.5l3.5 3.5M132.5 206l3.5 -3.5M133 202.5l3.5 3.5M133 206l3.5 -3.5M133.5 202.5l3.5 3.5M133.5 206l3.5 -3.5M134 202.5l3.5 3.5M134 206l3.5 -3.5M134.5 202.5l3.5 3.5M134.5 206l3.5 -3.5M135 202.5l3.5 3.5M135 206l3.5 -3.5M135.5 202.5l3.5 3.5M135.5 206l3.5 -3.5M136 202.5l3.5 3.5M136 206l3.5 -3.5M136.5 202.5l3.5 3.5M136.5 206l3.5 -3.5M137 203l3.5 3.5M137 206.5l3.5 -3.5M137.5 203l3.5 3.5M137.5 206.5l3.5 -3.5M138 203l3.5 3.5M138 206.5l3.5 -3.5M138.5 203l3.5 3.5M138.5 206.5l3.5 -3.5M139 203l3.5 3.5M139 206.5l3.5 -3.5M139.5 203l3.5 3.5M139.5 206.5l3.5 -3.5M140 203l3.5 3.5M140 206.5l3.5 -3.5M140.5 203l3.5 3.5M140.5 206.5l3.5 -3.5M141 203l3.5 3.5M141 206.5l3.5 -3.5M141.5 203l3.5 3.5M141.5 206.5l3.5 -3.5M142 203l3.5 3.5M142 206.5l3.5 -3.5M142.5 203l3.5 3.5M142.5 206.5l3.5 -3.5M143 203l3.5 3.5M143 206.5l3.5 -3.5M143.5 203l3.5 3.5M143.5 206.5l3.5 -3.5M144 203l3.5 3.5M144 206.5l3.5 -3.5M144.5 203l3.5 3.5M144.5 206.5l3.5 -3.5M145 203l3.5 3.5M145 206.5l3.5 -3.5M145.5 203l3.5 3.5M145.5 206.5l3.5 -3.5M146 203l3.5 3.5M146 206.5l3.5 -3.5M146.5 203l3.5 3.5M146.5 206.5l3.5 -3.5M147 203l3.5 3.5M147 206.5l3.5 -3.5M147.5 203l3.5 3.5M147.5 206.5l3.5 -3.5M148 203l3.5 3.5M148 206.5l3.5 -3.5M148.5 203l3.5 3.5M148.5 206.5l3.5 -3.5M149 203l3.5 3.5M149 206.5l3.5 -3.5M149.5 203l3.5 3.5M149.5 206.5l3.5 -3.5M150 203l3.5 3.5M150 206.5l3.5 -3.5M150.5 203l3.5 3.5M150.5 206.5l3.5 -3.5M150.5 202.5l3.5 3.5M150.5 206l3.5 -3.5M151 202.5l3.5 3.5M151 206l3.5 -3.5M151.5 202.5l3.5 3.5M151.5 206l3.5 -3.5M152 202.5l3.5 3.5M152 206l3.5 -3.5M152.5 202.5l3.5 3.5M152.5 206l3.5 -3.5M153 202.5l3.5 3.5M153 206l3.5 -3.5M153.5 202.5l3.5 3.5M153.5 206l3.5 -3.5M154 202.5l3.5 3.5M154 206l3.5 -3.5M154.5 202.5l3.5 3.5M154.5 206l3.5 -3.5M155 202l3.5 3.5M155 205.5l3.5 -3.5M155.5 202l3.5 3.5M155.5 205.5l3.5 -3.5M156 202l3.5 3.5M156 205.5l3.5 -3.5M156.5 202l3.5 3.5M156.5 205.5l3.5 -3.5M157 202l3.5 3.5M157 205.5l3.5 -3.5M157.5 202l3.5 3.5M157.5 205.5l3.5 -3.5M158 201.5l3.5 3.5M158 205l3.5 -3.5M158.5 201.5l3.5 3.5M158.5 205l3.5 -3.5M159 201.5l3.5 3.5M159 205l3.5 -3.5M159.5 201.5l3.5 3.5M159.5 205l3.5 -3.5M160 201.5l3.5 3.5M160 205l3.5 -3.5M160 201l3.5 3.5M160 204.5l3.5 -3.5M160.5 201l3.5 3.5M160.5 204.5l3.5 -3.5M161 201l3.5 3.5M161 204.5l3.5 -3.5M161.5 201l3.5 3.5M161.5 204.5l3.5 -3.5M162 201l3.5 3.5M162 204.5l3.5 -3.5M162 200.5l3.5 3.5M162 204l3.5 -3.5M162.5 200.5l3.5 3.5M162.5 204l3.5 -3.5M163 200.5l3.5 3.5M163 204l3.5 -3.5M163.5 200.5l3.5 3.5M163.5 204l3.5 -3.5M164 200l3.5 3.5M164 203.5l3.5 -3.5M164.5 200l3.5 3.5M164.5 203.5l3.5 -3.5M165 200l3.5 3.5M165 203.5l3.5 -3.5M165.5 199.5l3.5 3.5M165.5 203l3.5 -3.5M166 199.5l3.5 3.5M166 203l3.5 -3.5M166.5 199.5l3.5 3.5M166.5 203l3.5 -3.5M167 199l3.5 3.5M167 202.5l3.5 -3.5M167.5 199l3.5 3.5M167.5 202.5l3.5 -3.5M168 199l3.5 3.5M168 202.5l3.5 -3.5M168 198.5l3.5 3.5M168 202l3.5 -3.5M168.5 198.5l3.5 3.5M168.5 202l3.5 -3.5M169 198.5l3.5 3.5M169 202l3.5 -3.5M169 198l3.5 3.5M169 201.5l3.5 -3.5M169.5 198l3.5 3.5M169.5 201.5l3.5 -3.5M170 198l3.5 3.5M170 201.5l3.5 -3.5M170.5 197.5l3.5 3.5M170.5 201l3.5 -3.5M171 197.5l3.5 3.5M171 201l3.5 -3.5M171.5 197l3.5 3.5M171.5 200.5l3.5 -3.5M172 197l3.5 3.5M172 200.5l3.5 -3.5M172 196.5l3.5 3.5M172 200l3.5 -3.5M172.5 196.5l3.5 3.5M172.5 200l3.5 -3.5M173 196.5l3.5 3.5M173 200l3.5 -3.5M173.5 196l3.5 3.5M173.5 199.5l3.5 -3.5M174 196l3.5 3.5M174 199.5l3.5 -3.5M174 195.5l3.5 3.5M174 199l3.5 -3.5M174.5 195.5l3.5 3.5M174.5 199l3.5 -3.5M175 195.5l3.5 3.5M175 199l3.5 -3.5M175 195l3.5 3.5M175 198.5l3.5 -3.5M175.5 195l3.5 3.5M175.5 198.5l3.5 -3.5M175.5 194.5l3.5 3.5M175.5 198l3.5 -3.5M176 194.5l3.5 3.5M176 198l3.5 -3.5M176.5 194l3.5 3.5M176.5 197.5l3.5 -3.5M177 194l3.5 3.5M177 197.5l3.5 -3.5M177.5 193.5l3.5 3.5M177.5 197l3.5 -3.5M178 193.5l3.5 3.5M178 197l3.5 -3.5M178.5 193l3.5 3.5M178.5 196.5l3.5 -3.5M179 192.5l3.5 3.5M179 196l3.5 -3.5M179.5 192.5l3.5 3.5M179.5 196l3.5 -3.5M179.5 192l3.5 3.5M179.5 195.5l3.5 -3.5M180 192l3.5 3.5M180 195.5l3.5 -3.5M180.5 191.5l3.5 3.5M180.5 195l3.5 -3.5M181 191.5l3.5 3.5M181 195l3.5 -3.5M181 191l3.5 3.5M181 194.5l3.5 -3.5M181.5 191l3.5 3.5M181.5 194.5l3.5 -3.5M181.5 190.5l3.5 3.5M181.5 194l3.5 -3.5M182 190.5l3.5 3.5M182 194l3.5 -3.5M182.5 190l3.5 3.5M182.5 193.5l3.5 -3.5M183 190l3.5 3.5M183 193.5l3.5 -3.5M183 189.5l3.5 3.5M183 193l3.5 -3.5M183.5 189.5l3.5 3.5M183.5 193l3.5 -3.5M184 189l3.5 3.5M184 192.5l3.5 -3.5M184.5 188.5l3.5 3.5M184.5 192l3.5 -3.5M185 188.5l3.5 3.5M185 192l3.5 -3.5M185 188l3.5 3.5M185 191.5l3.5 -3.5M185.5 188l3.5 3.5M185.5 191.5l3.5 -3.5M186 187.5l3.5 3.5M186 191l3.5 -3.5M186.5 187l3.5 3.5M186.5 190.5l3.5 -3.5M187 186.5l3.5 3.5M187 190l3.5 -3.5M187.5 186.5l3.5 3.5M187.5 190l3.5 -3.5M187.5 186l3.5 3.5M187.5 189.5l3.5 -3.5M188 186l3.5 3.5M188 189.5l3.5 -3.5M188 185.5l3.5 3.5M188 189l3.5 -3.5M188.5 185.5l3.5 3.5M188.5 189l3.5 -3.5M188.5 185l3.5 3.5M188.5 188.5l3.5 -3.5M189 185l3.5 3.5M189 188.5l3.5 -3.5M189.5 184.5l3.5 3.5M189.5 188l3.5 -3.5M190 184l3.5 3.5M190 187.5l3.5 -3.5M190.5 183.5l3.5 3.5M190.5 187l3.5 -3.5M191 183.5l3.5 3.5M191 187l3.5 -3.5M191 183l3.5 3.5M191 186.5l3.5 -3.5M191.5 183l3.5 3.5M191.5 186.5l3.5 -3.5M191.5 182.5l3.5 3.5M191.5 186l3.5 -3.5M192 182.5l3.5 3.5M192 186l3.5 -3.5M192 182l3.5 3.5M192 185.5l3.5 -3.5M192.5 181.5l3.5 3.5M192.5 185l3.5 -3.5M193 181.5l3.5 3.5M193 185l3.5 -3.5M193 181l3.5 3.5M193 184.5l3.5 -3.5M193.5 181l3.5 3.5M193.5 184.5l3.5 -3.5M193.5 180.5l3.5 3.5M193.5 184l3.5 -3.5M194 180l3.5 3.5M194 183.5l3.5 -3.5M194.5 180l3.5 3.5M194.5 183.5l3.5 -3.5M194.5 179.5l3.5 3.5M194.5 183l3.5 -3.5M195 179l3.5 3.5M195 182.5l3.5 -3.5M195.5 178.5l3.5 3.5M195.5 182l3.5 -3.5M195.5 178l3.5 3.5M195.5 181.5l3.5 -3.5M196 177.5l3.5 3.5M196 181l3.5 -3.5M196.5 177l3.5 3.5M196.5 180.5l3.5 -3.5M197 176.5l3.5 3.5M197 180l3.5 -3.5M197 176l3.5 3.5M197 179.5l3.5 -3.5M197.5 175.5l3.5 3.5M197.5 179l3.5 -3.5M198 175l3.5 3.5M198 178.5l3.5 -3.5M198 174.5l3.5 3.5M198 178l3.5 -3.5M198.5 174l3.5 3.5M198.5 177.5l3.5 -3.5M198.5 173.5l3.5 3.5M198.5 177l3.5 -3.5M199 173l3.5 3.5M199 176.5l3.5 -3.5M199 172.5l3.5 3.5M199 176l3.5 -3.5M199.5 171.5l3.5 3.5M199.5 175l3.5 -3.5M200 171l3.5 3.5M200 174.5l3.5 -3.5M200 170.5l3.5 3.5M200 174l3.5 -3.5M200.5 170l3.5 3.5M200.5 173.5l3.5 -3.5M200.5 169l3.5 3.5M200.5 172.5l3.5 -3.5M201 168.5l3.5 3.5M201 172l3.5 -3.5M201.5 167.5l3.5 3.5M201.5 171l3.5 -3.5M201.5 166.5l3.5 3.5M201.5 170l3.5 -3.5M202 166l3.5 3.5M202 169.5l3.5 -3.5M202 165l3.5 3.5M202 168.5l3.5 -3.5M202.5 164l3.5 3.5M202.5 167.5l3.5 -3.5M202.5 163l3.5 3.5M202.5 166.5l3.5 -3.5M203 162l3.5 3.5M203 165.5l3.5 -3.5M203.5 160.5l3.5 3.5M203.5 164l3.5 -3.5M203.5 159.5l3.5 3.5M203.5 163l3.5 -3.5M204 158l3.5 3.5M204 161.5l3.5 -3.5M204 157l3.5 3.5M204 160.5l3.5 -3.5M204.5 155.5l3.5 3.5M204.5 159l3.5 -3.5M205 154l3.5 3.5M205 157.5l3.5 -3.5M205 152.5l3.5 3.5M205 156l3.5 -3.5M205.5 150.5l3.5 3.5M205.5 154l3.5 -3.5M205.5 149l3.5 3.5M205.5 152.5l3.5 -3.5M206 147l3.5 3.5M206 150.5l3.5 -3.5M206 145l3.5 3.5M206 148.5l3.5 -3.5M206.5 143l3.5 3.5M206.5 146.5l3.5 -3.5M207 140.5l3.5 3.5M207 144l3.5 -3.5M207 138l3.5 3.5M207 141.5l3.5 -3.5M207.5 135.5l3.5 3.5M207.5 139l3.5 -3.5M207.5 133l3.5 3.5M207.5 136.5l3.5 -3.5M208 130.5l3.5 3.5M208 134l3.5 -3.5M208.5 127.5l3.5 3.5M208.5 131l3.5 -3.5M208.5 124l3.5 3.5M208.5 127.5l3.5 -3.5M209 121l3.5 3.5M209 124.5l3.5 -3.5M209 117.5l3.5 3.5M209 121l3.5 -3.5M209.5 114l3.5 3.5M209.5 117.5l3.5 -3.5M209.5 110.5l3.5 3.5M209.5 114l3.5 -3.5M210 106.5l3.5 3.5M210 110l3.5 -3.5M210.5 102.5l3.5 3.5M210.5 106l3.5 -3.5M210.5 98.5l3.5 3.5M210.5 102l3.5 -3.5M211 94.5l3.5 3.5M211 98l3.5 -3.5M211 90l3.5 3.5M211 93.5l3.5 -3.5M211.5 86l3.5 3.5M211.5 89.5l3.5 -3.5M212 81.5l3.5 3.5M212 85l3.5 -3.5M212 77.5l3.5 3.5M212 81l3.5 -3.5M212.5 73.5l3.5 3.5M212.5 77l3.5 -3.5M212.5 69.5l3.5 3.5M212.5 73l3.5 -3.5M213 65.5l3.5 3.5M213 69l3.5 -3.5M213 62l3.5 3.5M213 65.5l3.5 -3.5M213.5 59l3.5 3.5M213.5 62.5l3.5 -3.5M214 56l3.5 3.5M214 59.5l3.5 -3.5M214 53.5l3.5 3.5M214 57l3.5 -3.5M214.5 51l3.5 3.5M214.5 54.5l3.5 -3.5M214.5 49.5l3.5 3.5M214.5 53l3.5 -3.5M215 48l3.5 3.5M215 51.5l3.5 -3.5M215.5 46.5l3.5 3.5M215.5 50l3.5 -3.5M215.5 45.5l3.5 3.5M215.5 49l3.5 -3.5M216 45l3.5 3.5M216 48.5l3.5 -3.5M216 44.5l3.5 3.5M216 48l3.5 -3.5M216.5 43.5l3.5 3.5M216.5 47l3.5 -3.5M216.5 44l3.5 3.5M216.5 47.5l3.5 -3.5M217 45l3.5 3.5M217 48.5l3.5 -3.5M217.5 45.5l3.5 3.5M217.5 49l3.5 -3.5M217.5 46l3.5 3.5M217.5 49.5l3.5 -3.5M218 47.5l3.5 3.5M218 51l3.5 -3.5M218 48.5l3.5 3.5M218 52l3.5 -3.5M218.5 50.5l3.5 3.5M218.5 54l3.5 -3.5M219 52.5l3.5 3.5M219 56l3.5 -3.5M219 55l3.5 3.5M219 58.5l3.5 -3.5M219.5 57.5l3.5 3.5M219.5 61l3.5 -3.5M219.5 61l3.5 3.5M219.5 64.5l3.5 -3.5M220 64l3.5 3.5M220 67.5l3.5 -3.5M220 68l3.5 3.5M220 71.5l3.5 -3.5M220.5 72l3.5 3.5M220.5 75.5l3.5 -3.5M221 76l3.5 3.5M221 79.5l3.5 -3.5M221 80l3.5 3.5M221 83.5l3.5 -3.5M221.5 84l3.5 3.5M221.5 87.5l3.5 -3.5M221.5 88.5l3.5 3.5M221.5 92l3.5 -3.5M222 92.5l3.5 3.5M222 96l3.5 -3.5M222.5 97l3.5 3.5M222.5 100.5l3.5 -3.5M222.5 101l3.5 3.5M222.5 104.5l3.5 -3.5M223 105l3.5 3.5M223 108.5l3.5 -3.5M223 109l3.5 3.5M223 112.5l3.5 -3.5M223.5 112.5l3.5 3.5M223.5 116l3.5 -3.5M223.5 116l3.5 3.5M223.5 119.5l3.5 -3.5M224 119.5l3.5 3.5M224 123l3.5 -3.5M224.5 123l3.5 3.5M224.5 126.5l3.5 -3.5M224.5 126l3.5 3.5M224.5 129.5l3.5 -3.5M225 129l3.5 3.5M225 132.5l3.5 -3.5M225 132l3.5 3.5M225 135.5l3.5 -3.5M225.5 134.5l3.5 3.5M225.5 138l3.5 -3.5M226 137l3.5 3.5M226 140.5l3.5 -3.5M226 139.5l3.5 3.5M226 143l3.5 -3.5M226.5 142l3.5 3.5M226.5 145.5l3.5 -3.5M226.5 144l3.5 3.5M226.5 147.5l3.5 -3.5M227 146l3.5 3.5M227 149.5l3.5 -3.5M227 148l3.5 3.5M227 151.5l3.5 -3.5M227.5 150l3.5 3.5M227.5 153.5l3.5 -3.5M228 151.5l3.5 3.5M228 155l3.5 -3.5M228 153.5l3.5 3.5M228 157l3.5 -3.5M228.5 155l3.5 3.5M228.5 158.5l3.5 -3.5M228.5 156.5l3.5 3.5M228.5 160l3.5 -3.5M229 157.5l3.5 3.5M229 161l3.5 -3.5M229.5 159l3.5 3.5M229.5 162.5l3.5 -3.5M229.5 160l3.5 3.5M229.5 163.5l3.5 -3.5M230 161.5l3.5 3.5M230 165l3.5 -3.5M230 162.5l3.5 3.5M230 166l3.5 -3.5M230.5 163.5l3.5 3.5M230.5 167l3.5 -3.5M230.5 164.5l3.5 3.5M230.5 168l3.5 -3.5M231 165.5l3.5 3.5M231 169l3.5 -3.5M231.5 166.5l3.5 3.5M231.5 170l3.5 -3.5M231.5 167l3.5 3.5M231.5 170.5l3.5 -3.5M232 168l3.5 3.5M232 171.5l3.5 -3.5M232 169l3.5 3.5M232 172.5l3.5 -3.5M232.5 169.5l3.5 3.5M232.5 173l3.5 -3.5M233 170l3.5 3.5M233 173.5l3.5 -3.5M233 171l3.5 3.5M233 174.5l3.5 -3.5M233.5 171.5l3.5 3.5M233.5 175l3.5 -3.5M233.5 172l3.5 3.5M233.5 175.5l3.5 -3.5M234 172.5l3.5 3.5M234 176l3.5 -3.5M234 173.5l3.5 3.5M234 177l3.5 -3.5M234.5 174l3.5 3.5M234.5 177.5l3.5 -3.5M235 174.5l3.5 3.5M235 178l3.5 -3.5M235 175l3.5 3.5M235 178.5l3.5 -3.5M235.5 175.5l3.5 3.5M235.5 179l3.5 -3.5M235.5 176l3.5 3.5M235.5 179.5l3.5 -3.5M236 176l3.5 3.5M236 179.5l3.5 -3.5M236.5 176.5l3.5 3.5M236.5 180l3.5 -3.5M236.5 177l3.5 3.5M236.5 180.5l3.5 -3.5M237 177.5l3.5 3.5M237 181l3.5 -3.5M237 178l3.5 3.5M237 181.5l3.5 -3.5M237.5 178.5l3.5 3.5M237.5 182l3.5 -3.5M238 179l3.5 3.5M238 182.5l3.5 -3.5M238.5 179.5l3.5 3.5M238.5 183l3.5 -3.5M239 180l3.5 3.5M239 183.5l3.5 -3.5M239 180.5l3.5 3.5M239 184l3.5 -3.5M239.5 180.5l3.5 3.5M239.5 184l3.5 -3.5M240 181l3.5 3.5M240 184.5l3.5 -3.5M240 181.5l3.5 3.5M240 185l3.5 -3.5M240.5 181.5l3.5 3.5M240.5 185l3.5 -3.5M240.5 182l3.5 3.5M240.5 185.5l3.5 -3.5M241 182l3.5 3.5M241 185.5l3.5 -3.5M241 182.5l3.5 3.5M241 186l3.5 -3.5M241.5 183l3.5 3.5M241.5 186.5l3.5 -3.5M242 183l3.5 3.5M242 186.5l3.5 -3.5M242 183.5l3.5 3.5M242 187l3.5 -3.5M242.5 183.5l3.5 3.5M242.5 187l3.5 -3.5M242.5 184l3.5 3.5M242.5 187.5l3.5 -3.5M243 184l3.5 3.5M243 187.5l3.5 -3.5M243.5 184.5l3.5 3.5M243.5 188l3.5 -3.5M244 185l3.5 3.5M244 188.5l3.5 -3.5M244.5 185.5l3.5 3.5M244.5 189l3.5 -3.5M245 186l3.5 3.5M245 189.5l3.5 -3.5M245.5 186l3.5 3.5M245.5 189.5l3.5 -3.5M245.5 186.5l3.5 3.5M245.5 190l3.5 -3.5M246 186.5l3.5 3.5M246 190l3.5 -3.5M246 187l3.5 3.5M246 190.5l3.5 -3.5M246.5 187l3.5 3.5M246.5 190.5l3.5 -3.5M247 187.5l3.5 3.5M247 191l3.5 -3.5M247.5 187.5l3.5 3.5M247.5 191l3.5 -3.5M247.5 188l3.5 3.5M247.5 191.5l3.5 -3.5M248 188l3.5 3.5M248 191.5l3.5 -3.5M248 188.5l3.5 3.5M248 192l3.5 -3.5M248.5 188.5l3.5 3.5M248.5 192l3.5 -3.5M249 189l3.5 3.5M249 192.5l3.5 -3.5M249.5 189.5l3.5 3.5M249.5 193l3.5 -3.5M250 189.5l3.5 3.5M250 193l3.5 -3.5M250.5 190l3.5 3.5M250.5 193.5l3.5 -3.5M251 190.5l3.5 3.5M251 194l3.5 -3.5M251.5 191l3.5 3.5M251.5 194.5l3.5 -3.5M252 191l3.5 3.5M252 194.5l3.5 -3.5M252.5 191.5l3.5 3.5M252.5 195l3.5 -3.5M253 192l3.5 3.5M253 195.5l3.5 -3.5M253.5 192l3.5 3.5M253.5 195.5l3.5 -3.5M253.5 192.5l3.5 3.5M253.5 196l3.5 -3.5M254 192.5l3.5 3.5M254 196l3.5 -3.5M254.5 193l3.5 3.5M254.5 196.5l3.5 -3.5M255 193l3.5 3.5M255 196.5l3.5 -3.5M255 193.5l3.5 3.5M255 197l3.5 -3.5M255.5 193.5l3.5 3.5M255.5 197l3.5 -3.5M256 194l3.5 3.5M256 197.5l3.5 -3.5M256.5 194l3.5 3.5M256.5 197.5l3.5 -3.5M256.5 194.5l3.5 3.5M256.5 198l3.5 -3.5M257 194.5l3.5 3.5M257 198l3.5 -3.5M257.5 195l3.5 3.5M257.5 198.5l3.5 -3.5M258 195l3.5 3.5M258 198.5l3.5 -3.5M258.5 195.5l3.5 3.5M258.5 199l3.5 -3.5M259 195.5l3.5 3.5M259 199l3.5 -3.5M259.5 196l3.5 3.5M259.5 199.5l3.5 -3.5M260 196l3.5 3.5M260 199.5l3.5 -3.5M260 196.5l3.5 3.5M260 200l3.5 -3.5M260.5 196.5l3.5 3.5M260.5 200l3.5 -3.5M261 197l3.5 3.5M261 200.5l3.5 -3.5M261.5 197l3.5 3.5M261.5 200.5l3.5 -3.5M262 197.5l3.5 3.5M262 201l3.5 -3.5M262.5 197.5l3.5 3.5M262.5 201l3.5 -3.5M263 197.5l3.5 3.5M263 201l3.5 -3.5M263 198l3.5 3.5M263 201.5l3.5 -3.5M263.5 198l3.5 3.5M263.5 201.5l3.5 -3.5M264 198l3.5 3.5M264 201.5l3.5 -3.5M264 198.5l3.5 3.5M264 202l3.5 -3.5M264.5 198.5l3.5 3.5M264.5 202l3.5 -3.5M265 198.5l3.5 3.5M265 202l3.5 -3.5M265.5 199l3.5 3.5M265.5 202.5l3.5 -3.5M266 199l3.5 3.5M266 202.5l3.5 -3.5M266.5 199l3.5 3.5M266.5 202.5l3.5 -3.5M266.5 199.5l3.5 3.5M266.5 203l3.5 -3.5M267 199.5l3.5 3.5M267 203l3.5 -3.5M267.5 199.5l3.5 3.5M267.5 203l3.5 -3.5M267.5 200l3.5 3.5M267.5 203.5l3.5 -3.5M268 200l3.5 3.5M268 203.5l3.5 -3.5M268.5 200l3.5 3.5M268.5 203.5l3.5 -3.5M269 200l3.5 3.5M269 203.5l3.5 -3.5M269.5 200.5l3.5 3.5M269.5 204l3.5 -3.5M270 200.5l3.5 3.5M270 204l3.5 -3.5M270.5 200.5l3.5 3.5M270.5 204l3.5 -3.5M271 201l3.5 3.5M271 204.5l3.5 -3.5M271.5 201l3.5 3.5M271.5 204.5l3.5 -3.5M272 201l3.5 3.5M272 204.5l3.5 -3.5M272.5 201l3.5 3.5M272.5 204.5l3.5 -3.5M273 201.5l3.5 3.5M273 205l3.5 -3.5M273.5 201.5l3.5 3.5M273.5 205l3.5 -3.5M274 201.5l3.5 3.5M274 205l3.5 -3.5M274.5 201.5l3.5 3.5M274.5 205l3.5 -3.5M275 201.5l3.5 3.5M275 205l3.5 -3.5M275.5 202l3.5 3.5M275.5 205.5l3.5 -3.5M276 202l3.5 3.5M276 205.5l3.5 -3.5M276.5 202l3.5 3.5M276.5 205.5l3.5 -3.5M277 202l3.5 3.5M277 205.5l3.5 -3.5M277.5 202l3.5 3.5M277.5 205.5l3.5 -3.5M278 202l3.5 3.5M278 205.5l3.5 -3.5M278 202.5l3.5 3.5M278 206l3.5 -3.5M278.5 202.5l3.5 3.5M278.5 206l3.5 -3.5M279 202.5l3.5 3.5M279 206l3.5 -3.5M279.5 202.5l3.5 3.5M279.5 206l3.5 -3.5M280 202.5l3.5 3.5M280 206l3.5 -3.5M280.5 202.5l3.5 3.5M280.5 206l3.5 -3.5M281 202.5l3.5 3.5M281 206l3.5 -3.5M281.5 202.5l3.5 3.5M281.5 206l3.5 -3.5M282 202.5l3.5 3.5M282 206l3.5 -3.5M282.5 202.5l3.5 3.5M282.5 206l3.5 -3.5M282.5 203l3.5 3.5M282.5 206.5l3.5 -3.5M283 203l3.5 3.5M283 206.5l3.5 -3.5M283.5 203l3.5 3.5M283.5 206.5l3.5 -3.5M284 203l3.5 3.5M284 206.5l3.5 -3.5M284.5 203l3.5 3.5M284.5 206.5l3.5 -3.5M285 203l3.5 3.5M285 206.5l3.5 -3.5M285.5 203l3.5 3.5M285.5 206.5l3.5 -3.5M286 203l3.5 3.5M286 206.5l3.5 -3.5M286.5 203l3.5 3.5M286.5 206.5l3.5 -3.5M287 203l3.5 3.5M287 206.5l3.5 -3.5M287.5 203l3.5 3.5M287.5 206.5l3.5 -3.5M288 203l3.5 3.5M288 206.5l3.5 -3.5M288.5 203l3.5 3.5M288.5 206.5l3.5 -3.5M289 203l3.5 3.5M289 206.5l3.5 -3.5M289.5 203l3.5 3.5M289.5 206.5l3.5 -3.5M290 203l3.5 3.5M290 206.5l3.5 -3.5M290.5 203l3.5 3.5M290.5 206.5l3.5 -3.5M291 203l3.5 3.5M291 206.5l3.5 -3.5M291.5 203l3.5 3.5M291.5 206.5l3.5 -3.5M292 203l3.5 3.5M292 206.5l3.5 -3.5M292.5 203l3.5 3.5M292.5 206.5l3.5 -3.5M293 203l3.5 3.5M293 206.5l3.5 -3.5M293.5 203l3.5 3.5M293.5 206.5l3.5 -3.5M294 203l3.5 3.5M294 206.5l3.5 -3.5M294.5 203l3.5 3.5M294.5 206.5l3.5 -3.5M295 203l3.5 3.5M295 206.5l3.5 -3.5M295.5 203l3.5 3.5M295.5 206.5l3.5 -3.5M296 203l3.5 3.5M296 206.5l3.5 -3.5M296.5 202.5l3.5 3.5M296.5 206l3.5 -3.5M297 202.5l3.5 3.5M297 206l3.5 -3.5M297.5 202.5l3.5 3.5M297.5 206l3.5 -3.5M298 202.5l3.5 3.5M298 206l3.5 -3.5M298.5 202.5l3.5 3.5M298.5 206l3.5 -3.5M299 202.5l3.5 3.5M299 206l3.5 -3.5M299.5 202.5l3.5 3.5M299.5 206l3.5 -3.5M300 202.5l3.5 3.5M300 206l3.5 -3.5M300.5 202.5l3.5 3.5M300.5 206l3.5 -3.5M300.5 202l3.5 3.5M300.5 205.5l3.5 -3.5M301 202l3.5 3.5M301 205.5l3.5 -3.5M301.5 202l3.5 3.5M301.5 205.5l3.5 -3.5M302 202l3.5 3.5M302 205.5l3.5 -3.5M302.5 202l3.5 3.5M302.5 205.5l3.5 -3.5M303 202l3.5 3.5M303 205.5l3.5 -3.5M303.5 202l3.5 3.5M303.5 205.5l3.5 -3.5M303.5 201.5l3.5 3.5M303.5 205l3.5 -3.5M304 201.5l3.5 3.5M304 205l3.5 -3.5M304.5 201.5l3.5 3.5M304.5 205l3.5 -3.5M305 201.5l3.5 3.5M305 205l3.5 -3.5M305.5 201.5l3.5 3.5M305.5 205l3.5 -3.5M306 201l3.5 3.5M306 204.5l3.5 -3.5M306.5 201l3.5 3.5M306.5 204.5l3.5 -3.5M307 201l3.5 3.5M307 204.5l3.5 -3.5M307.5 201l3.5 3.5M307.5 204.5l3.5 -3.5M308 200.5l3.5 3.5M308 204l3.5 -3.5M308.5 200.5l3.5 3.5M308.5 204l3.5 -3.5M309 200.5l3.5 3.5M309 204l3.5 -3.5M309.5 200.5l3.5 3.5M309.5 204l3.5 -3.5M309.5 200l3.5 3.5M309.5 203.5l3.5 -3.5M310 200l3.5 3.5M310 203.5l3.5 -3.5M310.5 200l3.5 3.5M310.5 203.5l3.5 -3.5M311 200l3.5 3.5M311 203.5l3.5 -3.5M311 199.5l3.5 3.5M311 203l3.5 -3.5M311.5 199.5l3.5 3.5M311.5 203l3.5 -3.5M312 199.5l3.5 3.5M312 203l3.5 -3.5M312.5 199.5l3.5 3.5M312.5 203l3.5 -3.5M312.5 199l3.5 3.5M312.5 202.5l3.5 -3.5M313 199l3.5 3.5M313 202.5l3.5 -3.5M313.5 199l3.5 3.5M313.5 202.5l3.5 -3.5M314 198.5l3.5 3.5M314 202l3.5 -3.5M314.5 198.5l3.5 3.5M314.5 202l3.5 -3.5M315 198l3.5 3.5M315 201.5l3.5 -3.5M315.5 198l3.5 3.5M315.5 201.5l3.5 -3.5M316 198l3.5 3.5M316 201.5l3.5 -3.5M316 197.5l3.5 3.5M316 201l3.5 -3.5M316.5 197.5l3.5 3.5M316.5 201l3.5 -3.5M317 197l3.5 3.5M317 200.5l3.5 -3.5M317.5 197l3.5 3.5M317.5 200.5l3.5 -3.5M318 196.5l3.5 3.5M318 200l3.5 -3.5M318.5 196.5l3.5 3.5M318.5 200l3.5 -3.5M319 196.5l3.5 3.5M319 200l3.5 -3.5M319 196l3.5 3.5M319 199.5l3.5 -3.5M319.5 196l3.5 3.5M319.5 199.5l3.5 -3.5M320 195.5l3.5 3.5M320 199l3.5 -3.5M320.5 195.5l3.5 3.5M320.5 199l3.5 -3.5M321 195l3.5 3.5M321 198.5l3.5 -3.5M321.5 194.5l3.5 3.5M321.5 198l3.5 -3.5M322 194.5l3.5 3.5M322 198l3.5 -3.5M322.5 194l3.5 3.5M322.5 197.5l3.5 -3.5M323 194l3.5 3.5M323 197.5l3.5 -3.5M323 193.5l3.5 3.5M323 197l3.5 -3.5M323.5 193.5l3.5 3.5M323.5 197l3.5 -3.5M324 193l3.5 3.5M324 196.5l3.5 -3.5M324.5 193l3.5 3.5M324.5 196.5l3.5 -3.5M324.5 192.5l3.5 3.5M324.5 196l3.5 -3.5M325 192.5l3.5 3.5M325 196l3.5 -3.5M325.5 192l3.5 3.5M325.5 195.5l3.5 -3.5M326 192l3.5 3.5M326 195.5l3.5 -3.5" stroke="#e69f00" stroke-width="0.7" fill="none"/>
</g>
<text x="286.5" y="39.95" text-anchor="end" font-family="Liberation Serif, serif" font-size="9.6">α=0.001, ε=0.20</text>
<path d="M291.0 36.6H316.3" stroke="#9400d3" stroke-width="0.5"/>
<path d="M302.05 36.6h3.2M303.65 35v3.2" stroke="#9400d3" stroke-width="0.5" fill="none"/>
<text x="286.5" y="49.550000000000004" text-anchor="end" font-family="Liberation Serif, serif" font-size="9.6">α=0.001, ε=0.40</text>
<path d="M291.0 46.2H316.3" stroke="#009e73" stroke-width="0.5"/>
<path d="M302.05 46.2a1.6 1.6 0 1 0 3.2 0a1.6 1.6 0 1 0 -3.2 0z" fill="#009e73" stroke="none"/>
<text x="286.5" y="58.550000000000004" text-anchor="end" font-family="Liberation Serif, serif" font-size="9.6">α=0.01, ε=0.20</text>
<path d="M291.0 55.2H316.3" stroke="#e69f00" stroke-width="0.5"/>
<path d="M301.9 53.45l3.5 3.5M301.9 56.95l3.5 -3.5" stroke="#e69f00" stroke-width="0.7" fill="none"/>
<text transform="translate(37.3 227.4) scale(0.95 1)" text-anchor="middle" font-family="Liberation Sans, sans-serif" font-size="10">0</text>
<text transform="translate(66.45 227.4) scale(0.95 1)" text-anchor="middle" font-family="Liberation Sans, sans-serif" font-size="10">100</text>
<text transform="translate(95.6 227.4) scale(0.95 1)" text-anchor="middle" font-family="Liberation Sans, sans-serif" font-size="10">200</text>
<text transform="translate(124.75 227.4) scale(0.95 1)" text-anchor="middle" font-family="Liberation Sans, sans-serif" font-size="10">300</text>
<text transform="translate(153.9 227.4) scale(0.95 1)" text-anchor="middle" font-family="Liberation Sans, sans-serif" font-size="10">400</text>
<text transform="translate(183.05 227.4) scale(0.95 1)" text-anchor="middle" font-family="Liberation Sans, sans-serif" font-size="10">500</text>
<text transform="translate(212.2 227.4) scale(0.95 1)" text-anchor="middle" font-family="Liberation Sans, sans-serif" font-size="10">600</text>
<text transform="translate(241.35 227.4) scale(0.95 1)" text-anchor="middle" font-family="Liberation Sans, sans-serif" font-size="10">700</text>
<text transform="translate(270.5 227.4) scale(0.95 1)" text-anchor="middle" font-family="Liberation Sans, sans-serif" font-size="10">800</text>
<text transform="translate(299.65 227.4) scale(0.95 1)" text-anchor="middle" font-family="Liberation Sans, sans-serif" font-size="10">900</text>
<text transform="translate(328.8 227.4) scale(0.95 1)" text-anchor="middle" font-family="Liberation Sans, sans-serif" font-size="10">1000</text>
<text transform="translate(29.7 218.1) scale(0.95 1)" text-anchor="end" font-family="Liberation Sans, sans-serif" font-size="10">0</text>
<text transform="translate(29.7 181.93) scale(0.95 1)" text-anchor="end" font-family="Liberation Sans, sans-serif" font-size="10">1</text>
<text transform="translate(29.7 145.76) scale(0.95 1)" text-anchor="end" font-family="Liberation Sans, sans-serif" font-size="10">2</text>
<text transform="translate(29.7 109.59) scale(0.95 1)" text-anchor="end" font-family="Liberation Sans, sans-serif" font-size="10">3</text>
<text transform="translate(29.7 73.42) scale(0.95 1)" text-anchor="end" font-family="Liberation Sans, sans-serif" font-size="10">4</text>
<text transform="translate(29.7 37.25) scale(0.95 1)" text-anchor="end" font-family="Liberation Sans, sans-serif" font-size="10">5</text>
<text x="181.6" y="242.4" text-anchor="middle" font-family="Liberation Sans, sans-serif" font-size="12">x</text>
<text transform="translate(13.7 120.7) rotate(-90)" text-anchor="middle" font-family="Liberation Sans, sans-serif" font-size="12.5">P(x)</text>
<text x="30" y="18.9" font-family="Liberation Sans, sans-serif" font-size="10">x10<tspan dx="0.5" dy="-5.3" font-size="8">-</tspan><tspan dx="-0.9" font-size="8">3</tspan></text>
</svg>
</body></html>
